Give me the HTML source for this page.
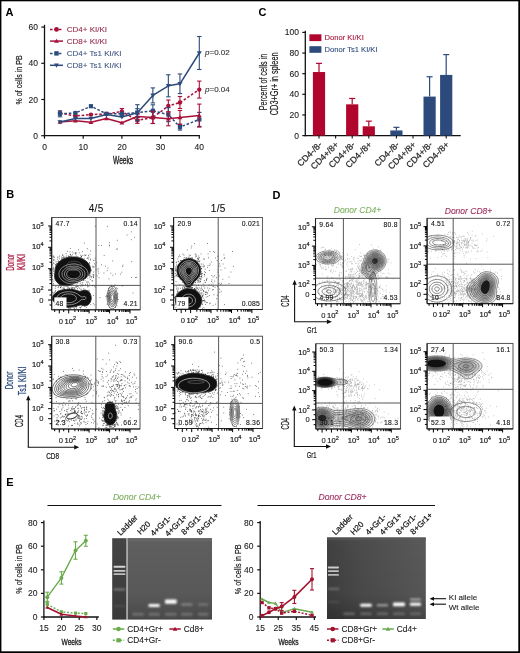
<!DOCTYPE html>
<html><head><meta charset="utf-8"><style>
html,body{margin:0;padding:0;background:#fff;}
svg{display:block;will-change:transform;}
svg text{font-family:"Liberation Sans",sans-serif;}
</style></head><body>
<svg width="520" height="653" viewBox="0 0 520 653">
<rect width="520" height="653" fill="#fff"/>
<rect x="0" y="0" width="520" height="1.3" fill="#000"/><rect x="0" y="0" width="1.4" height="653" fill="#000"/><rect x="518.3" y="0" width="1.7" height="653" fill="#000"/><rect x="0" y="651.3" width="520" height="1.7" fill="#000"/>
<text x="5.50" y="16.00" font-size="11" text-anchor="start" fill="#000" font-weight="bold" font-style="normal"  >A</text>
<text x="6.20" y="198.00" font-size="11" text-anchor="start" fill="#000" font-weight="bold" font-style="normal"  >B</text>
<text x="258.60" y="16.30" font-size="11" text-anchor="start" fill="#000" font-weight="bold" font-style="normal"  >C</text>
<text x="272.50" y="198.80" font-size="11" text-anchor="start" fill="#000" font-weight="bold" font-style="normal"  >D</text>
<text x="6.20" y="486.30" font-size="11" text-anchor="start" fill="#000" font-weight="bold" font-style="normal"  >E</text>
<line x1="44.50" y1="24.80" x2="44.50" y2="136.30" stroke="#111" stroke-width="1.3" />
<line x1="43.90" y1="135.70" x2="199.90" y2="135.70" stroke="#111" stroke-width="1.3" />
<line x1="41.30" y1="135.70" x2="44.50" y2="135.70" stroke="#111" stroke-width="1.2" />
<text x="38.00" y="138.70" font-size="8.5" text-anchor="end" fill="#222" font-weight="normal" font-style="normal" stroke="#222" stroke-width="0.1" >0</text>
<line x1="41.30" y1="99.50" x2="44.50" y2="99.50" stroke="#111" stroke-width="1.2" />
<text x="38.00" y="102.50" font-size="8.5" text-anchor="end" fill="#222" font-weight="normal" font-style="normal" stroke="#222" stroke-width="0.1" >20</text>
<line x1="41.30" y1="63.30" x2="44.50" y2="63.30" stroke="#111" stroke-width="1.2" />
<text x="38.00" y="66.30" font-size="8.5" text-anchor="end" fill="#222" font-weight="normal" font-style="normal" stroke="#222" stroke-width="0.1" >40</text>
<line x1="41.30" y1="27.10" x2="44.50" y2="27.10" stroke="#111" stroke-width="1.2" />
<text x="38.00" y="30.10" font-size="8.5" text-anchor="end" fill="#222" font-weight="normal" font-style="normal" stroke="#222" stroke-width="0.1" >60</text>
<line x1="44.50" y1="135.70" x2="44.50" y2="138.70" stroke="#111" stroke-width="1.2" />
<text x="44.50" y="149.60" font-size="8.5" text-anchor="middle" fill="#222" font-weight="normal" font-style="normal" stroke="#222" stroke-width="0.1" >0</text>
<line x1="83.20" y1="135.70" x2="83.20" y2="138.70" stroke="#111" stroke-width="1.2" />
<text x="83.20" y="149.60" font-size="8.5" text-anchor="middle" fill="#222" font-weight="normal" font-style="normal" stroke="#222" stroke-width="0.1" >10</text>
<line x1="121.90" y1="135.70" x2="121.90" y2="138.70" stroke="#111" stroke-width="1.2" />
<text x="121.90" y="149.60" font-size="8.5" text-anchor="middle" fill="#222" font-weight="normal" font-style="normal" stroke="#222" stroke-width="0.1" >20</text>
<line x1="160.60" y1="135.70" x2="160.60" y2="138.70" stroke="#111" stroke-width="1.2" />
<text x="160.60" y="149.60" font-size="8.5" text-anchor="middle" fill="#222" font-weight="normal" font-style="normal" stroke="#222" stroke-width="0.1" >30</text>
<line x1="199.30" y1="135.70" x2="199.30" y2="138.70" stroke="#111" stroke-width="1.2" />
<text x="199.30" y="149.60" font-size="8.5" text-anchor="middle" fill="#222" font-weight="normal" font-style="normal" stroke="#222" stroke-width="0.1" >40</text>
<text transform="translate(123.10,163.50) scale(0.6272810993722336,1)" font-size="10.6" text-anchor="middle" fill="#1a1a1a" font-weight="normal" stroke="#1a1a1a" stroke-width="0.35">Weeks</text>
<text transform="translate(22.10,79.90) rotate(-90) scale(0.7241221350219723,1)" font-size="9.8" text-anchor="middle" fill="#1a1a1a" font-weight="normal" stroke="#1a1a1a" stroke-width="0.2">% of cells in PB</text>
<polyline points="59.98,113.00 75.46,116.00 90.94,114.60 106.42,114.00 121.90,111.50 137.38,120.40 152.86,117.50 168.34,106.00 179.95,102.50 199.30,89.60" fill="none" stroke="#a8123a" stroke-width="1.5" stroke-dasharray="2.6,1.8" stroke-linejoin="round"/>
<circle cx="59.98" cy="113.00" r="2.20" fill="#a8123a"/>
<circle cx="75.46" cy="116.00" r="2.20" fill="#a8123a"/>
<circle cx="90.94" cy="114.60" r="2.20" fill="#a8123a"/>
<circle cx="106.42" cy="114.00" r="2.20" fill="#a8123a"/>
<line x1="121.90" y1="108.50" x2="121.90" y2="114.50" stroke="#a8123a" stroke-width="1.1" />
<line x1="119.70" y1="108.50" x2="124.10" y2="108.50" stroke="#a8123a" stroke-width="1.1" />
<line x1="119.70" y1="114.50" x2="124.10" y2="114.50" stroke="#a8123a" stroke-width="1.1" />
<circle cx="121.90" cy="111.50" r="2.20" fill="#a8123a"/>
<line x1="137.38" y1="117.40" x2="137.38" y2="123.40" stroke="#a8123a" stroke-width="1.1" />
<line x1="135.18" y1="117.40" x2="139.58" y2="117.40" stroke="#a8123a" stroke-width="1.1" />
<line x1="135.18" y1="123.40" x2="139.58" y2="123.40" stroke="#a8123a" stroke-width="1.1" />
<circle cx="137.38" cy="120.40" r="2.20" fill="#a8123a"/>
<line x1="152.86" y1="111.50" x2="152.86" y2="123.50" stroke="#a8123a" stroke-width="1.1" />
<line x1="150.66" y1="111.50" x2="155.06" y2="111.50" stroke="#a8123a" stroke-width="1.1" />
<line x1="150.66" y1="123.50" x2="155.06" y2="123.50" stroke="#a8123a" stroke-width="1.1" />
<circle cx="152.86" cy="117.50" r="2.20" fill="#a8123a"/>
<line x1="168.34" y1="100.00" x2="168.34" y2="112.00" stroke="#a8123a" stroke-width="1.1" />
<line x1="166.14" y1="100.00" x2="170.54" y2="100.00" stroke="#a8123a" stroke-width="1.1" />
<line x1="166.14" y1="112.00" x2="170.54" y2="112.00" stroke="#a8123a" stroke-width="1.1" />
<circle cx="168.34" cy="106.00" r="2.20" fill="#a8123a"/>
<line x1="179.95" y1="96.50" x2="179.95" y2="108.50" stroke="#a8123a" stroke-width="1.1" />
<line x1="177.75" y1="96.50" x2="182.15" y2="96.50" stroke="#a8123a" stroke-width="1.1" />
<line x1="177.75" y1="108.50" x2="182.15" y2="108.50" stroke="#a8123a" stroke-width="1.1" />
<circle cx="179.95" cy="102.50" r="2.20" fill="#a8123a"/>
<line x1="199.30" y1="81.10" x2="199.30" y2="98.10" stroke="#a8123a" stroke-width="1.1" />
<line x1="197.10" y1="81.10" x2="201.50" y2="81.10" stroke="#a8123a" stroke-width="1.1" />
<line x1="197.10" y1="98.10" x2="201.50" y2="98.10" stroke="#a8123a" stroke-width="1.1" />
<circle cx="199.30" cy="89.60" r="2.20" fill="#a8123a"/>
<polyline points="59.98,113.80 75.46,113.00 90.94,106.20 106.42,113.80 121.90,113.80 137.38,112.70 152.86,110.80 168.34,114.60 179.95,127.10 199.30,119.40" fill="none" stroke="#2c4a7c" stroke-width="1.5" stroke-dasharray="2.6,1.8" stroke-linejoin="round"/>
<line x1="59.98" y1="110.80" x2="59.98" y2="116.80" stroke="#2c4a7c" stroke-width="1.1" />
<line x1="57.78" y1="110.80" x2="62.18" y2="110.80" stroke="#2c4a7c" stroke-width="1.1" />
<line x1="57.78" y1="116.80" x2="62.18" y2="116.80" stroke="#2c4a7c" stroke-width="1.1" />
<rect x="57.88" y="111.70" width="4.20" height="4.20" fill="#2c4a7c"/>
<rect x="73.36" y="110.90" width="4.20" height="4.20" fill="#2c4a7c"/>
<rect x="88.84" y="104.10" width="4.20" height="4.20" fill="#2c4a7c"/>
<rect x="104.32" y="111.70" width="4.20" height="4.20" fill="#2c4a7c"/>
<rect x="119.80" y="111.70" width="4.20" height="4.20" fill="#2c4a7c"/>
<line x1="137.38" y1="108.70" x2="137.38" y2="116.70" stroke="#2c4a7c" stroke-width="1.1" />
<line x1="135.18" y1="108.70" x2="139.58" y2="108.70" stroke="#2c4a7c" stroke-width="1.1" />
<line x1="135.18" y1="116.70" x2="139.58" y2="116.70" stroke="#2c4a7c" stroke-width="1.1" />
<rect x="135.28" y="110.60" width="4.20" height="4.20" fill="#2c4a7c"/>
<line x1="152.86" y1="104.80" x2="152.86" y2="116.80" stroke="#2c4a7c" stroke-width="1.1" />
<line x1="150.66" y1="104.80" x2="155.06" y2="104.80" stroke="#2c4a7c" stroke-width="1.1" />
<line x1="150.66" y1="116.80" x2="155.06" y2="116.80" stroke="#2c4a7c" stroke-width="1.1" />
<rect x="150.76" y="108.70" width="4.20" height="4.20" fill="#2c4a7c"/>
<line x1="168.34" y1="107.60" x2="168.34" y2="121.60" stroke="#2c4a7c" stroke-width="1.1" />
<line x1="166.14" y1="107.60" x2="170.54" y2="107.60" stroke="#2c4a7c" stroke-width="1.1" />
<line x1="166.14" y1="121.60" x2="170.54" y2="121.60" stroke="#2c4a7c" stroke-width="1.1" />
<rect x="166.24" y="112.50" width="4.20" height="4.20" fill="#2c4a7c"/>
<line x1="179.95" y1="124.10" x2="179.95" y2="130.10" stroke="#2c4a7c" stroke-width="1.1" />
<line x1="177.75" y1="124.10" x2="182.15" y2="124.10" stroke="#2c4a7c" stroke-width="1.1" />
<line x1="177.75" y1="130.10" x2="182.15" y2="130.10" stroke="#2c4a7c" stroke-width="1.1" />
<rect x="177.85" y="125.00" width="4.20" height="4.20" fill="#2c4a7c"/>
<line x1="199.30" y1="112.40" x2="199.30" y2="126.40" stroke="#2c4a7c" stroke-width="1.1" />
<line x1="197.10" y1="112.40" x2="201.50" y2="112.40" stroke="#2c4a7c" stroke-width="1.1" />
<line x1="197.10" y1="126.40" x2="201.50" y2="126.40" stroke="#2c4a7c" stroke-width="1.1" />
<rect x="197.20" y="117.30" width="4.20" height="4.20" fill="#2c4a7c"/>
<polyline points="59.98,122.00 75.46,120.80 90.94,122.30 106.42,118.50 121.90,122.80 137.38,116.50 152.86,117.50 168.34,118.80 179.95,117.50 199.30,115.60" fill="none" stroke="#a8123a" stroke-width="1.5"  stroke-linejoin="round"/>
<polygon points="59.98,119.58 62.40,123.76 57.56,123.76" fill="#a8123a"/>
<polygon points="75.46,118.38 77.88,122.56 73.04,122.56" fill="#a8123a"/>
<polygon points="90.94,119.88 93.36,124.06 88.52,124.06" fill="#a8123a"/>
<polygon points="106.42,116.08 108.84,120.26 104.00,120.26" fill="#a8123a"/>
<polygon points="121.90,120.38 124.32,124.56 119.48,124.56" fill="#a8123a"/>
<line x1="137.38" y1="113.50" x2="137.38" y2="119.50" stroke="#a8123a" stroke-width="1.1" />
<line x1="135.18" y1="113.50" x2="139.58" y2="113.50" stroke="#a8123a" stroke-width="1.1" />
<line x1="135.18" y1="119.50" x2="139.58" y2="119.50" stroke="#a8123a" stroke-width="1.1" />
<polygon points="137.38,114.08 139.80,118.26 134.96,118.26" fill="#a8123a"/>
<line x1="152.86" y1="111.50" x2="152.86" y2="123.50" stroke="#a8123a" stroke-width="1.1" />
<line x1="150.66" y1="111.50" x2="155.06" y2="111.50" stroke="#a8123a" stroke-width="1.1" />
<line x1="150.66" y1="123.50" x2="155.06" y2="123.50" stroke="#a8123a" stroke-width="1.1" />
<polygon points="152.86,115.08 155.28,119.26 150.44,119.26" fill="#a8123a"/>
<line x1="168.34" y1="111.80" x2="168.34" y2="125.80" stroke="#a8123a" stroke-width="1.1" />
<line x1="166.14" y1="111.80" x2="170.54" y2="111.80" stroke="#a8123a" stroke-width="1.1" />
<line x1="166.14" y1="125.80" x2="170.54" y2="125.80" stroke="#a8123a" stroke-width="1.1" />
<polygon points="168.34,116.38 170.76,120.56 165.92,120.56" fill="#a8123a"/>
<line x1="179.95" y1="110.50" x2="179.95" y2="124.50" stroke="#a8123a" stroke-width="1.1" />
<line x1="177.75" y1="110.50" x2="182.15" y2="110.50" stroke="#a8123a" stroke-width="1.1" />
<line x1="177.75" y1="124.50" x2="182.15" y2="124.50" stroke="#a8123a" stroke-width="1.1" />
<polygon points="179.95,115.08 182.37,119.26 177.53,119.26" fill="#a8123a"/>
<line x1="199.30" y1="104.10" x2="199.30" y2="127.10" stroke="#a8123a" stroke-width="1.1" />
<line x1="197.10" y1="104.10" x2="201.50" y2="104.10" stroke="#a8123a" stroke-width="1.1" />
<line x1="197.10" y1="127.10" x2="201.50" y2="127.10" stroke="#a8123a" stroke-width="1.1" />
<polygon points="199.30,113.18 201.72,117.36 196.88,117.36" fill="#a8123a"/>
<polyline points="59.98,122.00 75.46,118.50 90.94,118.50 106.42,114.60 121.90,117.00 137.38,112.70 152.86,95.40 168.34,85.80 179.95,83.80 199.30,53.00" fill="none" stroke="#2c4a7c" stroke-width="1.5"  stroke-linejoin="round"/>
<polygon points="59.98,124.53 62.51,120.16 57.45,120.16" fill="#2c4a7c"/>
<polygon points="75.46,121.03 77.99,116.66 72.93,116.66" fill="#2c4a7c"/>
<polygon points="90.94,121.03 93.47,116.66 88.41,116.66" fill="#2c4a7c"/>
<polygon points="106.42,117.13 108.95,112.76 103.89,112.76" fill="#2c4a7c"/>
<polygon points="121.90,119.53 124.43,115.16 119.37,115.16" fill="#2c4a7c"/>
<line x1="137.38" y1="104.70" x2="137.38" y2="120.70" stroke="#2c4a7c" stroke-width="1.1" />
<line x1="135.18" y1="104.70" x2="139.58" y2="104.70" stroke="#2c4a7c" stroke-width="1.1" />
<line x1="135.18" y1="120.70" x2="139.58" y2="120.70" stroke="#2c4a7c" stroke-width="1.1" />
<polygon points="137.38,115.23 139.91,110.86 134.85,110.86" fill="#2c4a7c"/>
<line x1="152.86" y1="87.90" x2="152.86" y2="102.90" stroke="#2c4a7c" stroke-width="1.1" />
<line x1="150.66" y1="87.90" x2="155.06" y2="87.90" stroke="#2c4a7c" stroke-width="1.1" />
<line x1="150.66" y1="102.90" x2="155.06" y2="102.90" stroke="#2c4a7c" stroke-width="1.1" />
<polygon points="152.86,97.93 155.39,93.56 150.33,93.56" fill="#2c4a7c"/>
<line x1="168.34" y1="74.80" x2="168.34" y2="96.80" stroke="#2c4a7c" stroke-width="1.1" />
<line x1="166.14" y1="74.80" x2="170.54" y2="74.80" stroke="#2c4a7c" stroke-width="1.1" />
<line x1="166.14" y1="96.80" x2="170.54" y2="96.80" stroke="#2c4a7c" stroke-width="1.1" />
<polygon points="168.34,88.33 170.87,83.96 165.81,83.96" fill="#2c4a7c"/>
<line x1="179.95" y1="74.00" x2="179.95" y2="93.60" stroke="#2c4a7c" stroke-width="1.1" />
<line x1="177.75" y1="74.00" x2="182.15" y2="74.00" stroke="#2c4a7c" stroke-width="1.1" />
<line x1="177.75" y1="93.60" x2="182.15" y2="93.60" stroke="#2c4a7c" stroke-width="1.1" />
<polygon points="179.95,86.33 182.48,81.96 177.42,81.96" fill="#2c4a7c"/>
<line x1="199.30" y1="36.50" x2="199.30" y2="69.50" stroke="#2c4a7c" stroke-width="1.1" />
<line x1="197.10" y1="36.50" x2="201.50" y2="36.50" stroke="#2c4a7c" stroke-width="1.1" />
<line x1="197.10" y1="69.50" x2="201.50" y2="69.50" stroke="#2c4a7c" stroke-width="1.1" />
<polygon points="199.30,55.53 201.83,51.16 196.77,51.16" fill="#2c4a7c"/>
<line x1="50" y1="29.4" x2="63" y2="29.4" stroke="#a8123a" stroke-width="1.5" stroke-dasharray="2.6,1.8"/>
<circle cx="56.50" cy="29.40" r="2.40" fill="#a8123a"/>
<text x="66.80" y="32.30" font-size="8" text-anchor="start" fill="#952a48" font-weight="normal" font-style="normal" stroke="#952a48" stroke-width="0.1" >CD4+ KI/KI</text>
<line x1="50" y1="41.1" x2="63" y2="41.1" stroke="#a8123a" stroke-width="1.5" />
<polygon points="56.50,38.68 58.92,42.86 54.08,42.86" fill="#a8123a"/>
<text x="66.80" y="44.00" font-size="8" text-anchor="start" fill="#952a48" font-weight="normal" font-style="normal" stroke="#952a48" stroke-width="0.1" >CD8+ KI/KI</text>
<line x1="50" y1="53.4" x2="63" y2="53.4" stroke="#2c4a7c" stroke-width="1.5" stroke-dasharray="2.6,1.8"/>
<rect x="54.30" y="51.20" width="4.40" height="4.40" fill="#2c4a7c"/>
<text x="66.80" y="56.30" font-size="8" text-anchor="start" fill="#3f5580" font-weight="normal" font-style="normal" stroke="#3f5580" stroke-width="0.1" >CD4+ Ts1 KI/KI</text>
<line x1="50" y1="65.3" x2="63" y2="65.3" stroke="#2c4a7c" stroke-width="1.5" />
<polygon points="56.50,67.72 58.92,63.54 54.08,63.54" fill="#2c4a7c"/>
<text x="66.80" y="68.20" font-size="8" text-anchor="start" fill="#3f5580" font-weight="normal" font-style="normal" stroke="#3f5580" stroke-width="0.1" >CD8+ Ts1 KI/KI</text>
<text x="205.00" y="55.00" font-size="8" text-anchor="start" fill="#333" font-weight="normal" font-style="normal" stroke="#333" stroke-width="0.1" ><tspan font-style="italic">p</tspan>=0.02</text>
<text x="205.00" y="91.50" font-size="8" text-anchor="start" fill="#333" font-weight="normal" font-style="normal" stroke="#333" stroke-width="0.1" ><tspan font-style="italic">p</tspan>=0.04</text>
<line x1="305.30" y1="30.80" x2="305.30" y2="136.20" stroke="#111" stroke-width="1.3" />
<line x1="304.70" y1="135.60" x2="460.70" y2="135.60" stroke="#111" stroke-width="1.3" />
<line x1="302.30" y1="135.60" x2="305.30" y2="135.60" stroke="#111" stroke-width="1.2" />
<text x="299.00" y="138.60" font-size="8.5" text-anchor="end" fill="#222" font-weight="normal" font-style="normal" stroke="#222" stroke-width="0.1" >0</text>
<line x1="302.30" y1="114.96" x2="305.30" y2="114.96" stroke="#111" stroke-width="1.2" />
<text x="299.00" y="117.96" font-size="8.5" text-anchor="end" fill="#222" font-weight="normal" font-style="normal" stroke="#222" stroke-width="0.1" >20</text>
<line x1="302.30" y1="94.32" x2="305.30" y2="94.32" stroke="#111" stroke-width="1.2" />
<text x="299.00" y="97.32" font-size="8.5" text-anchor="end" fill="#222" font-weight="normal" font-style="normal" stroke="#222" stroke-width="0.1" >40</text>
<line x1="302.30" y1="73.68" x2="305.30" y2="73.68" stroke="#111" stroke-width="1.2" />
<text x="299.00" y="76.68" font-size="8.5" text-anchor="end" fill="#222" font-weight="normal" font-style="normal" stroke="#222" stroke-width="0.1" >60</text>
<line x1="302.30" y1="53.04" x2="305.30" y2="53.04" stroke="#111" stroke-width="1.2" />
<text x="299.00" y="56.04" font-size="8.5" text-anchor="end" fill="#222" font-weight="normal" font-style="normal" stroke="#222" stroke-width="0.1" >80</text>
<line x1="302.30" y1="32.40" x2="305.30" y2="32.40" stroke="#111" stroke-width="1.2" />
<text x="299.00" y="35.40" font-size="8.5" text-anchor="end" fill="#222" font-weight="normal" font-style="normal" stroke="#222" stroke-width="0.1" >100</text>
<text transform="translate(267.30,82.00) rotate(-90) scale(0.6950464485548377,1)" font-size="10.3" text-anchor="middle" fill="#1a1a1a" font-weight="normal" stroke="#1a1a1a" stroke-width="0.2">Percent of cells in</text>
<text transform="translate(277.60,83.80) rotate(-90) scale(0.7122895647062222,1)" font-size="10.3" text-anchor="middle" fill="#1a1a1a" font-weight="normal" stroke="#1a1a1a" stroke-width="0.2">CD3+Gr+ in spleen</text>
<rect x="309.40" y="34.30" width="12.00" height="6.80" fill="#b0062e" />
<rect x="309.40" y="46.20" width="12.00" height="6.60" fill="#2c4a7c" />
<text x="324.50" y="40.30" font-size="7.6" text-anchor="start" fill="#a8123a" font-weight="normal" font-style="normal" stroke="#a8123a" stroke-width="0.1" >Donor KI/KI</text>
<text x="324.50" y="52.20" font-size="7.6" text-anchor="start" fill="#2c4a7c" font-weight="normal" font-style="normal" stroke="#2c4a7c" stroke-width="0.1" >Donor Ts1 KI/KI</text>
<line x1="319.00" y1="63.36" x2="319.00" y2="72.03" stroke="#b0062e" stroke-width="1.2" />
<line x1="316.00" y1="63.36" x2="322.00" y2="63.36" stroke="#b0062e" stroke-width="1.2" />
<rect x="312.90" y="72.03" width="12.20" height="63.57" fill="#b0062e" />
<line x1="319.00" y1="135.60" x2="319.00" y2="138.60" stroke="#111" stroke-width="1.1" />
<text transform="translate(322.50,145.10) rotate(-45)" font-size="8.8" text-anchor="end" fill="#222" stroke="#222" stroke-width="0.2">CD4-/8-</text>
<line x1="335.60" y1="135.60" x2="335.60" y2="138.60" stroke="#111" stroke-width="1.1" />
<text transform="translate(339.10,145.10) rotate(-45)" font-size="8.8" text-anchor="end" fill="#222" stroke="#222" stroke-width="0.2">CD4+/8+</text>
<line x1="352.20" y1="98.45" x2="352.20" y2="104.33" stroke="#b0062e" stroke-width="1.2" />
<line x1="349.20" y1="98.45" x2="355.20" y2="98.45" stroke="#b0062e" stroke-width="1.2" />
<rect x="346.10" y="104.33" width="12.20" height="31.27" fill="#b0062e" />
<line x1="352.20" y1="135.60" x2="352.20" y2="138.60" stroke="#111" stroke-width="1.1" />
<text transform="translate(355.70,145.10) rotate(-45)" font-size="8.8" text-anchor="end" fill="#222" stroke="#222" stroke-width="0.2">CD4+/8-</text>
<line x1="368.80" y1="121.15" x2="368.80" y2="126.31" stroke="#b0062e" stroke-width="1.2" />
<line x1="365.80" y1="121.15" x2="371.80" y2="121.15" stroke="#b0062e" stroke-width="1.2" />
<rect x="362.70" y="126.31" width="12.20" height="9.29" fill="#b0062e" />
<line x1="368.80" y1="135.60" x2="368.80" y2="138.60" stroke="#111" stroke-width="1.1" />
<text transform="translate(372.30,145.10) rotate(-45)" font-size="8.8" text-anchor="end" fill="#222" stroke="#222" stroke-width="0.2">CD4-/8+</text>
<line x1="396.40" y1="127.34" x2="396.40" y2="130.44" stroke="#2c4a7c" stroke-width="1.2" />
<line x1="393.40" y1="127.34" x2="399.40" y2="127.34" stroke="#2c4a7c" stroke-width="1.2" />
<rect x="390.30" y="130.44" width="12.20" height="5.16" fill="#2c4a7c" />
<line x1="396.40" y1="135.60" x2="396.40" y2="138.60" stroke="#111" stroke-width="1.1" />
<text transform="translate(399.90,145.10) rotate(-45)" font-size="8.8" text-anchor="end" fill="#222" stroke="#222" stroke-width="0.2">CD4-/8-</text>
<line x1="413.00" y1="135.60" x2="413.00" y2="138.60" stroke="#111" stroke-width="1.1" />
<text transform="translate(416.50,145.10) rotate(-45)" font-size="8.8" text-anchor="end" fill="#222" stroke="#222" stroke-width="0.2">CD4+/8+</text>
<line x1="429.60" y1="76.78" x2="429.60" y2="96.59" stroke="#2c4a7c" stroke-width="1.2" />
<line x1="426.60" y1="76.78" x2="432.60" y2="76.78" stroke="#2c4a7c" stroke-width="1.2" />
<rect x="423.50" y="96.59" width="12.20" height="39.01" fill="#2c4a7c" />
<line x1="429.60" y1="135.60" x2="429.60" y2="138.60" stroke="#111" stroke-width="1.1" />
<text transform="translate(433.10,145.10) rotate(-45)" font-size="8.8" text-anchor="end" fill="#222" stroke="#222" stroke-width="0.2">CD4+/8-</text>
<line x1="446.20" y1="54.59" x2="446.20" y2="74.92" stroke="#2c4a7c" stroke-width="1.2" />
<line x1="443.20" y1="54.59" x2="449.20" y2="54.59" stroke="#2c4a7c" stroke-width="1.2" />
<rect x="440.10" y="74.92" width="12.20" height="60.68" fill="#2c4a7c" />
<line x1="446.20" y1="135.60" x2="446.20" y2="138.60" stroke="#111" stroke-width="1.1" />
<text transform="translate(449.70,145.10) rotate(-45)" font-size="8.8" text-anchor="end" fill="#222" stroke="#222" stroke-width="0.2">CD4-/8+</text>
<clipPath id="cB1"><rect x="51.7" y="217.5" width="88.49999999999999" height="92.30000000000001"/></clipPath>
<g clip-path="url(#cB1)">
<path d="M112.4 260.9h.7M131.4 277.5h.7M114.7 285.0h.7M109.2 242.8h.7M120.1 274.1h.7M109.0 245.8h.7M121.5 272.2h.7M89.4 263.3h.7M98.7 277.7h.7M83.9 243.1h.7M121.8 285.9h.7M82.2 251.7h.7M116.5 249.4h.7M134.0 237.3h.7M116.9 240.3h.7M131.4 261.6h.7M106.9 226.4h.7M135.2 277.6h.7M122.4 285.6h.7M116.8 248.8h.7M101.0 245.4h.7M130.9 231.8h.7M103.8 255.4h.7M115.1 273.9h.7M94.8 226.2h.7M111.9 287.1h.7M122.4 266.5h.7M107.6 268.1h.7M108.6 278.9h.7M101.0 264.8h.7M110.5 273.2h.7M132.7 293.0h.7M83.9 255.0h.7M103.6 273.0h.7M80.5 286.3h.7M126.7 235.0h.7M98.5 245.4h.7M112.6 275.3h.7M122.6 265.2h.7M136.3 277.4h.7M130.9 239.7h.7M109.3 245.2h.7" stroke="#1a1a1a" stroke-width="0.75"/>
<path d="M83.8 258.3h.7M58.3 286.7h.7M53.1 262.9h.7M59.4 256.0h.7M92.4 280.9h.7M61.9 259.3h.7M93.3 276.3h.7M77.3 288.7h.7M71.9 287.5h.7M61.2 260.0h.7M80.9 256.2h.7M62.4 255.4h.7M53.5 256.8h.7M89.3 262.6h.7M52.3 275.5h.7M62.3 258.2h.7M89.9 279.4h.7M76.3 283.9h.7M92.7 267.7h.7M83.4 280.4h.7M63.0 257.7h.7M66.1 256.1h.7M90.1 250.9h.7M82.4 285.9h.7M94.9 287.1h.7M93.5 275.2h.7M96.8 269.2h.7M69.6 251.8h.7M53.5 281.1h.7M94.5 286.3h.7M53.4 283.7h.7M75.4 286.8h.7M80.7 257.8h.7M92.4 266.2h.7M57.0 259.2h.7M86.1 282.1h.7M86.8 258.5h.7M69.4 257.0h.7M60.2 285.3h.7M53.1 260.6h.7M87.2 284.1h.7M52.6 268.9h.7M53.5 268.4h.7M90.2 259.1h.7M87.6 282.1h.7M58.0 261.5h.7M71.9 289.5h.7M69.8 254.4h.7M93.4 272.0h.7M56.0 263.5h.7M55.0 264.7h.7M88.6 257.0h.7M89.9 260.0h.7M68.2 298.1h.7M78.2 249.8h.7M59.1 258.9h.7M93.0 266.7h.7M77.5 283.2h.7M82.0 284.0h.7M95.5 270.0h.7M93.1 260.4h.7M70.8 256.2h.7M73.6 253.1h.7M54.5 276.2h.7M67.1 289.1h.7M59.4 285.2h.7M67.3 251.3h.7M92.3 285.7h.7M87.5 278.2h.7M92.7 274.4h.7M52.4 264.8h.7M93.3 274.9h.7M55.7 264.8h.7M105.3 266.2h.7M91.6 276.4h.7M71.9 252.0h.7M56.8 262.0h.7M70.3 254.5h.7M68.4 256.4h.7M85.3 255.5h.7M69.6 256.7h.7M52.4 279.6h.7M98.4 268.8h.7M98.4 273.2h.7M83.3 280.4h.7M67.9 256.0h.7M79.9 282.3h.7M76.0 253.1h.7M96.3 262.7h.7M97.8 271.2h.7M86.9 248.6h.7M68.6 257.4h.7M67.4 289.6h.7M53.0 267.2h.7M52.7 273.5h.7M81.3 256.5h.7M63.8 257.6h.7M94.9 258.1h.7M87.2 285.0h.7M57.2 257.1h.7M76.1 256.1h.7M93.1 277.6h.7M65.8 253.7h.7M65.8 257.6h.7M91.7 280.8h.7M89.7 254.3h.7M80.4 255.2h.7M85.6 255.1h.7M95.4 265.1h.7M80.8 257.1h.7M94.6 267.0h.7M82.5 282.5h.7M53.7 270.9h.7M52.9 256.0h.7M53.6 263.5h.7M88.1 255.5h.7M80.3 257.9h.7M77.3 282.8h.7M62.3 254.7h.7M87.4 257.8h.7M106.9 270.7h.7M54.6 278.2h.7M90.6 270.8h.7M71.3 257.1h.7M58.3 260.8h.7M59.4 285.7h.7M54.5 274.8h.7M60.2 284.9h.7M68.8 256.7h.7M61.0 258.8h.7M69.9 248.5h.7M71.9 288.6h.7M92.6 285.4h.7M94.6 260.2h.7M72.0 254.8h.7M84.7 280.6h.7M70.6 255.6h.7M79.8 283.6h.7M55.6 261.8h.7M76.5 257.1h.7M78.1 257.5h.7M96.8 275.8h.7M89.3 277.1h.7M81.3 284.9h.7M53.4 271.2h.7M67.2 287.1h.7M82.4 259.0h.7M93.0 277.2h.7M53.2 259.3h.7M52.8 269.6h.7M82.5 255.5h.7M56.2 265.2h.7M83.2 285.3h.7M88.5 286.7h.7M89.7 273.7h.7M77.5 256.7h.7M68.2 290.1h.7M64.5 257.0h.7M85.1 284.4h.7M61.2 257.1h.7M91.2 270.0h.7M60.3 287.5h.7M54.4 260.0h.7M78.8 252.8h.7M90.7 276.4h.7M63.3 256.2h.7M89.5 275.4h.7M75.3 253.4h.7M90.9 277.7h.7M89.0 283.9h.7M62.6 257.8h.7M89.7 275.8h.7M52.7 256.9h.7M55.4 265.1h.7M87.7 282.0h.7M58.6 257.2h.7M63.7 259.0h.7M94.1 263.8h.7M68.4 287.8h.7M61.8 259.6h.7M75.1 252.4h.7M88.0 258.9h.7M53.9 257.4h.7M75.4 254.3h.7" stroke="#1a1a1a" stroke-width="0.75"/>
<path d="M66.9 285.9l-3.6 -0.2 -1.6 -0.4 -2 -0.9 -1.6 -1.1 -1.1 -1 -1.6 -2.4 -0.5 -1.6 -0.3 -2 0.5 -6.4 0.3 -2 0.6 -1.6 1.6 -2.8 2.1 -2.2 3.2 -2.1 4 -1.5 4 -0.6 4 -0.1 4 0.7 3.6 1.3 3.2 1.8 1.7 1.5 1.3 1.6 1.1 2 0.6 2 0.1 2 -0.3 2 -0.8 2 -1 1.6 -1.1 1.3 -1.6 1.4 -3.2 1.9 -6.4 2.6 -4.8 2.2 -2.4 0.8 -2 0.2z" fill="#111" stroke="#222" stroke-width="0.55"/>
<path d="M66.9 285.9l-3.6 -0.2 -1.6 -0.4 -2 -0.9 -1.6 -1.1 -1.1 -1 -1.6 -2.4 -0.5 -1.6 -0.3 -2 0.5 -6.4 0.3 -2 0.6 -1.6 1.6 -2.8 2.1 -2.2 3.2 -2.1 4 -1.5 4 -0.6 4 -0.1 4 0.7 3.6 1.3 3.2 1.8 1.7 1.5 1.3 1.6 1.1 2 0.6 2 0.1 2 -0.3 2 -0.8 2 -1 1.6 -1.1 1.3 -1.6 1.4 -3.2 1.9 -6.4 2.6 -4.8 2.2 -2.4 0.8 -2 0.2z" fill="none" stroke="#222" stroke-width="0.55"/>
<path d="M75.7 283.9l-4.4 0 -2 -0.3 -2.4 -0.6 -2 -0.9 -1.6 -0.9 -1.6 -1.3 -1.1 -1.2 -0.8 -1.2 -0.6 -1.6 -0.3 -1.6 0.1 -1.6 0.5 -1.6 0.7 -1.2 0.9 -1.2 1.3 -1.2 2.9 -1.8 2.8 -1 3.2 -0.6 3.6 -0.1 3.6 0.6 3.2 1.1 2.4 1.4 2.2 2 1.2 2 0.6 2.4 -0.3 2.4 -1.1 2.4 -1.8 2 -2.8 1.8 -3.2 1.2 -3.2 0.6z" fill="none" stroke="#f4f4f4" stroke-width="0.5"/>
<path d="M74.5 281.9l-3.6 -0.2 -3.2 -0.8 -2.5 -1.4 -2.1 -2 -0.6 -1.2 -0.4 -1.2 -0.1 -1.2 0.1 -1.2 0.4 -1.2 0.8 -1.2 2.2 -2 2.2 -1.2 2.4 -0.7 2.8 -0.3 2.8 0.1 2.4 0.5 2.4 1 2.1 1.4 1.4 1.6 0.8 1.6 0.2 2 -0.5 2 -1 1.6 -1.7 1.6 -2.1 1.2 -2.4 0.8 -2.8 0.4z" fill="none" stroke="#f4f4f4" stroke-width="0.5"/>
<path d="M73.7 280.3l-2.8 -0.3 -2.8 -0.9 -2 -1.4 -1.3 -1.8 -0.5 -2 0.6 -2 1.2 -1.6 2.4 -1.6 2 -0.7 2 -0.3 2.4 0.1 2 0.3 2 0.8 1.6 1 1.1 1.2 0.7 1.2 0.3 1.2 -0.1 1.6 -0.5 1.2 -1.1 1.4 -1.3 1 -1.9 0.9 -2 0.5 -2 0.2z" fill="none" stroke="#f4f4f4" stroke-width="0.5"/>
<path d="M74.5 278.7l-2 0 -2 -0.4 -1.7 -0.8 -1.4 -1.2 -0.7 -1.2 -0.1 -1.6 0.7 -1.6 1.2 -1.2 1.2 -0.7 1.6 -0.5 1.6 -0.3 1.6 0.1 1.6 0.3 1.6 0.6 1.2 0.8 0.8 0.9 0.6 1.2 0.1 1.2 -0.3 1.2 -0.5 0.8 -0.8 0.8 -1.3 0.8 -1.4 0.5 -1.6 0.3z" fill="none" stroke="#f4f4f4" stroke-width="0.5"/>
<path d="M76.9 270.3l-2 0.3 -2.4 0 -2 -0.4 -2 -0.9 -1.2 -1 -0.8 -1.2 -0.2 -1.6 0.5 -1.2 0.9 -1 1.2 -0.8 1.6 -0.7 2 -0.4 2 -0.1 2 0.3 1.6 0.4 1.4 0.7 1 0.8 1 1.2 0.3 1.2 -0.3 1.2 -0.7 1.2 -1 0.8 -1.3 0.7 -1.6 0.5z" fill="none" stroke="#777" stroke-width="0.5"/>
<path d="M75.7 268.3l-2.4 0.2 -2.1 -0.6 -0.7 -0.5 -0.6 -0.7 -0.1 -0.8 0.2 -0.8 1.3 -1 1.6 -0.5 2 -0.1 2 0.7 1.1 0.9 0.2 1.2 -0.8 1.2 -1.7 0.8z" fill="none" stroke="#777" stroke-width="0.5"/>
<path d="M52.9 296.3h.7M64.3 289.0h.7M52.4 296.2h.7M82.1 290.9h.7M52.5 298.2h.7M53.0 285.0h.7M74.1 308.6h.7M80.1 308.0h.7M60.9 286.6h.7M69.8 307.8h.7M54.8 305.7h.7M52.7 297.2h.7M54.9 288.2h.7M93.2 295.4h.7M57.2 291.4h.7M52.8 297.5h.7M89.4 291.9h.7M60.1 287.2h.7M56.0 304.2h.7M64.2 289.4h.7M99.6 297.5h.7M56.7 304.8h.7M54.9 291.5h.7M72.3 289.8h.7M70.4 308.6h.7M92.9 303.6h.7M74.6 287.9h.7M83.6 290.3h.7M69.3 285.2h.7M87.1 286.8h.7M54.5 303.1h.7M52.4 299.8h.7M86.0 307.6h.7M64.2 289.3h.7M71.5 288.8h.7M54.2 308.8h.7M59.0 306.8h.7M83.5 288.8h.7M88.8 290.3h.7M82.1 305.6h.7M52.4 292.6h.7M76.1 306.7h.7M68.0 307.8h.7M79.3 288.2h.7M57.8 287.6h.7M61.2 306.5h.7M56.2 306.9h.7M58.1 307.0h.7M81.3 290.0h.7M81.2 306.8h.7M60.6 290.4h.7M81.9 290.9h.7M80.3 291.2h.7M76.7 290.2h.7M64.8 308.2h.7M72.8 287.7h.7M79.4 307.3h.7M54.0 292.4h.7M93.9 304.9h.7M71.2 288.6h.7M69.4 289.0h.7M76.0 286.3h.7M77.1 286.5h.7M69.3 308.1h.7M76.4 308.2h.7M78.0 286.9h.7M63.2 283.9h.7M58.4 290.4h.7M55.1 293.3h.7M63.7 287.9h.7M61.6 284.0h.7M57.5 292.0h.7M53.0 295.4h.7M60.5 290.3h.7M68.1 308.1h.7M73.6 307.8h.7M69.1 288.2h.7M90.5 304.5h.7M63.1 288.8h.7M55.4 290.6h.7M87.8 290.9h.7M68.9 289.3h.7M62.3 308.3h.7M52.4 299.6h.7M75.7 306.8h.7M55.5 286.4h.7M57.0 292.3h.7M59.1 284.3h.7M80.5 289.1h.7M80.2 307.3h.7M72.8 289.5h.7M53.1 293.1h.7M54.4 305.6h.7M73.7 288.8h.7M57.5 306.6h.7M70.8 287.3h.7M75.6 307.2h.7M84.3 306.1h.7M74.2 288.1h.7M68.5 288.9h.7M76.1 287.1h.7M62.6 288.0h.7M60.5 287.9h.7M53.8 294.5h.7" stroke="#1a1a1a" stroke-width="0.75"/>
<path d="M71.7 307.1l-4 0.2 -4 -0.4 -4 -1.1 -3.2 -1.6 -2.2 -1.9 -0.9 -1.2 -0.5 -1.2 -0.3 -1.2 0.1 -1.2 0.3 -1.2 0.6 -1.2 2.1 -2.1 2.8 -1.7 3.6 -1.3 4.4 -0.6 3.2 -0.1 3.2 0.3 2.4 0.5 3.2 1 1.6 0.3 1.2 -0.2 2.8 -1 1.6 0 2 0.8 1.5 1.3 0.9 1.2 0.6 1.6 0.4 1.6 0.1 2 -0.3 1.6 -0.5 1.6 -1 1.6 -0.9 1 -1.2 0.8 -1.6 0.5 -1.6 0 -2.6 -0.7 -1.4 -0.1 -5.2 1.6 -3.2 0.5z" fill="#111" stroke="#222" stroke-width="0.55"/>
<path d="M71.7 307.1l-4 0.2 -4 -0.4 -4 -1.1 -3.2 -1.6 -2.2 -1.9 -0.9 -1.2 -0.5 -1.2 -0.3 -1.2 0.1 -1.2 0.3 -1.2 0.6 -1.2 2.1 -2.1 2.8 -1.7 3.6 -1.3 4.4 -0.6 3.2 -0.1 3.2 0.3 2.4 0.5 3.2 1 1.6 0.3 1.2 -0.2 2.8 -1 1.6 0 2 0.8 1.5 1.3 0.9 1.2 0.6 1.6 0.4 1.6 0.1 2 -0.3 1.6 -0.5 1.6 -1 1.6 -0.9 1 -1.2 0.8 -1.6 0.5 -1.6 0 -2.6 -0.7 -1.4 -0.1 -5.2 1.6 -3.2 0.5z" fill="none" stroke="#222" stroke-width="0.55"/>
<path d="M71.3 304.7l-3.2 0.2 -2.8 -0.2 -2.8 -0.7 -2.4 -1.1 -1.8 -1.4 -1.1 -1.6 -0.3 -1.2 0 -0.8 0.5 -1.6 0.9 -1.2 0.9 -0.8 2.5 -1.4 3.6 -1 4 -0.2 3.2 0.4 2.8 0.8 2.4 1.3 3.2 2.3 0.8 0.4 0.8 0 2 -0.4 0.8 0.3 0.4 0.5 0.1 0.6 -0.1 0.8 -0.8 0.8 -0.8 0.1 -1.6 -0.2 -0.8 0.1 -3.6 2.7 -1.6 0.9 -2.4 1 -2.8 0.6z" fill="none" stroke="#fff" stroke-width="0.5"/>
<path d="M69.7 302.7l-2 0 -2 -0.2 -1.9 -0.6 -1.5 -0.8 -0.9 -0.8 -0.7 -1.2 -0.1 -1.2 0.5 -1.2 1.2 -1.2 1.4 -0.7 1.6 -0.6 2 -0.3 2 0 2 0.2 1.9 0.6 1.5 0.8 0.9 0.8 0.7 1.2 0.1 1.2 -0.5 1.2 -1.2 1.2 -1.4 0.7 -1.6 0.6 -2 0.3z" fill="none" stroke="#fff" stroke-width="0.5"/>
<path d="M107.6 304.7h.7M117.9 299.6h.7M110.8 286.3h.7M114.9 307.5h.7M109.0 287.2h.7M115.9 287.9h.7M106.5 296.0h.7M105.5 296.7h.7M108.1 290.6h.7M117.3 288.7h.7M107.6 293.2h.7M116.6 305.8h.7M111.2 285.4h.7M108.2 288.4h.7M109.2 307.5h.7M106.7 304.1h.7M107.1 296.9h.7M106.8 295.4h.7M117.6 293.9h.7M114.2 285.9h.7" stroke="#1a1a1a" stroke-width="0.75"/>
<path d="M112.9 308.8l-0.8 0.1 -1.2 -0.4 -1.1 -1 -0.9 -1.2 -0.7 -1.6 -0.6 -2 -0.6 -4.4 0.2 -4 0.4 -2 0.7 -2.4 0.9 -1.6 0.9 -1.2 0.8 -0.6 1.2 -0.4 0.8 0.1 1.2 0.6 1.1 1.1 0.7 1.2 1.2 3.6 0.5 4 -0.2 4 -1 4 -0.5 1.2 -1 1.5 -0.8 0.8 -1.2 0.6z" fill="none" stroke="#111" stroke-width="0.55"/>
<path d="M112.5 306.7l-0.8 0 -0.8 -0.5 -0.8 -0.8 -0.7 -1.1 -1.1 -3.2 -0.3 -3.2 0.3 -3.6 0.9 -3.2 1.3 -2 0.8 -0.6 0.8 -0.2 0.8 0 0.8 0.5 0.8 0.8 0.7 1.1 1.1 3.2 0.3 3.2 -0.3 3.6 -0.9 3.2 -1.3 2 -0.8 0.6 -0.8 0.2z" fill="none" stroke="#111" stroke-width="0.55"/>
<path d="M112.9 305.1l-0.8 0.1 -0.8 -0.3 -1.2 -1.3 -1 -2.5 -0.4 -2.8 0.1 -2.8 0.7 -2.8 1.1 -2 0.7 -0.6 0.8 -0.3 1.2 0.3 1.3 1.4 0.9 2.4 0.4 2.8 -0.1 2.8 -0.7 2.8 -1 1.9 -1.2 0.9z" fill="none" stroke="#111" stroke-width="0.55"/>
<path d="M112.9 303.6l-0.4 0.1 -0.8 -0.1 -1.2 -1.2 -0.7 -1.7 -0.4 -2.4 0.1 -2.4 0.6 -2.4 0.8 -1.5 1.2 -0.7 1.2 0.3 0.8 1 0.7 1.7 0.4 2.4 -0.1 2.4 -0.4 2 -0.8 1.6 -1 0.9z" fill="none" stroke="#111" stroke-width="0.55"/>
<path d="M112.9 302l-0.8 0.2 -1 -0.7 -0.6 -1.3 -0.4 -1.9 0.1 -2 0.3 -1.6 0.8 -1.4 0.8 -0.5 0.8 0.2 0.8 0.9 0.5 1.2 0.3 1.6 0 1.6 -0.3 1.6 -0.5 1.2 -0.8 0.9z" fill="none" stroke="#111" stroke-width="0.55"/>
<path d="M112.5 300.4l-0.4 0 -0.5 -0.5 -0.4 -0.8 -0.2 -1.2 0 -1.2 0.3 -1.1 0.4 -0.7 0.4 -0.3 0.4 0 0.5 0.5 0.4 0.8 0.2 1.2 0 1.2 -0.3 1.1 -0.4 0.7 -0.4 0.3z" fill="none" stroke="#111" stroke-width="0.55"/>
</g>
<rect x="51.70" y="217.50" width="88.50" height="92.30" fill="none" stroke="#444" stroke-width="0.9"/>
<line x1="96.00" y1="217.50" x2="96.00" y2="309.80" stroke="#444" stroke-width="0.9" />
<line x1="51.70" y1="285.40" x2="140.20" y2="285.40" stroke="#444" stroke-width="0.9" />
<line x1="51.70" y1="217.50" x2="51.70" y2="309.80" stroke="#222" stroke-width="1.1" />
<line x1="51.70" y1="309.80" x2="140.20" y2="309.80" stroke="#222" stroke-width="1.1" />
<path d="M48.1 290.0H51.7M49.5 283.6H51.7M49.5 279.8H51.7M49.5 277.2H51.7M49.5 275.1H51.7M49.5 273.4H51.7M49.5 272.0H51.7M49.5 270.7H51.7M49.5 269.6H51.7M48.1 268.7H51.7M49.5 262.2H51.7M49.5 258.5H51.7M49.5 255.8H51.7M49.5 253.8H51.7M49.5 252.1H51.7M49.5 250.6H51.7M49.5 249.4H51.7M49.5 248.3H51.7M48.1 247.3H51.7M49.5 240.9H51.7M49.5 237.2H51.7M49.5 234.5H51.7M49.5 232.4H51.7M49.5 230.7H51.7M49.5 229.3H51.7M49.5 228.1H51.7M49.5 227.0H51.7M48.1 226.0H51.7M48.1 300.0H51.7M49.5 295.0H51.7M49.5 305.0H51.7M68.7 309.8V313.4M74.9 309.8V312.0M78.4 309.8V312.0M81.0 309.8V312.0M83.0 309.8V312.0M84.6 309.8V312.0M86.0 309.8V312.0M87.2 309.8V312.0M88.2 309.8V312.0M89.1 309.8V313.4M95.3 309.8V312.0M98.9 309.8V312.0M101.4 309.8V312.0M103.4 309.8V312.0M105.0 309.8V312.0M106.4 309.8V312.0M107.6 309.8V312.0M108.6 309.8V312.0M109.6 309.8V313.4M115.7 309.8V312.0M119.3 309.8V312.0M121.9 309.8V312.0M123.8 309.8V312.0M125.5 309.8V312.0M126.8 309.8V312.0M128.0 309.8V312.0M129.1 309.8V312.0M130.0 309.8V313.4M59.3 309.8V313.4M54.7 309.8V312.0M63.7 309.8V312.0" stroke="#000" stroke-width="1.0"/>
<text x="43.50" y="228.70" font-size="7.6" text-anchor="end" fill="#222" stroke="#222" stroke-width="0.2">10<tspan dy="-3.2" font-size="5.62">5</tspan></text>
<text x="43.50" y="248.70" font-size="7.6" text-anchor="end" fill="#222" stroke="#222" stroke-width="0.2">10<tspan dy="-3.2" font-size="5.62">4</tspan></text>
<text x="43.50" y="270.20" font-size="7.6" text-anchor="end" fill="#222" stroke="#222" stroke-width="0.2">10<tspan dy="-3.2" font-size="5.62">3</tspan></text>
<text x="43.50" y="292.70" font-size="7.6" text-anchor="end" fill="#222" stroke="#222" stroke-width="0.2">10<tspan dy="-3.2" font-size="5.62">2</tspan></text>
<text x="43.50" y="302.70" font-size="7.6" text-anchor="end" fill="#222" font-weight="normal" font-style="normal" stroke="#222" stroke-width="0.1" >0</text>
<text x="60.90" y="323.60" font-size="7.6" text-anchor="middle" fill="#222" font-weight="normal" font-style="normal" stroke="#222" stroke-width="0.1" >0</text>
<text x="70.30" y="323.60" font-size="7.6" text-anchor="middle" fill="#222" stroke="#222" stroke-width="0.2">10<tspan dy="-3.2" font-size="5.62">2</tspan></text>
<text x="91.20" y="323.60" font-size="7.6" text-anchor="middle" fill="#222" stroke="#222" stroke-width="0.2">10<tspan dy="-3.2" font-size="5.62">3</tspan></text>
<text x="112.70" y="323.60" font-size="7.6" text-anchor="middle" fill="#222" stroke="#222" stroke-width="0.2">10<tspan dy="-3.2" font-size="5.62">4</tspan></text>
<text x="131.50" y="323.60" font-size="7.6" text-anchor="middle" fill="#222" stroke="#222" stroke-width="0.2">10<tspan dy="-3.2" font-size="5.62">5</tspan></text>
<text x="55.50" y="225.60" font-size="6.8" text-anchor="start" fill="#111" font-weight="normal" font-style="normal" stroke="#111" stroke-width="0.1" letter-spacing="0.25">47.7</text>
<text x="137.80" y="225.60" font-size="6.8" text-anchor="end" fill="#111" font-weight="normal" font-style="normal" stroke="#111" stroke-width="0.1" letter-spacing="0.25">0.14</text>
<rect x="54.30" y="297.40" width="12.20" height="11.60" fill="#fff" />
<text x="55.60" y="306.10" font-size="6.8" text-anchor="start" fill="#111" font-weight="normal" font-style="normal" stroke="#111" stroke-width="0.1" letter-spacing="0.25">48</text>
<text x="137.80" y="306.10" font-size="6.8" text-anchor="end" fill="#111" font-weight="normal" font-style="normal" stroke="#111" stroke-width="0.1" letter-spacing="0.25">4.21</text>
<text x="96.20" y="211.80" font-size="10" text-anchor="middle" fill="#111" font-weight="normal" font-style="normal" stroke="#111" stroke-width="0.1" letter-spacing="0.4">4/5</text>
<clipPath id="cB2"><rect x="173.6" y="217.5" width="88.79999999999998" height="92.0"/></clipPath>
<g clip-path="url(#cB2)">
<path d="M192.5 270.3h.7M197.0 270.9h.7M209.6 251.6h.7M211.3 281.4h.7M224.4 257.8h.7M214.0 275.8h.7M197.3 295.6h.7M216.8 260.5h.7M216.3 277.7h.7M201.2 274.3h.7M205.0 272.5h.7M207.2 243.5h.7M217.3 286.5h.7M198.9 287.9h.7M203.3 291.2h.7M219.0 289.2h.7M206.7 292.5h.7M196.0 279.2h.7M203.0 290.5h.7M214.7 287.3h.7M208.9 295.5h.7M219.5 292.3h.7M201.5 294.7h.7M198.2 285.5h.7M223.8 258.5h.7M191.4 246.1h.7M228.7 283.5h.7M210.9 284.9h.7M203.4 267.0h.7M207.7 265.6h.7M212.7 305.4h.7M233.0 266.3h.7M199.9 266.3h.7M183.7 261.6h.7M202.7 295.6h.7M219.7 266.1h.7M212.7 276.9h.7M207.5 296.5h.7M216.9 295.3h.7M208.8 285.1h.7M208.3 290.3h.7M204.1 288.1h.7M207.0 302.6h.7M193.4 274.9h.7M206.4 279.8h.7M177.8 298.0h.7M223.6 254.8h.7M188.5 301.7h.7M186.7 282.8h.7M204.1 274.5h.7M209.7 264.0h.7M185.3 271.6h.7M202.8 284.1h.7M215.1 304.2h.7M211.6 279.9h.7M210.9 262.0h.7M196.2 268.7h.7M185.8 292.9h.7M192.0 258.3h.7M192.6 303.8h.7M220.4 284.6h.7M213.0 251.6h.7M193.6 285.0h.7M191.8 257.9h.7M195.5 292.3h.7M222.7 264.0h.7M221.3 260.4h.7M206.0 279.4h.7M200.0 306.9h.7M214.4 281.1h.7M217.7 269.8h.7M210.0 303.1h.7M191.6 261.4h.7M201.5 277.4h.7M198.6 303.2h.7M209.5 265.4h.7M196.7 287.7h.7M189.9 286.7h.7M192.4 280.0h.7M208.1 257.7h.7M199.3 274.5h.7M206.4 292.3h.7M204.0 259.1h.7M199.8 266.4h.7M202.3 295.8h.7M216.0 298.7h.7M194.8 254.1h.7M193.2 280.3h.7M197.6 261.9h.7M204.1 300.0h.7M201.2 287.1h.7M230.6 272.0h.7M215.1 258.0h.7M194.8 278.4h.7M218.8 283.4h.7M199.4 291.4h.7M224.2 304.6h.7M195.0 291.4h.7M198.7 292.7h.7M219.2 263.9h.7M232.3 251.5h.7M207.7 253.9h.7M199.3 306.2h.7M201.7 266.3h.7M218.4 266.5h.7M206.0 280.4h.7M217.7 272.2h.7M183.8 269.4h.7M212.6 282.9h.7M198.6 261.3h.7M220.9 291.3h.7M194.9 272.8h.7M228.7 277.1h.7M222.5 279.3h.7M203.9 274.3h.7M213.3 289.6h.7M200.9 273.2h.7M220.6 269.9h.7M203.5 286.2h.7M217.4 256.3h.7M194.0 243.6h.7M212.6 286.1h.7M212.9 286.4h.7M197.6 290.9h.7M192.3 266.5h.7M201.3 297.4h.7M196.2 256.2h.7M207.2 267.3h.7M213.6 294.8h.7M192.6 289.0h.7M198.2 285.2h.7M198.9 278.8h.7M209.3 303.8h.7M199.9 293.2h.7M224.6 268.1h.7M218.8 276.0h.7M209.5 288.4h.7M201.9 304.7h.7M221.1 283.3h.7M204.8 282.2h.7M212.3 289.9h.7M188.1 292.0h.7M211.5 275.5h.7M195.7 254.2h.7M209.3 270.4h.7M186.9 249.9h.7M214.4 252.3h.7M197.9 280.8h.7M192.8 298.9h.7M204.9 282.5h.7M195.7 263.5h.7" stroke="#1a1a1a" stroke-width="0.75"/>
<path d="M185.9 286.9h.7M196.7 260.6h.7M197.4 282.2h.7M175.4 270.9h.7M197.0 258.4h.7M186.4 257.7h.7M203.0 259.0h.7M179.0 255.0h.7M199.7 276.7h.7M176.8 266.7h.7M200.1 281.8h.7M198.7 280.9h.7M185.7 257.8h.7M200.7 253.9h.7M204.8 269.2h.7M198.7 282.4h.7M200.9 273.6h.7M196.0 285.4h.7M175.9 286.7h.7M185.4 286.4h.7M176.3 288.9h.7M200.0 281.4h.7M200.4 278.6h.7M190.1 255.4h.7M190.0 258.2h.7M201.2 264.0h.7M199.3 276.6h.7M198.0 259.4h.7M186.1 289.6h.7M200.4 274.5h.7M189.9 258.7h.7M182.9 260.4h.7M175.5 266.9h.7M198.0 256.0h.7M195.1 257.1h.7M199.5 260.8h.7M189.6 259.0h.7M180.6 260.4h.7M198.2 258.9h.7M176.8 269.6h.7M175.8 262.7h.7M197.2 280.3h.7M183.6 255.1h.7M204.2 271.7h.7M195.0 282.2h.7M188.6 256.8h.7M176.4 264.8h.7M195.1 282.7h.7M197.9 258.0h.7M175.7 281.6h.7M177.5 273.8h.7M197.5 261.7h.7M201.2 276.2h.7M179.8 279.6h.7M202.8 264.2h.7M177.1 266.9h.7M194.4 260.0h.7M174.5 276.8h.7M201.6 275.4h.7M177.1 273.1h.7M178.3 256.8h.7M178.4 264.9h.7M195.6 260.4h.7M199.1 261.8h.7M182.1 281.8h.7M175.0 269.2h.7M179.7 256.5h.7M195.6 255.8h.7M175.2 273.4h.7M184.9 286.2h.7M203.7 266.1h.7M182.6 282.6h.7M187.0 287.9h.7M183.6 259.1h.7M179.3 263.6h.7M200.5 288.9h.7M176.8 276.4h.7M198.6 281.2h.7M200.7 279.0h.7M176.7 265.9h.7M178.4 261.6h.7M197.7 261.1h.7M186.3 288.0h.7M175.1 270.3h.7M204.4 276.1h.7M199.7 276.7h.7M175.6 275.8h.7M181.3 261.3h.7M177.9 261.3h.7M188.8 255.1h.7M175.5 268.2h.7M201.0 276.6h.7M186.4 290.2h.7M180.2 260.5h.7M195.7 280.7h.7M184.3 287.6h.7M182.0 287.1h.7M198.4 279.0h.7M175.8 274.8h.7M179.7 263.0h.7M197.3 258.9h.7M188.6 257.9h.7M177.5 258.9h.7M177.1 271.6h.7M191.0 287.6h.7M188.1 258.3h.7M189.8 258.6h.7M206.7 278.4h.7M178.0 276.6h.7M190.8 248.0h.7M183.9 257.6h.7M201.5 268.8h.7M200.3 279.7h.7M177.6 276.7h.7M186.2 286.2h.7M201.0 271.8h.7M176.4 275.4h.7M195.3 260.5h.7M197.4 279.2h.7M181.0 261.0h.7M202.3 273.6h.7M199.0 278.2h.7M176.0 262.2h.7M201.1 268.8h.7M203.9 280.5h.7M199.5 264.1h.7M176.6 270.8h.7M182.6 254.2h.7M201.3 268.3h.7M191.0 258.0h.7M199.3 257.7h.7M203.8 266.0h.7M194.6 284.9h.7" stroke="#1a1a1a" stroke-width="0.75"/>
<path d="M189.6 287.1l-1.6 0 -1.6 -0.8 -1 -1.2 -2.2 -3.5 -3.6 -3.7 -1.1 -1.6 -0.8 -1.6 -0.4 -1.6 -0.3 -2 0.1 -2.4 0.6 -2.4 1 -2 1.3 -1.7 2 -1.8 2 -1.1 2.4 -0.8 2 -0.2 2.4 0.1 2 0.6 2.4 1.2 1.6 1.2 1.5 1.7 1.2 2 0.7 2 0.4 2.4 0 1.6 -0.4 2 -0.7 2 -0.9 1.6 -1.3 1.6 -2.9 2.9 -2.8 4.3 -0.8 0.7 -1.2 0.5z" fill="#111" stroke="#222" stroke-width="0.55"/>
<path d="M189.6 287.1l-1.6 0 -1.6 -0.8 -1 -1.2 -2.2 -3.5 -3.6 -3.7 -1.1 -1.6 -0.8 -1.6 -0.4 -1.6 -0.3 -2 0.1 -2.4 0.6 -2.4 1 -2 1.3 -1.7 2 -1.8 2 -1.1 2.4 -0.8 2 -0.2 2.4 0.1 2 0.6 2.4 1.2 1.6 1.2 1.5 1.7 1.2 2 0.7 2 0.4 2.4 0 1.6 -0.4 2 -0.7 2 -0.9 1.6 -1.3 1.6 -2.9 2.9 -2.8 4.3 -0.8 0.7 -1.2 0.5z" fill="none" stroke="#222" stroke-width="0.55"/>
<path d="M190 284.3l-0.8 0.3 -1.2 -0.1 -0.8 -0.5 -0.8 -0.8 -2.1 -3.3 -2.7 -2.8 -1.1 -1.6 -1 -2 -0.4 -2.4 0 -1.6 0.4 -2 0.7 -1.6 1.1 -1.6 1.5 -1.5 1.6 -1 1.6 -0.6 2 -0.4 2 0 2 0.5 1.6 0.7 1.6 1.2 1.4 1.5 1 1.6 0.6 1.6 0.3 2 -0.2 2.8 -1.2 2.8 -1.1 1.6 -2.7 2.8 -2.1 3.3 -1.2 1.1z" fill="none" stroke="#fff" stroke-width="0.5"/>
<path d="M189.6 282.5l-0.8 0.2 -0.8 -0.2 -1.2 -1.1 -1.8 -2.7 -2.5 -2.8 -0.8 -1.2 -0.7 -1.6 -0.4 -2 0 -1.6 0.4 -1.6 0.7 -1.6 0.9 -1.2 1.3 -1.2 1.3 -0.8 1.6 -0.6 1.6 -0.2 1.6 0 1.6 0.4 1.2 0.6 1.4 1 1.2 1.2 0.7 1.2 0.6 1.6 0.3 1.6 -0.2 2.4 -0.9 2.4 -0.8 1.2 -2.5 2.8 -1.9 2.8 -1.1 1z" fill="none" stroke="#fff" stroke-width="0.5"/>
<path d="M189.2 280.8l-0.8 0 -0.8 -0.5 -4.2 -5.2 -1.1 -2 -0.5 -2.4 0.1 -1.6 0.4 -1.2 1.3 -2.1 2 -1.5 1.2 -0.5 1.6 -0.3 1.6 0.1 1.2 0.3 1.2 0.6 1.2 0.9 0.8 0.9 0.7 1.2 0.5 1.2 0.2 1.6 -0.2 2 -0.9 2 -4.3 5.5 -1.2 1z" fill="none" stroke="#fff" stroke-width="0.5"/>
<path d="M188.8 279.1l-0.4 0 -0.8 -0.6 -3.5 -4.2 -0.8 -1.6 -0.4 -2 0.1 -1.2 0.3 -1.2 0.7 -1.2 0.6 -0.8 1.8 -1.2 1.2 -0.4 1.2 -0.1 1.2 0.1 1.2 0.4 1.8 1.2 0.6 0.8 0.7 1.2 0.3 1.2 0.1 1.2 -0.4 2 -0.8 1.6 -3.5 4.2 -0.8 0.6 -0.4 0z" fill="none" stroke="#fff" stroke-width="0.5"/>
<path d="M189.6 277.1l-0.8 0.3 -0.4 -0.1 -1.2 -0.9 -2.3 -2.9 -0.6 -1.2 -0.3 -1.2 0.2 -2 0.8 -1.6 1.5 -1.2 1.9 -0.6 1.8 0.2 1.5 0.8 1.4 1.6 0.5 1.6 -0.1 1.6 -0.6 1.6 -1.4 2 -1.9 2z" fill="none" stroke="#fff" stroke-width="0.5"/>
<path d="M188.8 275.6l-1.2 -0.6 -1.2 -1.4 -0.8 -1.5 -0.3 -1.4 0.3 -1.5 0.8 -1.2 1.2 -0.7 1.2 -0.3 1.2 0.3 1.2 0.7 0.8 1.2 0.3 1.5 -0.3 1.4 -0.8 1.5 -1.2 1.4 -1.2 0.6z" fill="none" stroke="#fff" stroke-width="0.5"/>
<path d="M207.0 293.8h.7M174.3 297.5h.7M187.2 285.5h.7M206.0 302.6h.7M201.7 292.9h.7M187.9 287.7h.7M203.6 291.6h.7M178.0 289.0h.7M200.7 290.5h.7M174.4 305.7h.7M176.9 291.4h.7M175.9 296.9h.7M174.7 296.8h.7M180.3 288.3h.7M205.5 291.8h.7M207.4 288.0h.7M188.9 287.5h.7M185.5 288.4h.7M204.8 302.0h.7M194.4 289.1h.7M195.6 287.0h.7M197.3 288.7h.7M198.3 289.4h.7M194.5 288.5h.7M204.6 301.2h.7M192.4 285.6h.7M194.2 288.6h.7M205.0 292.5h.7M177.5 287.9h.7M174.8 307.8h.7M190.2 280.9h.7M201.8 300.2h.7M191.4 288.2h.7M196.4 288.2h.7M194.0 289.0h.7M183.0 286.8h.7M182.9 289.3h.7M201.5 288.8h.7M177.2 290.2h.7M205.0 304.6h.7M205.6 294.4h.7M178.2 308.3h.7M202.3 296.7h.7M186.5 286.3h.7M202.2 289.8h.7M177.8 291.7h.7M177.7 308.3h.7M177.1 308.1h.7M203.1 300.5h.7M202.8 300.7h.7M174.3 298.1h.7M184.4 287.8h.7M176.7 294.0h.7M179.4 285.0h.7M175.9 296.7h.7M175.7 296.6h.7M194.6 290.0h.7M183.8 288.5h.7M205.3 294.4h.7M195.9 289.9h.7M174.6 304.5h.7M182.1 288.3h.7M176.1 307.5h.7M184.5 286.7h.7M175.1 296.2h.7M202.1 301.9h.7M187.3 288.0h.7M184.6 283.5h.7M177.5 307.9h.7M191.8 287.5h.7M195.1 289.5h.7M192.1 287.5h.7M177.2 292.6h.7M202.5 300.5h.7M201.2 293.1h.7M190.2 287.6h.7M201.8 296.0h.7M203.6 307.8h.7M202.0 308.3h.7M176.1 294.2h.7M204.2 300.8h.7M205.8 297.1h.7M195.3 290.0h.7M186.2 288.9h.7M202.2 304.0h.7M203.4 294.0h.7M202.8 297.9h.7" stroke="#1a1a1a" stroke-width="0.75"/>
<path d="M189.6 312.3l-2.8 0 -2.4 -0.5 -2 -0.8 -2 -1.2 -1.8 -1.5 -1.5 -2 -1 -2 -0.6 -2.4 -0.1 -2.4 0.4 -2 0.8 -2 1.3 -2 1.7 -1.7 2 -1.4 2.4 -1 2.4 -0.6 2.4 -0.1 2.8 0.3 2.4 0.7 2.4 1.3 2 1.7 1.5 2 1 2 0.6 2.4 0.1 2.4 -0.5 2.4 -0.9 2 -1.5 2 -1.9 1.8 -2 1.2 -2.4 0.9 -2.8 0.5z" fill="#111" stroke="#222" stroke-width="0.55"/>
<path d="M189.6 312.3l-2.8 0 -2.4 -0.5 -2 -0.8 -2 -1.2 -1.8 -1.5 -1.5 -2 -1 -2 -0.6 -2.4 -0.1 -2.4 0.4 -2 0.8 -2 1.3 -2 1.7 -1.7 2 -1.4 2.4 -1 2.4 -0.6 2.4 -0.1 2.8 0.3 2.4 0.7 2.4 1.3 2 1.7 1.5 2 1 2 0.6 2.4 0.1 2.4 -0.5 2.4 -0.9 2 -1.5 2 -1.9 1.8 -2 1.2 -2.4 0.9 -2.8 0.5z" fill="none" stroke="#222" stroke-width="0.55"/>
<path d="M190 306.7l-1.2 0.1 -1.6 -0.1 -2.4 -0.8 -1.9 -1.6 -1.1 -2 -0.3 -1.2 0 -1.2 0.3 -1.2 0.5 -1.2 0.9 -1.2 0.8 -0.7 1.2 -0.7 1.2 -0.5 1.2 -0.2 1.6 0 1.6 0.3 1.2 0.5 2 1.5 0.7 1 0.5 1.2 0.3 1.2 -0.1 1.6 -0.3 1.2 -0.7 1.2 -0.8 1 -1.2 0.9 -2.4 0.9z" fill="none" stroke="#fff" stroke-width="0.5"/>
<path d="M189.6 304l-1.6 0.1 -1.2 -0.3 -1.2 -0.8 -0.8 -1.1 -0.3 -1.2 0.3 -1.6 0.8 -1.1 1.2 -0.8 1.6 -0.3 1.6 0.2 1.3 0.8 0.9 1.2 0.3 1.6 -0.5 1.6 -1.2 1.2 -1.2 0.5z" fill="none" stroke="#fff" stroke-width="0.5"/>
</g>
<rect x="173.60" y="217.50" width="88.80" height="92.00" fill="none" stroke="#444" stroke-width="0.9"/>
<line x1="218.20" y1="217.50" x2="218.20" y2="309.50" stroke="#444" stroke-width="0.9" />
<line x1="173.60" y1="285.20" x2="262.40" y2="285.20" stroke="#444" stroke-width="0.9" />
<line x1="173.60" y1="217.50" x2="173.60" y2="309.50" stroke="#222" stroke-width="1.1" />
<line x1="173.60" y1="309.50" x2="262.40" y2="309.50" stroke="#222" stroke-width="1.1" />
<path d="M170.0 290.0H173.6M171.4 283.6H173.6M171.4 279.8H173.6M171.4 277.2H173.6M171.4 275.1H173.6M171.4 273.4H173.6M171.4 272.0H173.6M171.4 270.7H173.6M171.4 269.6H173.6M170.0 268.7H173.6M171.4 262.2H173.6M171.4 258.5H173.6M171.4 255.8H173.6M171.4 253.8H173.6M171.4 252.1H173.6M171.4 250.6H173.6M171.4 249.4H173.6M171.4 248.3H173.6M170.0 247.3H173.6M171.4 240.9H173.6M171.4 237.2H173.6M171.4 234.5H173.6M171.4 232.4H173.6M171.4 230.7H173.6M171.4 229.3H173.6M171.4 228.1H173.6M171.4 227.0H173.6M170.0 226.0H173.6M170.0 300.0H173.6M171.4 295.0H173.6M171.4 305.0H173.6M190.6 309.5V313.1M196.8 309.5V311.7M200.3 309.5V311.7M202.9 309.5V311.7M204.9 309.5V311.7M206.5 309.5V311.7M207.9 309.5V311.7M209.1 309.5V311.7M210.1 309.5V311.7M211.0 309.5V313.1M217.2 309.5V311.7M220.8 309.5V311.7M223.3 309.5V311.7M225.3 309.5V311.7M226.9 309.5V311.7M228.3 309.5V311.7M229.5 309.5V311.7M230.5 309.5V311.7M231.5 309.5V313.1M237.6 309.5V311.7M241.2 309.5V311.7M243.8 309.5V311.7M245.7 309.5V311.7M247.4 309.5V311.7M248.7 309.5V311.7M249.9 309.5V311.7M251.0 309.5V311.7M251.9 309.5V313.1M181.2 309.5V313.1M176.6 309.5V311.7M185.6 309.5V311.7" stroke="#000" stroke-width="1.0"/>
<text x="165.40" y="228.70" font-size="7.6" text-anchor="end" fill="#222" stroke="#222" stroke-width="0.2">10<tspan dy="-3.2" font-size="5.62">5</tspan></text>
<text x="165.40" y="248.70" font-size="7.6" text-anchor="end" fill="#222" stroke="#222" stroke-width="0.2">10<tspan dy="-3.2" font-size="5.62">4</tspan></text>
<text x="165.40" y="270.20" font-size="7.6" text-anchor="end" fill="#222" stroke="#222" stroke-width="0.2">10<tspan dy="-3.2" font-size="5.62">3</tspan></text>
<text x="165.40" y="292.70" font-size="7.6" text-anchor="end" fill="#222" stroke="#222" stroke-width="0.2">10<tspan dy="-3.2" font-size="5.62">2</tspan></text>
<text x="165.40" y="302.70" font-size="7.6" text-anchor="end" fill="#222" font-weight="normal" font-style="normal" stroke="#222" stroke-width="0.1" >0</text>
<text x="182.80" y="323.30" font-size="7.6" text-anchor="middle" fill="#222" font-weight="normal" font-style="normal" stroke="#222" stroke-width="0.1" >0</text>
<text x="192.20" y="323.30" font-size="7.6" text-anchor="middle" fill="#222" stroke="#222" stroke-width="0.2">10<tspan dy="-3.2" font-size="5.62">2</tspan></text>
<text x="213.10" y="323.30" font-size="7.6" text-anchor="middle" fill="#222" stroke="#222" stroke-width="0.2">10<tspan dy="-3.2" font-size="5.62">3</tspan></text>
<text x="234.60" y="323.30" font-size="7.6" text-anchor="middle" fill="#222" stroke="#222" stroke-width="0.2">10<tspan dy="-3.2" font-size="5.62">4</tspan></text>
<text x="253.40" y="323.30" font-size="7.6" text-anchor="middle" fill="#222" stroke="#222" stroke-width="0.2">10<tspan dy="-3.2" font-size="5.62">5</tspan></text>
<text x="177.40" y="225.60" font-size="6.8" text-anchor="start" fill="#111" font-weight="normal" font-style="normal" stroke="#111" stroke-width="0.1" letter-spacing="0.25">20.9</text>
<text x="260.00" y="225.60" font-size="6.8" text-anchor="end" fill="#111" font-weight="normal" font-style="normal" stroke="#111" stroke-width="0.1" letter-spacing="0.25">0.021</text>
<rect x="176.20" y="297.10" width="12.20" height="11.60" fill="#fff" />
<text x="177.50" y="305.80" font-size="6.8" text-anchor="start" fill="#111" font-weight="normal" font-style="normal" stroke="#111" stroke-width="0.1" letter-spacing="0.25">79</text>
<text x="260.00" y="305.80" font-size="6.8" text-anchor="end" fill="#111" font-weight="normal" font-style="normal" stroke="#111" stroke-width="0.1" letter-spacing="0.25">0.085</text>
<text x="218.30" y="211.80" font-size="10" text-anchor="middle" fill="#111" font-weight="normal" font-style="normal" stroke="#111" stroke-width="0.1" letter-spacing="0.4">1/5</text>
<clipPath id="cB3"><rect x="51.7" y="336.2" width="88.3" height="92.80000000000001"/></clipPath>
<g clip-path="url(#cB3)">
<path d="M127.4 382.2h.7M106.0 387.2h.7M110.3 371.2h.7M128.7 401.8h.7M117.2 384.7h.7M119.0 385.2h.7M96.8 359.0h.7M96.5 380.0h.7M97.8 381.8h.7M134.4 375.1h.7M114.0 379.3h.7M110.0 390.5h.7M119.8 380.8h.7M134.4 383.5h.7M111.4 394.5h.7M115.3 370.3h.7M122.1 409.5h.7M129.8 417.8h.7M127.2 377.2h.7M101.4 368.3h.7M133.2 386.9h.7M115.5 413.1h.7M101.8 376.6h.7M120.8 403.8h.7M117.3 381.5h.7M121.3 380.0h.7M116.3 384.5h.7M106.2 371.4h.7M108.6 391.3h.7M118.2 374.2h.7M107.7 395.1h.7M115.3 375.8h.7M115.3 345.3h.7M117.3 386.3h.7M108.0 384.2h.7M107.6 395.3h.7M117.0 363.4h.7M127.2 395.8h.7M125.2 371.8h.7M109.2 359.9h.7M114.3 364.6h.7M135.0 391.7h.7M113.5 381.3h.7M119.8 385.7h.7M113.2 385.0h.7M124.8 402.6h.7M116.3 380.1h.7M123.6 375.3h.7M117.8 388.7h.7M123.0 396.7h.7M138.2 409.4h.7M110.2 393.8h.7M102.6 359.7h.7M127.5 378.4h.7M118.4 408.8h.7M118.6 370.6h.7M121.3 385.7h.7M120.9 400.8h.7M113.8 404.5h.7M122.5 401.9h.7M115.7 400.6h.7M123.5 397.5h.7M119.5 361.4h.7M98.4 395.9h.7M105.7 376.6h.7M118.1 384.0h.7M119.5 385.1h.7M122.4 410.3h.7M116.1 375.8h.7M120.1 368.7h.7M104.4 400.7h.7M100.8 379.2h.7M123.8 376.6h.7M131.1 397.3h.7M115.2 401.1h.7M129.5 397.8h.7M124.2 385.6h.7M121.8 380.1h.7M101.6 386.2h.7M110.2 387.4h.7M116.6 386.2h.7M120.9 374.5h.7M113.9 389.3h.7M110.8 381.1h.7M129.3 379.9h.7M134.7 381.8h.7M128.5 402.2h.7M117.9 394.5h.7M138.5 387.2h.7M113.9 393.2h.7M118.3 382.0h.7M115.6 389.7h.7M115.2 414.9h.7M136.8 388.5h.7M115.5 368.7h.7M124.6 407.5h.7M99.4 371.3h.7M125.0 398.8h.7M118.0 396.8h.7M130.6 393.8h.7M119.8 393.5h.7M123.2 388.3h.7M111.1 369.9h.7M121.3 399.9h.7M135.6 386.7h.7M128.7 383.3h.7M126.4 401.9h.7M125.6 384.7h.7M119.6 390.0h.7M98.1 383.7h.7M102.7 369.3h.7M113.4 375.8h.7M121.0 394.6h.7M114.2 398.1h.7M122.3 396.4h.7M132.2 377.2h.7M112.6 403.2h.7M130.1 372.4h.7M108.0 380.6h.7M123.9 385.4h.7M97.9 370.5h.7M111.2 386.4h.7M120.3 380.2h.7M114.7 380.9h.7M116.3 390.8h.7M113.6 371.4h.7M108.8 402.7h.7M129.3 400.4h.7M129.8 386.6h.7M125.9 397.4h.7M117.1 378.4h.7M89.2 384.0h.7M125.0 377.2h.7M122.1 388.9h.7M116.2 394.9h.7M109.0 386.8h.7M113.1 372.3h.7M109.8 372.5h.7M120.3 362.5h.7M99.8 371.5h.7M117.8 377.2h.7M98.1 382.0h.7M97.6 382.6h.7M102.4 371.7h.7M107.6 392.3h.7M124.6 380.8h.7M127.9 405.7h.7M102.8 381.0h.7M116.9 373.4h.7M111.5 395.3h.7M122.1 404.4h.7M115.0 378.5h.7M118.3 394.3h.7M111.6 410.8h.7M96.3 391.4h.7M117.2 392.4h.7M129.4 393.8h.7M126.7 403.7h.7M113.8 399.9h.7M120.5 407.3h.7M111.3 388.8h.7M127.2 378.8h.7M123.2 391.4h.7M103.8 397.3h.7M106.9 382.3h.7M107.1 375.0h.7M125.6 398.6h.7M130.4 397.1h.7M115.4 377.4h.7M102.8 378.0h.7M121.2 401.2h.7M121.8 393.1h.7M116.8 362.8h.7M101.6 374.6h.7M129.5 385.7h.7M121.3 380.0h.7M117.7 385.8h.7M108.4 353.2h.7M130.8 396.4h.7M111.1 392.2h.7M125.3 387.8h.7M104.3 397.7h.7M105.9 364.0h.7M110.9 379.1h.7M120.8 389.4h.7M115.2 406.1h.7M114.7 391.6h.7M123.8 400.5h.7M129.3 373.3h.7M122.3 401.1h.7M132.6 384.0h.7M112.3 390.6h.7M125.9 402.4h.7M135.5 400.1h.7M132.7 395.8h.7M136.3 377.9h.7M115.8 362.1h.7M112.8 380.0h.7M102.9 386.3h.7M121.6 383.7h.7M113.1 366.9h.7M115.6 384.7h.7M121.8 374.7h.7M122.0 389.6h.7M110.3 396.3h.7M112.5 390.7h.7M135.2 389.5h.7M118.9 387.9h.7M110.7 378.7h.7M128.8 375.5h.7M120.9 395.9h.7M124.3 402.4h.7M95.1 386.0h.7M110.9 390.1h.7M112.3 386.5h.7M120.8 376.7h.7M131.2 382.4h.7M112.5 376.9h.7M118.7 387.4h.7M112.7 385.8h.7M135.8 398.8h.7M102.1 372.3h.7M116.5 366.1h.7M128.8 385.8h.7M117.2 384.6h.7M118.4 410.9h.7M123.8 400.3h.7M114.0 388.1h.7M106.7 396.4h.7M96.4 392.8h.7M133.7 374.0h.7M114.6 397.4h.7M114.8 388.7h.7M113.0 395.6h.7M118.3 396.2h.7M111.8 377.0h.7M113.0 391.4h.7M109.5 395.4h.7M136.6 393.2h.7M107.5 399.2h.7M102.8 385.9h.7M135.8 403.1h.7M119.2 386.3h.7M137.9 405.2h.7M102.6 408.4h.7M109.1 392.5h.7" stroke="#1a1a1a" stroke-width="0.75"/>
<path d="M57.4 421.0h.7M72.9 414.1h.7M74.4 421.2h.7M73.4 408.9h.7M80.4 422.5h.7M66.5 414.2h.7M96.8 424.0h.7M102.9 425.4h.7M53.5 408.5h.7M79.4 420.9h.7M79.1 420.8h.7M108.6 422.4h.7M84.0 409.9h.7M96.1 409.2h.7M91.5 402.4h.7M53.7 415.9h.7M86.2 409.0h.7M64.3 416.6h.7M60.3 413.8h.7M54.4 421.1h.7M69.1 421.6h.7M65.9 415.9h.7M76.8 417.3h.7M74.2 415.2h.7M77.3 405.7h.7M77.7 411.9h.7M78.4 410.6h.7M78.7 417.8h.7M58.2 416.0h.7M77.9 415.9h.7M64.5 421.8h.7M84.3 409.1h.7M78.6 424.1h.7M61.9 404.1h.7M76.4 414.0h.7M63.0 417.0h.7M72.9 416.7h.7M83.5 407.5h.7M56.7 419.1h.7M80.9 413.5h.7M71.7 425.3h.7M92.5 419.2h.7M71.1 425.7h.7M64.9 414.7h.7M63.6 420.7h.7M80.4 424.1h.7M70.6 417.5h.7M65.2 404.9h.7M62.2 421.3h.7M62.6 407.2h.7M78.5 418.2h.7M77.2 424.1h.7M67.8 417.0h.7M85.8 412.1h.7M75.0 407.4h.7M65.0 414.7h.7M56.1 409.2h.7M57.8 406.9h.7M77.4 414.3h.7M81.3 423.0h.7M55.7 414.6h.7M71.5 409.8h.7M71.5 408.5h.7M79.8 405.5h.7M70.4 417.1h.7M84.3 410.5h.7M77.5 408.7h.7M67.5 414.8h.7M78.6 418.6h.7M68.0 426.0h.7M69.9 417.6h.7M83.4 421.3h.7M79.7 418.9h.7M73.9 414.5h.7M81.7 418.4h.7M84.3 407.4h.7M94.5 421.6h.7M84.0 422.0h.7M74.5 423.5h.7M87.3 423.5h.7M74.0 411.4h.7M58.5 421.2h.7M64.2 410.6h.7M86.3 416.3h.7M74.0 410.2h.7M77.9 404.7h.7M65.7 419.6h.7M88.3 412.2h.7M74.1 415.1h.7M58.5 420.5h.7M79.9 419.5h.7M81.0 411.5h.7M79.0 425.8h.7M74.6 411.3h.7M57.7 425.4h.7M81.2 408.7h.7M93.5 420.0h.7M91.5 417.5h.7M63.0 424.9h.7M74.9 411.4h.7M71.6 411.9h.7M75.6 406.5h.7M77.6 412.3h.7M74.5 413.7h.7M80.8 411.2h.7M93.1 423.1h.7M74.2 412.2h.7M60.6 413.6h.7M90.1 408.8h.7M85.6 415.4h.7M78.2 415.3h.7M68.3 413.9h.7M77.4 418.1h.7M85.5 422.4h.7M69.8 418.5h.7M73.3 408.9h.7M77.7 416.8h.7M61.3 421.4h.7M87.3 415.2h.7M70.0 418.3h.7M68.3 401.2h.7M74.3 413.9h.7M64.9 414.3h.7M67.0 414.0h.7M86.2 418.5h.7M66.0 411.4h.7M92.7 413.6h.7M73.6 416.1h.7M72.2 425.4h.7M100.7 413.1h.7M91.0 422.6h.7M59.6 411.5h.7M102.6 420.4h.7M70.2 410.6h.7M68.8 414.0h.7M87.6 421.3h.7M81.9 417.0h.7M61.7 408.8h.7M92.1 410.3h.7M60.0 417.9h.7M77.2 412.4h.7M85.6 424.5h.7M77.7 404.4h.7M66.2 409.8h.7M81.7 407.5h.7M91.9 414.0h.7M57.0 414.7h.7M86.9 415.0h.7M74.6 410.4h.7M86.5 409.6h.7M83.7 412.2h.7M81.1 419.5h.7M80.2 406.7h.7M53.6 410.8h.7M65.0 418.8h.7M74.1 417.7h.7M67.4 409.5h.7M75.7 420.2h.7M74.0 408.6h.7M82.1 413.7h.7M61.9 416.4h.7M71.7 416.3h.7M98.6 427.5h.7M73.7 420.3h.7M63.5 402.7h.7M75.6 419.1h.7M61.4 417.3h.7M72.4 406.7h.7M67.4 411.9h.7M66.5 420.6h.7M79.7 418.1h.7M66.6 398.9h.7M58.7 421.7h.7M84.2 413.8h.7M71.6 408.0h.7M68.1 420.0h.7M73.9 413.2h.7M71.4 420.1h.7M54.3 410.7h.7M62.6 405.5h.7M85.4 428.3h.7M72.8 414.9h.7M89.4 411.4h.7M71.8 409.3h.7M78.8 415.5h.7M73.6 412.7h.7M91.0 416.0h.7M78.7 416.3h.7M81.1 416.4h.7M56.7 417.7h.7M71.5 418.1h.7M68.5 408.1h.7M75.0 412.3h.7M67.5 420.9h.7M78.4 408.3h.7M81.8 413.6h.7M84.3 418.9h.7M85.6 411.9h.7M71.6 415.0h.7M68.5 417.9h.7M68.3 405.2h.7M86.1 407.0h.7M86.4 407.4h.7M73.0 420.5h.7M80.5 412.4h.7M81.0 413.1h.7M62.4 416.0h.7M69.6 401.4h.7M79.6 416.5h.7M65.1 417.9h.7M77.3 422.9h.7M61.0 409.9h.7" stroke="#1a1a1a" stroke-width="0.75"/>
<path d="M53.9 374.3h.7M60.8 377.3h.7M66.9 375.7h.7M85.3 376.9h.7M92.6 395.8h.7M72.3 368.4h.7M60.2 377.2h.7M83.3 374.1h.7M73.5 370.6h.7M59.3 378.9h.7M86.4 394.6h.7M55.7 397.7h.7M65.5 374.5h.7M93.8 384.2h.7M56.1 380.9h.7M53.2 379.0h.7M87.1 377.3h.7M91.0 388.7h.7M91.7 384.5h.7M90.7 375.0h.7M58.5 378.4h.7M63.2 371.4h.7M75.8 398.9h.7M78.4 402.6h.7M52.7 379.5h.7M58.3 376.3h.7M78.8 370.0h.7M85.8 401.3h.7M58.9 404.3h.7M72.2 400.8h.7M90.4 380.5h.7M91.6 384.4h.7M94.4 383.0h.7M84.8 399.4h.7M84.8 376.9h.7M88.4 378.3h.7M69.5 400.4h.7M84.6 376.1h.7M75.7 398.9h.7M96.5 380.9h.7M91.4 379.7h.7M87.4 393.5h.7M93.6 390.1h.7M54.1 394.4h.7M56.0 381.7h.7M84.6 397.3h.7M82.9 371.0h.7M93.1 386.8h.7M56.2 401.7h.7M96.0 393.9h.7M71.0 398.5h.7M97.4 385.5h.7" stroke="#1a1a1a" stroke-width="0.75"/>
<path d="M76.5 397.8l-5.2 0.3 -8.8 -0.6 -3.6 -0.8 -1.6 -0.6 -1.6 -0.9 -1.2 -1 -1 -1.2 -0.8 -1.6 -0.3 -1.6 0 -1.6 0.4 -1.6 0.7 -1.6 1.1 -2 2.4 -2.8 3.1 -2.3 3.6 -1.6 4.8 -1.2 5.2 -0.3 5.2 0.4 4.4 1.2 2 0.9 2 1.1 1.6 1.4 0.9 1.2 0.8 1.6 0.4 1.2 0.1 1.6 -0.1 1.6 -0.3 1.6 -0.7 1.6 -0.8 1.2 -1.5 1.6 -2.8 2.1 -4 1.7 -4.4 1z" fill="none" stroke="#111" stroke-width="0.6"/>
<path d="M76.1 396.3l-4.8 0.2 -7.2 -0.5 -3.2 -0.5 -2.8 -1 -1.2 -0.8 -1.1 -1.1 -1 -2 -0.2 -1.2 0.2 -1.6 1.1 -2.8 2 -2.8 2.6 -2.3 3.6 -1.9 3.6 -1.1 4.4 -0.6 4.8 0.1 4.4 0.8 3.2 1.3 2.4 1.8 0.9 1.1 0.6 1.2 0.4 1.6 0 1.6 -0.3 1.6 -0.5 1.6 -1.6 2.4 -2.7 2.2 -3.6 1.7 -4 1z" fill="none" stroke="#111" stroke-width="0.6"/>
<path d="M75.3 395l-4 0.2 -6 -0.4 -3.2 -0.4 -2.4 -0.8 -2 -1.4 -0.9 -1.6 -0.2 -2 0.5 -2 1.8 -2.8 2.2 -2.4 2.6 -1.7 3.2 -1.3 4 -0.9 4 -0.2 4 0.4 3.6 1.1 1.6 0.9 1.1 0.9 0.7 0.8 0.7 1.2 0.3 1.2 0.1 1.2 -0.2 1.6 -0.5 1.6 -1.5 2.4 -1.3 1.2 -1.4 1 -3.2 1.4 -3.6 0.8z" fill="none" stroke="#111" stroke-width="0.6"/>
<path d="M75.7 393.9l-2.8 0.3 -3.2 -0.1 -5.6 -0.6 -2.8 -0.7 -1.7 -1 -1 -1.2 -0.3 -1.6 0.4 -2 1.4 -2.4 2.2 -2.4 2.6 -1.8 2.8 -1.1 3.6 -0.9 3.6 -0.2 3.2 0.2 3.2 0.9 2.4 1.5 1 1 0.4 0.8 0.4 2 -0.4 2.4 -1.3 2.4 -2.1 2.1 -2.8 1.5 -3.2 0.9z" fill="none" stroke="#111" stroke-width="0.6"/>
<path d="M74.5 393l-2.4 0.2 -3.2 -0.2 -4 -0.6 -2.4 -0.6 -1.4 -0.8 -0.9 -1.2 -0.2 -1.2 0.4 -1.6 1.5 -2.4 1.9 -2 2.3 -1.6 2.8 -1.1 3.2 -0.8 3.6 -0.1 3.6 0.5 2.4 1 1.6 1.3 0.8 1.6 0 2 -0.9 2.4 -1.5 2 -2 1.5 -2.4 1.1 -2.8 0.6z" fill="none" stroke="#111" stroke-width="0.6"/>
<path d="M73.3 392.2l-2.8 0 -3.2 -0.4 -2.8 -0.7 -1.6 -0.7 -0.9 -1 -0.2 -1.2 0.4 -1.6 1 -1.6 1.4 -1.6 2.1 -1.6 2.2 -1 2.8 -0.9 2.8 -0.3 2.8 0.2 2.4 0.6 1.9 1 1.1 1.2 0.4 1.6 -0.4 2 -1.2 2 -1.5 1.6 -1.9 1.2 -2.4 0.8 -2.4 0.4z" fill="none" stroke="#111" stroke-width="0.6"/>
<path d="M74.5 391.1l-2 0.1 -2.4 -0.1 -2.8 -0.5 -2 -0.7 -1.1 -0.9 -0.3 -0.8 0 -1.2 0.5 -1.2 1.1 -1.6 1.8 -1.5 2 -1.2 2 -0.7 2.4 -0.4 2.4 -0.1 2.4 0.4 1.6 0.7 1.3 1.2 0.5 1.2 -0.1 1.2 -0.6 1.6 -1.2 1.6 -1.5 1.3 -2 1 -2 0.6z" fill="none" stroke="#111" stroke-width="0.6"/>
<path d="M74.9 389.8l-1.6 0.3 -2 0 -2 -0.3 -1.6 -0.5 -1 -0.7 -0.6 -0.8 -0.1 -0.8 0.3 -1.2 0.7 -1.2 1.2 -1.2 1.8 -1.2 1.7 -0.7 2 -0.4 2 -0.1 1.6 0.1 1.6 0.6 1.2 0.8 0.5 0.9 0.1 1.2 -0.4 1.2 -1 1.4 -1.2 1.1 -1.6 1 -1.6 0.5z" fill="none" stroke="#111" stroke-width="0.6"/>
<path d="M74.1 388.6l-2.8 0.1 -1.2 -0.3 -1 -0.6 -0.6 -0.8 -0.2 -0.8 0.7 -1.6 0.7 -0.8 1.2 -0.9 1.5 -0.7 1.3 -0.4 2.8 0 1.2 0.3 1 0.5 0.6 0.8 0.2 0.8 -0.2 0.8 -0.4 0.8 -2 1.7 -1.2 0.7 -1.6 0.4z" fill="none" stroke="#111" stroke-width="0.6"/>
<path d="M75.3 386.6l-1.6 0.3 -1.6 -0.4 -0.8 -0.7 -0.2 -0.4 0.1 -0.8 1.1 -1.2 1.4 -0.6 2 -0.2 1.5 0.4 0.7 0.8 0.1 0.4 -0.3 0.8 -0.8 0.9 -1.6 0.7z" fill="none" stroke="#111" stroke-width="0.6"/>
<path d="M114.3 424.4h.7M104.0 408.6h.7M103.8 421.6h.7M120.5 412.9h.7M105.4 404.4h.7M115.4 403.1h.7M115.5 404.0h.7M117.7 418.8h.7M117.8 417.2h.7M104.2 418.2h.7M115.2 426.1h.7M115.6 423.9h.7M116.7 424.0h.7M101.3 420.1h.7M105.4 427.4h.7M117.8 407.7h.7M114.2 425.1h.7M120.7 415.0h.7M109.8 426.6h.7M118.0 425.1h.7M103.7 420.6h.7M101.9 410.6h.7M108.8 425.2h.7M111.9 401.5h.7M117.2 424.0h.7M109.5 426.6h.7M115.9 407.6h.7M103.4 414.2h.7M112.5 425.6h.7M113.6 425.2h.7M104.9 421.8h.7M112.2 427.9h.7M116.9 416.9h.7M106.1 422.5h.7M116.0 408.6h.7M103.3 412.0h.7M106.0 425.3h.7M103.1 407.6h.7M104.0 423.3h.7M104.1 408.5h.7M105.5 425.2h.7M114.4 426.3h.7M113.9 425.0h.7M104.1 413.3h.7M118.0 413.4h.7M111.5 427.8h.7M102.5 421.5h.7M102.2 417.4h.7M112.5 424.7h.7M102.5 425.2h.7M105.4 407.9h.7M103.3 423.4h.7M116.1 422.3h.7M119.3 411.0h.7M102.4 414.1h.7M104.4 419.0h.7M103.7 420.8h.7M107.2 402.5h.7M101.2 404.7h.7M116.8 411.8h.7M114.0 426.7h.7M103.0 416.9h.7M116.3 420.4h.7M117.7 417.8h.7M116.5 422.7h.7M102.3 415.7h.7M104.4 412.8h.7M101.2 407.3h.7M102.3 420.3h.7M107.0 424.6h.7M115.1 408.9h.7M102.1 411.9h.7M102.4 414.2h.7M105.0 420.9h.7M109.6 401.3h.7M117.3 416.2h.7M104.5 412.3h.7M105.1 405.8h.7M106.1 403.6h.7M107.8 424.2h.7M116.5 413.9h.7M103.4 415.6h.7M118.6 412.6h.7M115.4 408.1h.7M109.3 427.2h.7M103.2 410.8h.7M105.7 407.6h.7M106.2 427.6h.7M110.1 426.9h.7M117.4 409.1h.7M103.1 416.4h.7M105.4 406.9h.7M116.1 405.8h.7M116.6 418.9h.7M99.0 418.1h.7M117.1 406.4h.7M115.1 424.8h.7M102.4 401.4h.7M103.7 415.7h.7M117.5 417.8h.7M107.0 403.1h.7M105.0 421.1h.7M104.9 407.7h.7M121.3 425.1h.7M106.1 424.9h.7M118.3 404.2h.7M107.5 428.1h.7M117.1 424.8h.7M107.6 425.7h.7M117.3 408.2h.7M115.0 406.6h.7M110.9 426.6h.7M113.4 427.5h.7M108.5 400.8h.7M104.8 411.5h.7M102.8 415.4h.7M105.5 405.8h.7M107.1 425.2h.7" stroke="#1a1a1a" stroke-width="0.75"/>
<path d="M112.1 424.6l-1.2 0.4 -1.6 -0.1 -1.2 -0.5 -1.2 -0.8 -0.9 -1 -0.9 -1.6 -0.7 -2 -0.4 -2 0 -1.6 0.2 -2 1.3 -4.8 -0.2 -2.4 0.2 -1.2 0.6 -1.1 0.8 -0.8 1.2 -0.6 1.2 -0.3 1.2 -0.1 1.6 0.4 1.2 0.8 0.8 0.9 0.5 1.2 0.3 3.2 1.4 4 0.3 2 0 1.6 -0.2 2 -0.9 2.8 -1.4 2.2 -0.8 0.7 -1.2 0.7z" fill="#111" stroke="#222" stroke-width="0.55"/>
<path d="M112.1 424.6l-1.2 0.4 -1.6 -0.1 -1.2 -0.5 -1.2 -0.8 -0.9 -1 -0.9 -1.6 -0.7 -2 -0.4 -2 0 -1.6 0.2 -2 1.3 -4.8 -0.2 -2.4 0.2 -1.2 0.6 -1.1 0.8 -0.8 1.2 -0.6 1.2 -0.3 1.2 -0.1 1.6 0.4 1.2 0.8 0.8 0.9 0.5 1.2 0.3 3.2 1.4 4 0.3 2 0 1.6 -0.2 2 -0.9 2.8 -1.4 2.2 -0.8 0.7 -1.2 0.7z" fill="none" stroke="#222" stroke-width="0.55"/>
<path d="M110.5 418.6l-0.8 -0.1 -0.5 -0.3 -0.5 -0.8 -0.3 -1.2 0 -1.2 0.5 -1.2 0.4 -0.5 0.8 -0.4 0.8 0.2 0.5 0.3 0.5 0.8 0.3 1.2 0 1.2 -0.5 1.2 -0.4 0.5 -0.8 0.3z" fill="none" stroke="#fff" stroke-width="0.5"/>
<ellipse cx="72" cy="416" rx="5.5" ry="2.6" transform="rotate(-18 72 416)" fill="#fff" stroke="#111" stroke-width="0.9"/>
</g>
<rect x="51.70" y="336.20" width="88.30" height="92.80" fill="none" stroke="#444" stroke-width="0.9"/>
<line x1="95.80" y1="336.20" x2="95.80" y2="429.00" stroke="#444" stroke-width="0.9" />
<line x1="51.70" y1="403.30" x2="140.00" y2="403.30" stroke="#444" stroke-width="0.9" />
<line x1="51.70" y1="336.20" x2="51.70" y2="429.00" stroke="#222" stroke-width="1.1" />
<line x1="51.70" y1="429.00" x2="140.00" y2="429.00" stroke="#222" stroke-width="1.1" />
<path d="M48.1 408.7H51.7M49.5 402.3H51.7M49.5 398.5H51.7M49.5 395.9H51.7M49.5 393.8H51.7M49.5 392.1H51.7M49.5 390.7H51.7M49.5 389.4H51.7M49.5 388.3H51.7M48.1 387.4H51.7M49.5 380.9H51.7M49.5 377.2H51.7M49.5 374.5H51.7M49.5 372.5H51.7M49.5 370.8H51.7M49.5 369.3H51.7M49.5 368.1H51.7M49.5 367.0H51.7M48.1 366.0H51.7M49.5 359.6H51.7M49.5 355.9H51.7M49.5 353.2H51.7M49.5 351.1H51.7M49.5 349.4H51.7M49.5 348.0H51.7M49.5 346.8H51.7M49.5 345.7H51.7M48.1 344.7H51.7M48.1 418.7H51.7M49.5 413.7H51.7M49.5 423.7H51.7M68.7 429.0V432.6M74.9 429.0V431.2M78.4 429.0V431.2M81.0 429.0V431.2M83.0 429.0V431.2M84.6 429.0V431.2M86.0 429.0V431.2M87.2 429.0V431.2M88.2 429.0V431.2M89.1 429.0V432.6M95.3 429.0V431.2M98.9 429.0V431.2M101.4 429.0V431.2M103.4 429.0V431.2M105.0 429.0V431.2M106.4 429.0V431.2M107.6 429.0V431.2M108.6 429.0V431.2M109.6 429.0V432.6M115.7 429.0V431.2M119.3 429.0V431.2M121.9 429.0V431.2M123.8 429.0V431.2M125.5 429.0V431.2M126.8 429.0V431.2M128.0 429.0V431.2M129.1 429.0V431.2M130.0 429.0V432.6M59.3 429.0V432.6M54.7 429.0V431.2M63.7 429.0V431.2" stroke="#000" stroke-width="1.0"/>
<text x="43.50" y="347.40" font-size="7.6" text-anchor="end" fill="#222" stroke="#222" stroke-width="0.2">10<tspan dy="-3.2" font-size="5.62">5</tspan></text>
<text x="43.50" y="367.40" font-size="7.6" text-anchor="end" fill="#222" stroke="#222" stroke-width="0.2">10<tspan dy="-3.2" font-size="5.62">4</tspan></text>
<text x="43.50" y="388.90" font-size="7.6" text-anchor="end" fill="#222" stroke="#222" stroke-width="0.2">10<tspan dy="-3.2" font-size="5.62">3</tspan></text>
<text x="43.50" y="411.40" font-size="7.6" text-anchor="end" fill="#222" stroke="#222" stroke-width="0.2">10<tspan dy="-3.2" font-size="5.62">2</tspan></text>
<text x="43.50" y="421.40" font-size="7.6" text-anchor="end" fill="#222" font-weight="normal" font-style="normal" stroke="#222" stroke-width="0.1" >0</text>
<text x="60.90" y="442.80" font-size="7.6" text-anchor="middle" fill="#222" font-weight="normal" font-style="normal" stroke="#222" stroke-width="0.1" >0</text>
<text x="70.30" y="442.80" font-size="7.6" text-anchor="middle" fill="#222" stroke="#222" stroke-width="0.2">10<tspan dy="-3.2" font-size="5.62">2</tspan></text>
<text x="91.20" y="442.80" font-size="7.6" text-anchor="middle" fill="#222" stroke="#222" stroke-width="0.2">10<tspan dy="-3.2" font-size="5.62">3</tspan></text>
<text x="112.70" y="442.80" font-size="7.6" text-anchor="middle" fill="#222" stroke="#222" stroke-width="0.2">10<tspan dy="-3.2" font-size="5.62">4</tspan></text>
<text x="131.50" y="442.80" font-size="7.6" text-anchor="middle" fill="#222" stroke="#222" stroke-width="0.2">10<tspan dy="-3.2" font-size="5.62">5</tspan></text>
<text x="55.50" y="344.30" font-size="6.8" text-anchor="start" fill="#111" font-weight="normal" font-style="normal" stroke="#111" stroke-width="0.1" letter-spacing="0.25">30.8</text>
<text x="137.60" y="344.30" font-size="6.8" text-anchor="end" fill="#111" font-weight="normal" font-style="normal" stroke="#111" stroke-width="0.1" letter-spacing="0.25">0.73</text>
<text x="55.60" y="425.30" font-size="6.8" text-anchor="start" fill="#111" font-weight="normal" font-style="normal" stroke="#111" stroke-width="0.1" letter-spacing="0.25">2.3</text>
<text x="137.60" y="425.30" font-size="6.8" text-anchor="end" fill="#111" font-weight="normal" font-style="normal" stroke="#111" stroke-width="0.1" letter-spacing="0.25">66.2</text>
<clipPath id="cB4"><rect x="174.7" y="336.2" width="87.90000000000003" height="92.30000000000001"/></clipPath>
<g clip-path="url(#cB4)">
<path d="M241.1 358.6h.7M237.5 369.3h.7M239.0 393.6h.7M236.5 417.4h.7M235.5 397.4h.7M234.7 379.9h.7M240.7 402.3h.7M222.3 385.3h.7M244.9 386.5h.7M249.7 385.9h.7M242.3 380.0h.7M240.3 382.9h.7M243.2 371.3h.7M234.5 383.7h.7M242.5 365.7h.7M210.4 390.3h.7M221.5 391.7h.7M224.6 382.2h.7M215.7 387.3h.7M253.4 414.5h.7M230.9 388.3h.7M231.0 409.7h.7M216.8 407.4h.7M230.6 391.6h.7M251.6 377.2h.7M220.6 358.2h.7M245.2 373.4h.7M251.4 363.2h.7M233.1 376.0h.7M234.9 375.4h.7M217.2 393.1h.7M243.2 417.6h.7M243.1 361.7h.7M258.1 388.0h.7M255.1 396.4h.7M216.2 402.4h.7M247.0 376.3h.7M247.1 388.0h.7M255.2 385.6h.7M235.5 386.1h.7M246.3 409.3h.7M246.9 386.2h.7M243.5 388.7h.7M214.2 352.1h.7M230.7 376.5h.7M236.1 375.5h.7M236.6 399.9h.7M237.0 373.4h.7M246.0 371.1h.7M232.8 391.3h.7M232.2 401.0h.7M239.1 386.4h.7M242.5 388.4h.7M221.9 366.2h.7M230.7 378.6h.7M236.8 390.5h.7M235.9 374.1h.7M233.8 391.4h.7M236.9 376.1h.7M234.9 408.4h.7M228.0 382.2h.7M247.6 377.9h.7M222.6 384.7h.7M225.3 395.6h.7M258.0 381.7h.7M239.6 378.1h.7M243.2 398.3h.7M235.6 401.7h.7M242.4 358.4h.7M220.1 387.8h.7M218.9 365.5h.7M236.6 383.6h.7M245.9 387.2h.7M256.0 386.4h.7M243.2 384.4h.7M214.9 380.8h.7M259.8 372.4h.7M232.5 376.9h.7M257.9 392.7h.7M240.2 394.9h.7M247.8 393.8h.7M247.3 375.4h.7M211.6 385.8h.7M243.2 355.1h.7M212.6 397.5h.7M225.3 374.5h.7M242.1 384.0h.7M240.2 424.5h.7M233.8 374.5h.7M234.5 399.6h.7M240.1 360.0h.7M215.2 379.8h.7M239.6 417.0h.7M221.6 381.0h.7M242.4 397.7h.7M237.2 394.6h.7M225.7 373.0h.7M230.7 385.9h.7M223.5 412.9h.7M229.7 388.3h.7M208.4 427.2h.7M244.9 383.9h.7M220.7 382.7h.7M258.3 373.7h.7M230.5 396.3h.7M226.9 392.5h.7M237.5 362.9h.7M244.3 361.3h.7M242.2 374.2h.7M244.4 366.6h.7M238.8 406.7h.7M259.3 396.5h.7" stroke="#1a1a1a" stroke-width="0.75"/>
<path d="M198.7 415.5h.7M213.0 407.9h.7M208.4 405.5h.7M196.1 401.9h.7M185.6 407.7h.7M178.1 425.0h.7M201.9 409.3h.7M180.5 403.7h.7M196.3 401.6h.7M206.7 408.0h.7M198.1 415.1h.7M178.5 411.5h.7M199.2 411.0h.7M196.3 418.7h.7M190.2 409.7h.7M212.5 410.7h.7M205.3 420.4h.7M177.9 411.1h.7M205.3 412.6h.7M204.9 402.3h.7M197.6 421.0h.7M206.2 411.6h.7M199.5 406.5h.7M191.7 419.6h.7M217.4 401.9h.7M198.5 415.3h.7M190.8 418.0h.7M191.1 410.6h.7M197.5 426.0h.7M194.8 422.0h.7M220.9 420.8h.7M183.9 413.8h.7M201.3 418.3h.7M196.4 406.5h.7M195.5 420.8h.7M208.3 420.7h.7M202.7 423.7h.7M205.8 419.4h.7M196.8 426.3h.7M202.4 416.1h.7M182.8 402.6h.7M188.6 413.7h.7M189.3 405.1h.7M198.5 416.7h.7M204.4 420.2h.7M195.6 402.4h.7M192.7 415.1h.7M196.7 419.9h.7M196.0 423.5h.7M184.4 405.0h.7M192.6 421.0h.7M179.8 404.8h.7M200.9 414.6h.7M190.7 411.2h.7M210.8 402.9h.7M194.5 411.7h.7M190.4 410.6h.7M194.5 418.4h.7M206.9 420.8h.7M216.7 414.8h.7M184.8 403.8h.7M199.9 416.5h.7M203.4 410.1h.7M200.7 423.4h.7M200.0 407.0h.7M195.5 417.3h.7M192.2 422.8h.7M195.1 413.3h.7M200.0 423.5h.7M183.9 406.3h.7M184.1 404.6h.7M202.3 412.0h.7M194.8 414.8h.7M203.8 412.0h.7M193.8 411.6h.7M186.2 403.8h.7M201.7 411.5h.7M199.3 404.9h.7M198.0 411.2h.7M181.8 416.8h.7M196.3 426.7h.7M209.9 416.8h.7M196.8 403.7h.7M177.2 409.5h.7M211.3 412.3h.7M200.7 410.7h.7M178.8 403.3h.7M204.8 414.2h.7M191.4 416.4h.7M195.7 425.2h.7M191.5 421.5h.7M190.9 411.6h.7M192.8 415.7h.7M200.2 409.5h.7M195.8 407.6h.7M192.2 406.2h.7M198.1 416.3h.7M197.8 419.0h.7M191.9 414.4h.7M183.3 416.1h.7M186.9 399.7h.7M191.2 415.1h.7M196.4 415.0h.7M196.1 415.4h.7M202.1 422.3h.7M175.4 412.9h.7M194.8 401.4h.7M195.3 415.5h.7M194.9 408.0h.7M185.3 416.1h.7M209.6 404.9h.7M184.7 415.0h.7M184.5 413.2h.7M186.7 404.9h.7M206.0 414.5h.7M202.0 406.1h.7M203.5 416.4h.7M193.3 413.1h.7M202.6 414.9h.7M197.0 420.8h.7M195.7 424.8h.7M204.4 415.8h.7M197.0 402.9h.7M191.5 411.9h.7M202.8 419.3h.7M197.8 418.5h.7M206.1 412.9h.7M185.4 404.7h.7M203.5 418.2h.7M187.8 414.1h.7M197.6 417.6h.7M190.0 402.8h.7M207.6 411.4h.7M208.4 412.6h.7M205.2 410.9h.7M202.4 411.6h.7M183.2 406.2h.7M200.8 411.9h.7M185.2 394.7h.7M191.3 411.9h.7M179.8 411.6h.7M189.5 409.1h.7M185.2 409.3h.7M202.3 420.4h.7M210.1 409.4h.7M189.4 410.8h.7M189.5 419.6h.7M202.5 415.2h.7M205.5 409.5h.7M187.0 411.5h.7M193.4 405.9h.7M202.9 419.9h.7M195.1 414.4h.7M198.2 407.2h.7M189.7 409.5h.7M198.0 406.7h.7M191.1 416.2h.7M197.9 411.3h.7M186.4 399.6h.7M216.0 424.6h.7M206.4 410.0h.7M179.6 406.9h.7M178.4 411.2h.7M191.5 423.7h.7M205.6 408.7h.7M181.2 406.8h.7M193.5 410.8h.7M178.6 420.1h.7M210.0 402.7h.7M194.3 419.8h.7M199.3 413.4h.7M203.4 413.2h.7M197.9 416.0h.7M191.4 414.5h.7M190.7 402.8h.7M199.0 425.4h.7M205.7 422.7h.7M185.0 401.7h.7M211.2 422.3h.7M185.8 425.6h.7M192.6 408.7h.7M180.2 417.4h.7M194.4 405.1h.7M176.6 424.0h.7M205.9 401.1h.7M189.8 403.6h.7M194.1 417.5h.7M190.3 405.9h.7M199.1 423.8h.7M198.8 424.7h.7M198.3 427.2h.7M180.8 400.4h.7M207.1 413.6h.7M223.4 407.1h.7M188.6 415.2h.7M207.7 397.1h.7" stroke="#1a1a1a" stroke-width="0.75"/>
<path d="M201.2 370.4h.7M212.4 372.1h.7M184.8 374.9h.7M177.2 374.1h.7M188.6 372.8h.7M187.5 371.4h.7M187.7 371.8h.7M178.9 393.3h.7M188.3 400.8h.7M198.6 373.2h.7M196.5 372.8h.7M175.7 379.9h.7M190.9 394.2h.7M218.2 382.7h.7M190.6 370.3h.7M201.3 398.4h.7M209.3 375.9h.7M196.8 373.1h.7M200.6 373.9h.7M199.3 371.7h.7M198.4 366.6h.7M185.1 371.3h.7M179.2 391.5h.7M210.0 372.8h.7M213.9 392.2h.7M205.0 392.6h.7M189.9 394.0h.7M203.1 374.2h.7M222.1 383.0h.7M192.5 370.2h.7M197.4 372.3h.7M204.9 374.3h.7M198.3 372.8h.7M191.0 373.7h.7M193.1 372.5h.7M175.3 379.3h.7M220.5 378.7h.7M187.6 373.8h.7M211.5 372.6h.7M192.8 372.8h.7M188.5 395.7h.7M197.9 396.9h.7M213.6 394.4h.7M198.1 373.6h.7M202.0 372.2h.7M198.2 373.1h.7M189.5 393.1h.7M213.1 376.8h.7M192.4 370.0h.7M189.4 397.1h.7M218.2 389.2h.7M211.3 376.2h.7M189.0 393.8h.7M212.4 374.8h.7M196.2 397.5h.7M194.8 397.3h.7M187.0 397.5h.7M218.1 385.9h.7M196.8 393.5h.7M201.6 398.2h.7M198.5 371.8h.7M185.8 372.1h.7M197.4 394.1h.7M180.5 394.5h.7M201.7 370.5h.7M219.9 383.4h.7M218.7 383.7h.7M192.4 373.3h.7M216.9 385.8h.7M201.5 373.7h.7M213.0 374.8h.7M190.0 369.8h.7M195.3 396.7h.7M195.7 371.1h.7M212.5 377.4h.7M177.6 373.3h.7M215.9 379.9h.7M200.1 397.5h.7M211.1 396.0h.7M190.2 370.5h.7M193.8 370.3h.7M190.4 398.4h.7M190.9 393.8h.7M208.4 392.4h.7M203.7 374.2h.7M175.3 385.3h.7M216.5 381.0h.7M199.9 395.9h.7M218.0 381.5h.7M178.1 372.4h.7M190.8 397.6h.7M196.2 393.8h.7M210.1 397.0h.7M193.5 370.5h.7M179.3 376.1h.7M176.7 378.8h.7M195.5 396.2h.7M176.2 386.6h.7M202.6 374.4h.7M215.5 390.3h.7M178.2 377.2h.7M220.0 394.8h.7M188.1 370.7h.7M193.1 394.0h.7M175.8 377.7h.7M210.9 375.2h.7M190.9 400.6h.7M201.9 405.2h.7M187.1 395.9h.7M178.8 395.9h.7M175.5 380.9h.7M180.3 392.5h.7M182.6 392.2h.7M185.0 393.7h.7M178.9 377.1h.7M217.3 373.6h.7M177.3 391.4h.7M189.4 396.2h.7M175.8 373.0h.7M203.5 393.4h.7M190.7 373.6h.7M188.4 393.1h.7M186.9 395.7h.7M179.6 376.2h.7M176.5 387.0h.7M196.5 371.6h.7M204.6 393.0h.7M188.7 394.8h.7M215.7 389.4h.7M212.1 393.0h.7M215.2 390.0h.7M183.6 375.3h.7M181.6 392.3h.7M198.9 396.7h.7M196.9 369.7h.7M191.3 371.9h.7M215.5 389.4h.7M191.5 373.1h.7M217.0 375.8h.7M215.9 379.1h.7M218.7 388.4h.7M179.3 400.7h.7M189.6 394.2h.7M202.0 374.2h.7M202.7 396.5h.7M207.2 373.0h.7M176.7 389.9h.7M208.5 372.9h.7M193.2 370.1h.7M215.4 376.2h.7M175.4 380.6h.7M195.5 372.8h.7M178.1 389.9h.7M178.7 372.8h.7M192.6 373.3h.7M192.1 364.3h.7M182.6 373.3h.7M208.7 396.5h.7M188.5 371.1h.7M198.8 370.3h.7M202.9 374.3h.7M201.1 374.0h.7M180.7 370.7h.7M205.1 374.6h.7M178.2 388.9h.7M175.5 376.8h.7M201.5 394.2h.7M198.3 371.9h.7M215.5 377.4h.7M217.0 379.0h.7M213.7 372.6h.7M175.3 383.3h.7M177.7 378.0h.7M180.6 373.9h.7M178.6 377.7h.7M177.7 389.8h.7M211.4 370.8h.7M176.3 387.5h.7M199.7 395.3h.7M205.0 394.4h.7M192.1 394.1h.7M205.1 374.3h.7M182.1 391.5h.7M214.9 390.5h.7M203.9 395.5h.7M209.8 393.6h.7M212.9 376.8h.7M195.2 370.3h.7M177.3 377.1h.7M213.3 377.4h.7M202.0 392.7h.7M176.4 378.9h.7" stroke="#1a1a1a" stroke-width="0.75"/>
<path d="M198.3 393l-5.2 0.3 -4.8 -0.5 -4.4 -1.1 -3.6 -1.6 -1.6 -1 -1.4 -1.3 -1 -1.2 -0.6 -1.2 -0.4 -1.2 0 -1.6 0.3 -1.2 0.6 -1.2 1.3 -1.6 1.4 -1.2 2.2 -1.3 2 -0.9 4.8 -1.3 2.4 -0.4 3.2 -0.2 3.6 0.2 3.2 0.4 8.8 2 3.2 1.3 1.5 1 1.2 1.2 0.8 1.2 0.6 1.2 0.2 1.2 0.1 1.6 -0.3 1.2 -0.6 1.6 -0.9 1.2 -1 1 -2 1.2 -2.4 0.8 -11.2 1.4z" fill="#111" stroke="#222" stroke-width="0.55"/>
<path d="M198.3 393l-5.2 0.3 -4.8 -0.5 -4.4 -1.1 -3.6 -1.6 -1.6 -1 -1.4 -1.3 -1 -1.2 -0.6 -1.2 -0.4 -1.2 0 -1.6 0.3 -1.2 0.6 -1.2 1.3 -1.6 1.4 -1.2 2.2 -1.3 2 -0.9 4.8 -1.3 2.4 -0.4 3.2 -0.2 3.6 0.2 3.2 0.4 8.8 2 3.2 1.3 1.5 1 1.2 1.2 0.8 1.2 0.6 1.2 0.2 1.2 0.1 1.6 -0.3 1.2 -0.6 1.6 -0.9 1.2 -1 1 -2 1.2 -2.4 0.8 -11.2 1.4z" fill="none" stroke="#222" stroke-width="0.55"/>
<path d="M197.5 392.6l-4 0.2 -4 -0.3 -3.2 -0.6 -3.2 -1.1 -2.8 -1.7 -1.5 -1.7 -0.5 -1.6 0.1 -1.2 0.3 -0.8 0.9 -1.2 1.1 -1 3.2 -1.7 4 -1.2 4.8 -0.5 4.8 0.2 4.4 0.8 2.4 0.8 1.6 0.7 1.2 0.8 1.3 1.1 1 1.6 0.3 1.6 -0.5 1.6 -1.3 1.5 -2 1.4 -2.4 1 -2.8 0.8 -3.2 0.5z" fill="none" stroke="#f4f4f4" stroke-width="0.6"/>
<path d="M197.5 383.4l-4 0 -3.2 -0.4 -1.9 -0.4 -0.6 -0.4 0 -0.4 0.6 -0.4 1.9 -0.4 5.6 -0.4 5.6 0.3 2.1 0.5 0.6 0.4 0 0.4 -1.5 0.6 -2.4 0.4 -2.8 0.2z" fill="none" stroke="#888" stroke-width="0.5"/>
<path d="M232.1 424.3h.7M230.6 402.3h.7M238.4 423.9h.7M230.6 403.1h.7M230.3 407.2h.7M232.5 396.6h.7M233.2 395.2h.7M240.2 413.5h.7M232.5 425.8h.7M230.4 403.9h.7M233.8 426.5h.7M230.5 420.1h.7M229.2 409.2h.7M229.4 412.6h.7M236.3 426.8h.7M231.6 399.2h.7M231.1 401.4h.7M228.8 418.7h.7M229.1 414.8h.7M241.9 415.1h.7" stroke="#1a1a1a" stroke-width="0.75"/>
<path d="M235.5 426.4l-1.2 0 -0.8 -0.4 -0.9 -1 -0.9 -1.6 -0.8 -2.4 -0.4 -2 -0.5 -4.8 0.2 -8 0.3 -2.4 0.6 -1.6 1.2 -1.7 1.2 -1.1 1.2 -0.5 1.2 0.4 0.8 0.6 1.1 1.5 0.8 1.6 0.6 2.8 0.4 6 -0.2 5.2 -0.8 4.4 -1.3 3.2 -1 1.2 -0.8 0.6z" fill="none" stroke="#222" stroke-width="0.5"/>
<path d="M235.5 424.2l-0.8 0.2 -0.8 -0.3 -0.8 -0.8 -0.7 -1.1 -1.1 -3.6 -0.6 -4.4 0.3 -7.2 0.4 -2.8 0.5 -1.2 0.8 -1.2 0.8 -0.7 1.2 -0.4 0.8 0.2 0.8 0.5 1 1.2 0.6 1.2 0.6 2.8 0.4 5.2 -0.2 4 -0.6 4 -1.1 2.8 -0.7 1 -0.8 0.6z" fill="none" stroke="#222" stroke-width="0.5"/>
<path d="M235.5 422.3l-0.8 0.2 -0.8 -0.3 -1.1 -1.6 -1 -3.2 -0.4 -3.6 0.2 -4.4 0.5 -4.4 1 -1.9 0.8 -0.7 0.8 -0.2 0.8 0.2 0.8 0.6 0.9 1.6 0.5 2.4 0.5 4.4 -0.1 3.6 -0.5 3.2 -0.9 2.7 -1.2 1.4z" fill="none" stroke="#222" stroke-width="0.5"/>
<path d="M234.7 420.6l-0.4 -0.1 -0.7 -0.7 -0.8 -1.6 -0.6 -2.8 -0.2 -2.8 0.2 -2.8 0.7 -4 0.6 -1.3 0.4 -0.4 0.8 -0.3 0.8 0.2 0.4 0.4 0.7 1.4 0.7 3.6 0.3 3.2 -0.2 3.2 -0.7 2.7 -0.8 1.5 -0.4 0.4 -0.8 0.2z" fill="none" stroke="#222" stroke-width="0.5"/>
<path d="M235.1 418.7l-0.8 -0.2 -0.8 -1.1 -0.5 -1.6 -0.3 -2.4 0.1 -2.4 0.5 -2.8 0.6 -1.6 0.4 -0.5 0.4 -0.2 0.4 0.1 0.4 0.4 0.5 1 0.6 2.4 0.3 2.4 -0.1 2.4 -0.4 2 -0.5 1.2 -0.8 0.9z" fill="none" stroke="#222" stroke-width="0.5"/>
<path d="M234.7 416.6l-0.4 -0.3 -0.5 -0.9 -0.3 -2.8 0.4 -2.8 0.4 -0.8 0.4 -0.3 0.4 0.1 0.6 1 0.4 2.8 -0.3 2.8 -0.4 0.8 -0.3 0.3 -0.4 0.1z" fill="none" stroke="#222" stroke-width="0.5"/>
</g>
<rect x="174.70" y="336.20" width="87.90" height="92.30" fill="none" stroke="#444" stroke-width="0.9"/>
<line x1="218.60" y1="336.20" x2="218.60" y2="428.50" stroke="#444" stroke-width="0.9" />
<line x1="174.70" y1="403.40" x2="262.60" y2="403.40" stroke="#444" stroke-width="0.9" />
<line x1="174.70" y1="336.20" x2="174.70" y2="428.50" stroke="#222" stroke-width="1.1" />
<line x1="174.70" y1="428.50" x2="262.60" y2="428.50" stroke="#222" stroke-width="1.1" />
<path d="M171.1 408.7H174.7M172.5 402.3H174.7M172.5 398.5H174.7M172.5 395.9H174.7M172.5 393.8H174.7M172.5 392.1H174.7M172.5 390.7H174.7M172.5 389.4H174.7M172.5 388.3H174.7M171.1 387.4H174.7M172.5 380.9H174.7M172.5 377.2H174.7M172.5 374.5H174.7M172.5 372.5H174.7M172.5 370.8H174.7M172.5 369.3H174.7M172.5 368.1H174.7M172.5 367.0H174.7M171.1 366.0H174.7M172.5 359.6H174.7M172.5 355.9H174.7M172.5 353.2H174.7M172.5 351.1H174.7M172.5 349.4H174.7M172.5 348.0H174.7M172.5 346.8H174.7M172.5 345.7H174.7M171.1 344.7H174.7M171.1 418.7H174.7M172.5 413.7H174.7M172.5 423.7H174.7M191.7 428.5V432.1M197.9 428.5V430.7M201.4 428.5V430.7M204.0 428.5V430.7M206.0 428.5V430.7M207.6 428.5V430.7M209.0 428.5V430.7M210.2 428.5V430.7M211.2 428.5V430.7M212.1 428.5V432.1M218.3 428.5V430.7M221.9 428.5V430.7M224.4 428.5V430.7M226.4 428.5V430.7M228.0 428.5V430.7M229.4 428.5V430.7M230.6 428.5V430.7M231.6 428.5V430.7M232.6 428.5V432.1M238.7 428.5V430.7M242.3 428.5V430.7M244.9 428.5V430.7M246.8 428.5V430.7M248.5 428.5V430.7M249.8 428.5V430.7M251.0 428.5V430.7M252.1 428.5V430.7M253.0 428.5V432.1M182.3 428.5V432.1M177.7 428.5V430.7M186.7 428.5V430.7" stroke="#000" stroke-width="1.0"/>
<text x="166.50" y="347.40" font-size="7.6" text-anchor="end" fill="#222" stroke="#222" stroke-width="0.2">10<tspan dy="-3.2" font-size="5.62">5</tspan></text>
<text x="166.50" y="367.40" font-size="7.6" text-anchor="end" fill="#222" stroke="#222" stroke-width="0.2">10<tspan dy="-3.2" font-size="5.62">4</tspan></text>
<text x="166.50" y="388.90" font-size="7.6" text-anchor="end" fill="#222" stroke="#222" stroke-width="0.2">10<tspan dy="-3.2" font-size="5.62">3</tspan></text>
<text x="166.50" y="411.40" font-size="7.6" text-anchor="end" fill="#222" stroke="#222" stroke-width="0.2">10<tspan dy="-3.2" font-size="5.62">2</tspan></text>
<text x="166.50" y="421.40" font-size="7.6" text-anchor="end" fill="#222" font-weight="normal" font-style="normal" stroke="#222" stroke-width="0.1" >0</text>
<text x="183.90" y="442.30" font-size="7.6" text-anchor="middle" fill="#222" font-weight="normal" font-style="normal" stroke="#222" stroke-width="0.1" >0</text>
<text x="193.30" y="442.30" font-size="7.6" text-anchor="middle" fill="#222" stroke="#222" stroke-width="0.2">10<tspan dy="-3.2" font-size="5.62">2</tspan></text>
<text x="214.20" y="442.30" font-size="7.6" text-anchor="middle" fill="#222" stroke="#222" stroke-width="0.2">10<tspan dy="-3.2" font-size="5.62">3</tspan></text>
<text x="235.70" y="442.30" font-size="7.6" text-anchor="middle" fill="#222" stroke="#222" stroke-width="0.2">10<tspan dy="-3.2" font-size="5.62">4</tspan></text>
<text x="254.50" y="442.30" font-size="7.6" text-anchor="middle" fill="#222" stroke="#222" stroke-width="0.2">10<tspan dy="-3.2" font-size="5.62">5</tspan></text>
<text x="178.50" y="344.30" font-size="6.8" text-anchor="start" fill="#111" font-weight="normal" font-style="normal" stroke="#111" stroke-width="0.1" letter-spacing="0.25">90.6</text>
<text x="260.20" y="344.30" font-size="6.8" text-anchor="end" fill="#111" font-weight="normal" font-style="normal" stroke="#111" stroke-width="0.1" letter-spacing="0.25">0.5</text>
<text x="178.60" y="424.80" font-size="6.8" text-anchor="start" fill="#111" font-weight="normal" font-style="normal" stroke="#111" stroke-width="0.1" letter-spacing="0.25">0.59</text>
<text x="260.20" y="424.80" font-size="6.8" text-anchor="end" fill="#111" font-weight="normal" font-style="normal" stroke="#111" stroke-width="0.1" letter-spacing="0.25">8.36</text>
<text transform="translate(13.80,262.30) rotate(-90) scale(0.6242111302352267,1)" font-size="10" text-anchor="middle" fill="#a8123a" font-weight="normal" stroke="#a8123a" stroke-width="0.25">Donor</text>
<text transform="translate(25.40,262.00) rotate(-90) scale(0.7474048442906573,1)" font-size="10" text-anchor="middle" fill="#a8123a" font-weight="normal" stroke="#a8123a" stroke-width="0.25">KI/KI</text>
<text transform="translate(13.30,380.50) rotate(-90) scale(0.6499139414802065,1)" font-size="10" text-anchor="middle" fill="#2c4a7c" font-weight="normal" stroke="#2c4a7c" stroke-width="0.25">Donor</text>
<text transform="translate(26.30,380.90) rotate(-90) scale(0.7172478425553516,1)" font-size="10" text-anchor="middle" fill="#2c4a7c" font-weight="normal" stroke="#2c4a7c" stroke-width="0.25">Ts1 KI/KI</text>
<line x1="28.30" y1="447.20" x2="28.30" y2="398.20" stroke="#111" stroke-width="1.1" />
<line x1="27.75" y1="447.20" x2="76.20" y2="447.20" stroke="#111" stroke-width="1.1" />
<polygon points="28.30,395.20 26.10,400.20 30.50,400.20" fill="#111"/>
<polygon points="79.20,447.20 74.20,445.00 74.20,449.40" fill="#111"/>
<text transform="translate(22.90,421.00) rotate(-90) scale(0.5998594079512615,1)" font-size="10" text-anchor="middle" fill="#222" font-weight="normal" stroke="#222" stroke-width="0.25">CD4</text>
<text transform="translate(52.60,458.90) scale(0.6735263527873813,1)" font-size="9.5" text-anchor="middle" fill="#222" font-weight="normal" stroke="#222" stroke-width="0.25">CD8</text>
<clipPath id="cD1"><rect x="315.5" y="218.5" width="84.69999999999999" height="85.19999999999999"/></clipPath>
<g clip-path="url(#cD1)">
<path d="M376.5 264.5h.7M361.1 271.0h.7M353.3 274.1h.7M385.8 292.0h.7M345.4 283.4h.7M366.1 297.7h.7M344.4 303.1h.7M333.6 259.7h.7M347.5 265.9h.7M337.7 291.1h.7M330.3 282.9h.7M359.5 262.8h.7M339.3 288.1h.7M341.6 257.6h.7M368.2 299.4h.7M347.6 285.7h.7M372.2 274.5h.7M324.5 263.1h.7M342.6 294.1h.7M347.4 259.7h.7M332.9 264.7h.7M367.7 263.1h.7M355.2 300.3h.7M362.4 292.1h.7M362.7 276.8h.7M336.4 283.6h.7M369.1 295.6h.7M337.6 264.4h.7M353.8 296.7h.7M356.9 290.8h.7M329.2 287.1h.7M340.5 289.9h.7M359.0 278.4h.7M365.2 285.3h.7M342.0 289.6h.7M342.2 290.9h.7M358.7 293.5h.7M370.0 279.6h.7M333.7 263.2h.7M333.3 286.4h.7M361.3 284.9h.7M352.7 275.0h.7M374.3 271.9h.7M350.6 295.4h.7M358.2 282.8h.7M367.0 284.8h.7M375.6 293.9h.7M356.4 296.9h.7M341.4 286.3h.7M357.5 294.4h.7M356.1 293.2h.7M350.0 299.6h.7M348.4 290.0h.7M366.5 265.1h.7M323.1 258.9h.7M360.4 299.8h.7M361.4 273.5h.7M368.2 283.6h.7M356.0 281.4h.7M334.4 249.6h.7M333.8 260.3h.7M341.7 266.2h.7M350.3 290.6h.7M362.6 270.4h.7M368.6 285.3h.7M361.3 265.1h.7M353.9 276.3h.7M328.3 286.9h.7M363.7 274.3h.7M357.9 300.1h.7M377.0 258.4h.7M362.3 293.3h.7M340.9 294.8h.7M364.4 281.7h.7M367.1 274.2h.7M365.1 273.4h.7M375.1 278.9h.7M365.8 274.0h.7M351.1 288.9h.7M352.6 292.0h.7M371.9 287.3h.7M349.9 276.4h.7M323.7 293.0h.7M325.3 267.1h.7M354.3 287.8h.7M325.2 255.5h.7M382.5 264.9h.7M340.3 288.0h.7M324.1 254.5h.7M330.3 300.4h.7M363.4 297.5h.7M382.0 262.9h.7M348.3 295.7h.7M341.9 288.7h.7M343.6 284.1h.7M342.4 282.4h.7M335.2 296.5h.7M357.1 282.2h.7M338.8 289.6h.7M351.9 269.8h.7M382.1 289.6h.7M377.9 273.7h.7M368.5 267.4h.7M329.3 283.8h.7M358.8 294.7h.7M379.1 287.4h.7M355.7 289.5h.7M321.7 295.1h.7M335.1 291.9h.7M342.3 299.4h.7M345.3 286.2h.7M348.3 283.3h.7M349.7 278.3h.7M340.4 264.6h.7M320.6 254.4h.7M372.7 283.5h.7M367.0 270.0h.7M366.0 282.2h.7M338.8 276.6h.7M337.1 300.1h.7M350.8 279.9h.7M358.8 265.8h.7M348.0 288.2h.7M367.3 283.5h.7M364.7 296.7h.7M353.1 279.4h.7M351.0 292.5h.7M340.0 291.5h.7M323.0 262.0h.7M363.6 299.3h.7M338.2 251.7h.7M338.4 282.4h.7M330.3 293.9h.7M362.2 284.5h.7M343.8 287.3h.7M371.7 267.0h.7M353.0 298.4h.7M352.8 284.0h.7M342.4 295.9h.7M371.5 285.9h.7M345.1 289.9h.7M364.4 279.8h.7M377.7 279.4h.7M331.7 295.4h.7M360.8 283.8h.7M325.4 286.3h.7M365.9 265.7h.7M350.6 262.0h.7M365.4 267.8h.7M337.5 300.0h.7M353.9 286.6h.7M365.9 290.0h.7M366.4 285.3h.7M368.5 265.1h.7M328.3 255.4h.7M333.3 291.6h.7M350.3 290.1h.7M348.6 287.0h.7M360.2 293.6h.7M378.7 287.7h.7M339.5 272.5h.7M374.6 293.0h.7M352.5 287.6h.7M373.0 271.6h.7M356.4 296.4h.7M354.4 301.1h.7M320.0 266.3h.7M347.3 258.5h.7M335.1 287.3h.7M344.5 261.3h.7M366.4 271.2h.7M342.5 280.3h.7M354.6 291.9h.7M366.7 264.1h.7M352.4 296.1h.7M329.3 261.7h.7M345.7 279.7h.7M383.4 296.4h.7M363.1 282.0h.7M380.3 285.8h.7M362.6 272.1h.7M371.5 279.4h.7M351.5 294.7h.7M355.7 303.2h.7M381.8 296.5h.7M358.2 267.9h.7M370.8 282.6h.7M362.6 289.9h.7M351.2 296.3h.7M371.7 280.7h.7M359.0 271.1h.7M360.0 256.5h.7M389.7 274.0h.7M362.0 297.0h.7M360.6 296.0h.7M351.8 281.1h.7M363.2 280.5h.7M341.6 299.1h.7M334.5 258.4h.7M359.2 282.5h.7M341.6 293.8h.7M330.5 253.3h.7M376.2 288.9h.7M363.1 283.3h.7M350.1 272.1h.7M325.7 288.7h.7M359.3 269.8h.7M339.6 299.4h.7M357.1 288.1h.7M334.4 292.2h.7M330.6 271.7h.7M342.3 290.4h.7M363.6 284.2h.7M353.6 298.6h.7M361.6 282.2h.7M327.5 276.3h.7M385.9 285.9h.7M368.5 301.7h.7M369.4 286.9h.7M333.5 285.9h.7M319.2 293.3h.7M349.7 278.1h.7M360.6 283.1h.7M358.9 297.2h.7M357.1 282.1h.7M329.3 257.2h.7M358.7 291.5h.7M358.6 275.7h.7M343.2 289.2h.7M346.8 295.2h.7M338.6 294.9h.7M355.0 298.5h.7M340.3 290.5h.7M361.1 301.6h.7M369.8 286.9h.7M364.2 263.1h.7M352.0 285.9h.7M323.9 293.2h.7M342.2 293.9h.7M351.4 295.0h.7M359.4 256.0h.7M343.3 280.6h.7M337.2 296.1h.7M351.2 296.2h.7M341.9 292.4h.7M349.4 280.7h.7M348.2 290.4h.7M335.4 253.7h.7M350.9 283.4h.7M351.4 269.2h.7M378.7 301.1h.7M352.7 278.6h.7M341.7 288.2h.7M370.5 287.2h.7M366.0 294.1h.7M341.9 267.7h.7M351.7 289.3h.7M331.8 266.1h.7M348.4 269.1h.7M333.4 290.6h.7M337.4 289.4h.7M329.8 299.0h.7M356.2 287.1h.7M340.8 264.7h.7M354.0 288.0h.7M375.4 275.7h.7M322.3 261.3h.7M344.3 299.0h.7M351.3 279.7h.7M375.4 292.2h.7M350.7 261.5h.7M337.2 282.5h.7M341.3 294.5h.7M372.2 287.8h.7M327.0 261.7h.7M334.9 257.8h.7M372.7 292.5h.7M323.3 259.4h.7M333.0 255.4h.7M357.2 293.8h.7M349.2 274.2h.7M316.2 286.0h.7M365.5 296.4h.7M343.2 259.8h.7M356.9 266.0h.7M357.6 288.6h.7M344.4 288.0h.7M360.8 293.7h.7M327.7 289.6h.7M358.5 268.0h.7M359.4 291.0h.7M373.0 277.0h.7M371.1 288.8h.7M331.8 286.8h.7M345.5 271.6h.7M352.4 285.6h.7M347.2 286.7h.7M327.1 291.3h.7M381.5 298.4h.7M324.0 254.9h.7M322.0 262.8h.7M352.2 300.1h.7M329.8 294.8h.7M329.3 295.6h.7M366.3 284.4h.7M339.2 294.0h.7M345.8 298.4h.7M339.1 297.7h.7M366.0 277.4h.7M333.4 292.5h.7M335.0 296.9h.7M349.3 284.7h.7M324.1 289.4h.7M367.2 301.8h.7M366.2 255.4h.7M353.6 271.8h.7M336.3 296.4h.7M362.9 267.5h.7M338.8 298.3h.7M321.0 286.6h.7M351.1 271.9h.7M338.3 285.2h.7M360.6 284.7h.7M365.0 302.8h.7M357.7 284.3h.7M364.7 261.8h.7M358.5 283.1h.7M353.4 297.1h.7M357.6 279.7h.7M348.9 258.8h.7M330.5 254.4h.7M349.7 295.9h.7M335.5 290.7h.7M348.1 286.0h.7M329.9 285.5h.7M373.2 289.5h.7M355.2 296.6h.7M347.1 262.3h.7M352.0 287.8h.7M386.6 276.5h.7M377.4 290.5h.7M337.9 260.2h.7M337.4 283.3h.7M353.0 284.2h.7M352.5 269.0h.7M377.4 251.2h.7M333.8 286.3h.7M361.4 261.0h.7M382.4 294.5h.7M333.2 280.3h.7M339.3 292.1h.7M317.5 261.7h.7M355.7 284.9h.7M334.3 287.1h.7M353.9 294.6h.7M343.1 296.8h.7M339.9 291.4h.7M337.0 296.4h.7M365.7 266.6h.7M344.5 284.1h.7M347.3 289.4h.7M351.9 286.9h.7M345.4 287.9h.7M356.6 291.6h.7M369.8 272.1h.7M354.2 261.2h.7M325.8 259.6h.7M331.0 282.9h.7M341.3 272.8h.7M354.3 257.9h.7M344.5 298.0h.7M328.1 267.6h.7M363.5 264.0h.7M320.6 256.9h.7M359.8 298.5h.7M356.9 271.2h.7M371.0 297.5h.7M359.4 275.4h.7M340.1 279.9h.7M362.7 302.2h.7M326.7 261.7h.7M357.4 258.2h.7M354.8 281.6h.7M357.2 291.5h.7M357.0 289.6h.7M356.0 280.0h.7M354.2 289.1h.7M339.4 275.2h.7M365.2 263.0h.7M358.8 296.7h.7M336.6 254.4h.7M370.2 279.8h.7M363.6 299.7h.7M333.9 288.0h.7M378.7 301.5h.7M385.8 277.2h.7M350.4 300.5h.7M345.2 287.8h.7M360.2 290.1h.7M375.8 299.9h.7M370.9 284.7h.7M361.2 282.2h.7M369.4 286.7h.7M368.7 289.5h.7M363.8 289.1h.7M345.0 276.8h.7M373.3 285.6h.7M346.7 283.1h.7M352.4 288.9h.7M350.3 286.2h.7M385.9 289.9h.7M378.0 275.3h.7M356.6 294.0h.7M334.6 300.5h.7M342.0 266.4h.7M345.0 299.4h.7M351.9 300.6h.7M367.8 297.8h.7M372.6 280.8h.7M362.3 286.3h.7M343.1 281.9h.7M329.1 259.6h.7M347.4 283.2h.7M359.2 276.5h.7M338.4 288.2h.7M349.5 281.8h.7M355.6 290.1h.7M379.3 257.3h.7M361.5 295.1h.7M362.8 263.2h.7M329.5 256.6h.7M351.6 291.9h.7M352.7 303.1h.7M349.2 276.3h.7M331.5 265.3h.7M329.6 262.5h.7M339.7 299.4h.7M333.0 252.3h.7M368.8 286.6h.7M349.4 280.7h.7M356.0 297.3h.7M361.9 273.4h.7M372.4 268.9h.7M348.6 301.7h.7M339.3 298.7h.7M368.9 267.1h.7M339.4 290.3h.7M346.3 264.0h.7M357.6 278.0h.7M344.5 295.0h.7M382.5 266.0h.7M362.9 272.8h.7M351.6 274.7h.7M357.3 286.9h.7M350.6 275.0h.7M340.4 259.7h.7M333.3 255.3h.7M347.2 291.4h.7M367.0 276.1h.7M352.2 290.2h.7M346.1 294.0h.7M326.9 262.9h.7M351.2 256.6h.7M333.3 298.6h.7M347.1 296.3h.7M331.1 277.6h.7M370.4 291.5h.7M325.2 264.4h.7M348.5 282.1h.7M345.5 293.3h.7M349.5 278.4h.7M349.7 270.4h.7M362.3 269.8h.7M337.4 290.2h.7M337.9 292.5h.7M343.4 295.1h.7M316.1 264.3h.7M364.1 300.6h.7M318.1 254.0h.7M360.5 285.2h.7M333.1 271.0h.7M347.0 298.1h.7M353.0 299.2h.7M320.8 298.8h.7M360.5 253.1h.7M358.8 269.3h.7M377.7 279.2h.7M324.9 261.0h.7M352.8 285.6h.7M359.3 273.7h.7M345.4 260.3h.7M344.0 291.0h.7M353.3 293.6h.7M340.6 289.4h.7M328.7 283.6h.7M340.4 300.1h.7M347.2 287.0h.7M330.3 259.1h.7M347.1 286.2h.7M341.4 290.5h.7M335.4 271.5h.7M357.9 264.1h.7M346.1 285.1h.7M363.3 286.7h.7M351.4 293.9h.7M387.9 273.1h.7M355.9 287.7h.7M354.9 263.4h.7M328.4 286.0h.7M324.8 257.1h.7M324.5 253.0h.7M366.2 267.2h.7M378.3 297.2h.7M361.2 256.4h.7M359.7 288.4h.7M358.0 258.4h.7M337.2 298.3h.7M355.5 280.3h.7M346.0 292.9h.7M364.1 292.0h.7M338.0 302.0h.7M368.4 293.0h.7M359.2 275.9h.7M328.3 293.2h.7M326.0 291.4h.7M352.9 292.8h.7M377.9 271.2h.7M361.4 295.4h.7M345.8 288.2h.7M362.6 291.1h.7M373.4 303.0h.7M350.7 294.9h.7M389.4 292.7h.7M357.7 292.7h.7M369.6 292.7h.7M344.5 296.9h.7M343.3 281.0h.7M359.5 271.1h.7M323.5 297.5h.7M353.2 285.3h.7M368.1 295.3h.7M334.5 283.4h.7M345.1 288.4h.7M374.8 296.6h.7M339.0 282.4h.7M372.5 277.0h.7M361.0 264.0h.7M352.3 293.1h.7M330.5 252.7h.7M361.5 299.7h.7M337.9 294.6h.7M345.6 297.5h.7M368.1 296.9h.7M351.7 300.4h.7M336.6 296.0h.7M321.6 268.8h.7M337.3 287.5h.7M360.0 284.9h.7M346.0 295.1h.7M352.6 297.3h.7M358.8 294.0h.7M335.7 289.2h.7M320.3 264.8h.7M359.2 288.1h.7M357.9 283.8h.7M341.1 300.2h.7M330.1 295.0h.7M369.7 294.6h.7M362.2 295.1h.7M361.1 295.1h.7M331.1 251.8h.7M369.8 271.1h.7M356.8 285.1h.7M340.6 288.5h.7M364.5 262.3h.7M355.2 288.7h.7M318.5 299.6h.7M365.1 284.1h.7M348.6 292.4h.7M363.6 298.3h.7M358.5 277.3h.7M358.2 294.3h.7M325.8 288.4h.7M368.0 287.2h.7M344.9 287.8h.7M381.7 288.4h.7M322.9 262.3h.7M336.4 290.7h.7M350.5 269.0h.7M343.2 298.7h.7M367.7 258.3h.7M339.9 293.7h.7M347.8 283.8h.7M346.9 287.3h.7M365.3 276.4h.7M335.2 290.1h.7M372.7 288.4h.7M372.1 262.6h.7M360.9 290.9h.7M353.0 290.5h.7M366.3 282.6h.7M349.5 283.8h.7M353.0 259.6h.7M361.6 264.2h.7M354.6 274.1h.7M358.9 296.0h.7M351.9 268.2h.7M350.9 283.9h.7M350.4 284.8h.7M360.7 296.7h.7M345.5 295.0h.7M345.7 294.5h.7M374.1 281.7h.7M325.3 289.3h.7M353.2 302.3h.7M375.5 298.2h.7M368.5 273.5h.7M362.6 293.9h.7M356.7 290.7h.7M349.5 288.2h.7M346.0 284.0h.7M356.6 283.9h.7M340.8 255.6h.7M316.5 256.9h.7M356.7 285.4h.7M346.9 290.1h.7M343.3 299.3h.7M348.6 294.6h.7M358.8 276.8h.7M379.1 303.1h.7M334.4 259.9h.7M350.4 292.2h.7M335.8 291.9h.7M347.1 296.3h.7M379.6 287.8h.7M375.6 268.7h.7M360.0 296.3h.7M382.5 273.4h.7M330.7 269.6h.7M367.3 291.9h.7M352.4 276.4h.7M349.4 291.2h.7M328.4 252.2h.7M333.4 256.6h.7M355.1 273.5h.7M351.2 298.8h.7M368.9 266.1h.7M347.1 284.9h.7M365.7 264.9h.7M366.2 288.3h.7M344.0 294.2h.7M372.2 281.7h.7M355.6 293.1h.7M355.8 275.3h.7M353.9 289.4h.7M347.0 285.0h.7M332.0 272.8h.7M365.3 295.5h.7M343.5 274.8h.7M337.2 301.1h.7M337.2 295.3h.7M343.4 282.5h.7M358.8 266.5h.7M378.7 265.7h.7M347.0 282.5h.7M376.8 275.8h.7M356.2 269.0h.7M352.4 290.4h.7M347.4 255.2h.7M386.2 277.5h.7M383.5 291.1h.7M343.2 262.2h.7M333.1 291.0h.7M327.0 290.6h.7M361.7 294.9h.7M362.8 288.6h.7M366.1 286.9h.7M366.4 284.0h.7M338.1 293.8h.7M338.2 283.2h.7M319.5 258.8h.7M352.8 291.4h.7M346.6 284.2h.7M362.0 266.9h.7M325.0 249.2h.7M350.3 274.7h.7M364.8 297.7h.7M364.6 262.8h.7M349.2 298.3h.7M361.7 301.1h.7M345.2 296.9h.7M362.9 302.6h.7M353.4 291.8h.7M328.6 254.7h.7M357.7 261.6h.7M357.0 299.2h.7M358.6 268.4h.7M350.3 297.9h.7M333.7 262.7h.7M357.3 271.3h.7M373.1 288.0h.7M343.7 298.1h.7M334.9 297.8h.7M371.4 296.3h.7M373.9 293.5h.7M372.2 254.9h.7M335.6 299.8h.7M331.2 258.0h.7M387.4 259.3h.7M337.0 284.8h.7M355.0 297.0h.7M329.2 284.3h.7M364.0 262.6h.7M347.7 276.9h.7M372.9 284.9h.7M363.2 278.5h.7M350.3 276.1h.7M371.1 277.6h.7M347.3 298.0h.7M353.1 296.8h.7M319.6 264.8h.7M387.5 277.9h.7M350.0 293.5h.7M366.1 298.4h.7M344.4 286.3h.7M347.3 294.8h.7M339.1 257.0h.7M335.2 291.4h.7M366.5 284.1h.7M350.3 297.9h.7M393.4 278.9h.7M330.5 270.7h.7M349.5 296.6h.7M371.6 281.0h.7M331.1 298.3h.7M359.0 284.0h.7M373.7 285.7h.7M333.9 292.4h.7M367.1 292.1h.7M341.0 292.6h.7M370.0 258.1h.7M375.4 288.4h.7M357.8 284.4h.7M358.2 285.3h.7M353.5 291.5h.7M336.7 279.6h.7M335.3 297.1h.7M359.2 293.1h.7M342.7 263.6h.7M327.3 289.8h.7M349.4 285.1h.7M322.5 264.3h.7M332.4 278.1h.7M360.1 296.5h.7M334.7 281.9h.7M338.3 288.2h.7M351.4 287.6h.7M323.7 286.9h.7M351.1 290.2h.7M360.5 295.6h.7M336.1 294.1h.7M340.9 256.9h.7M352.0 287.2h.7M330.6 300.8h.7M346.1 286.0h.7M338.6 275.1h.7M361.6 286.9h.7M362.5 300.6h.7M373.9 279.1h.7M330.9 299.0h.7M342.0 287.4h.7M373.9 272.4h.7M343.6 299.4h.7M347.9 276.2h.7M349.5 294.1h.7M332.9 263.4h.7M360.9 275.7h.7M359.7 270.5h.7M346.8 284.4h.7M360.0 272.0h.7M372.4 294.0h.7M319.0 288.9h.7M319.7 264.3h.7M368.7 268.6h.7M336.7 301.9h.7M347.9 286.6h.7M323.9 300.6h.7M346.1 288.5h.7M380.0 298.6h.7M351.1 263.8h.7M345.7 276.6h.7M333.9 292.7h.7M321.8 273.9h.7M345.0 294.6h.7M371.5 281.5h.7M351.0 287.4h.7M368.6 280.8h.7M358.9 260.3h.7M346.2 288.1h.7M356.7 293.1h.7M361.0 289.0h.7M342.4 265.3h.7M373.6 272.5h.7M326.3 291.6h.7M334.7 287.1h.7M361.8 277.1h.7M350.0 269.3h.7M333.0 289.8h.7M376.6 260.1h.7M338.9 279.5h.7M358.5 277.7h.7M370.5 263.3h.7M321.6 258.9h.7M382.2 269.5h.7M345.7 301.3h.7M352.2 279.9h.7M346.1 271.0h.7M326.1 269.1h.7M360.5 283.1h.7M364.6 298.9h.7M327.8 266.0h.7M347.2 284.3h.7M359.5 276.3h.7M320.1 256.2h.7M325.3 295.0h.7M365.6 282.7h.7M322.7 267.2h.7M326.1 290.7h.7M362.3 272.7h.7M337.6 258.3h.7M348.9 277.8h.7M359.0 244.5h.7M328.1 256.1h.7M359.0 285.3h.7M356.7 289.4h.7M359.6 283.5h.7M359.6 295.4h.7M353.2 257.9h.7M347.3 291.0h.7M360.0 260.9h.7M365.6 267.7h.7M339.4 288.8h.7M339.1 289.8h.7M333.5 257.6h.7M357.6 298.7h.7M343.1 297.6h.7M387.9 269.8h.7M352.7 281.3h.7M338.3 286.9h.7M381.6 267.2h.7M352.1 263.8h.7M362.9 295.5h.7M325.5 269.6h.7M362.4 270.1h.7M363.8 255.4h.7M340.7 285.9h.7M354.0 286.5h.7M368.6 276.7h.7M342.6 289.2h.7M331.1 295.3h.7M338.2 285.8h.7M362.1 275.5h.7M331.9 253.5h.7M344.5 295.2h.7M337.9 292.5h.7M347.9 283.7h.7M334.5 294.1h.7M351.3 293.2h.7M353.6 286.4h.7M376.6 266.6h.7M372.1 290.3h.7M358.8 289.8h.7M378.2 246.8h.7M344.2 290.6h.7M356.0 297.4h.7M374.0 273.8h.7M350.5 302.6h.7M343.5 267.5h.7M342.1 281.1h.7M338.8 290.0h.7M335.5 289.6h.7M365.9 269.3h.7M341.1 302.8h.7M352.6 278.0h.7M331.6 286.8h.7M357.8 280.7h.7M361.8 300.3h.7M337.4 288.8h.7M353.4 295.8h.7M356.1 286.3h.7M365.9 288.1h.7M357.9 274.5h.7M346.7 288.4h.7M332.9 296.8h.7M331.7 295.0h.7M349.8 288.8h.7M348.1 274.9h.7M365.3 288.2h.7M350.8 298.7h.7M356.3 272.4h.7M338.7 292.0h.7M365.9 296.1h.7M340.5 256.9h.7M352.2 300.0h.7M352.9 277.0h.7M329.8 271.8h.7M362.3 296.5h.7M364.3 291.8h.7M346.2 283.3h.7M373.8 257.2h.7M350.7 291.8h.7M350.9 271.3h.7M332.2 293.7h.7M339.2 274.4h.7M343.1 294.3h.7M336.2 285.4h.7M336.1 296.3h.7M359.5 282.0h.7M366.1 255.8h.7M369.1 268.3h.7M348.4 274.4h.7M332.9 265.2h.7M380.6 276.0h.7M353.6 277.8h.7M333.9 297.4h.7M325.9 301.0h.7M360.4 276.0h.7M362.2 294.2h.7M360.9 300.3h.7M375.3 298.9h.7M326.5 257.5h.7M378.7 291.8h.7M359.0 289.9h.7M335.6 250.8h.7M356.3 282.4h.7M351.9 280.3h.7M361.4 294.0h.7M331.9 259.4h.7M344.4 284.5h.7M325.4 269.7h.7M348.7 261.7h.7M351.6 288.0h.7M346.9 254.1h.7M356.7 263.5h.7M330.8 297.5h.7M348.4 299.7h.7M379.8 293.5h.7M357.4 266.9h.7M366.2 268.4h.7M326.2 294.7h.7M364.6 288.1h.7M356.5 292.8h.7M342.6 262.5h.7M364.8 285.8h.7M380.0 271.1h.7M355.2 288.1h.7M375.8 278.7h.7M351.1 276.9h.7M362.0 296.5h.7M334.0 289.5h.7M336.2 267.3h.7M354.8 249.8h.7M361.8 285.7h.7M355.7 287.7h.7M351.8 286.0h.7" stroke="#9a9a9a" stroke-width="0.75"/>
<path d="M341.5 258.6h.7M331.3 248.9h.7M342.3 259.4h.7M331.5 264.3h.7M342.1 263.4h.7M332.6 266.0h.7M336.5 250.1h.7M340.1 262.7h.7M323.2 247.5h.7M324.6 249.7h.7M339.7 253.2h.7M343.5 254.9h.7M334.6 250.4h.7M336.8 250.6h.7M327.6 264.2h.7M320.9 247.9h.7M318.7 263.4h.7M332.5 250.9h.7M329.1 250.0h.7M336.1 251.5h.7M336.3 251.9h.7M341.8 259.5h.7M322.4 247.2h.7M343.1 258.6h.7M321.1 267.1h.7M341.1 257.3h.7M322.8 268.7h.7M317.9 254.4h.7M339.2 253.4h.7M332.8 251.5h.7M339.3 252.6h.7M328.4 250.0h.7M335.2 252.2h.7M342.5 252.9h.7M337.8 252.1h.7M341.8 256.5h.7M330.2 250.0h.7M338.0 263.1h.7M316.2 259.4h.7M340.9 258.2h.7M335.4 263.4h.7M328.7 251.3h.7M340.0 255.3h.7M341.3 256.9h.7M333.0 251.6h.7M341.2 259.2h.7" stroke="#9a9a9a" stroke-width="0.75"/>
<path d="M331.9 263.7l-3.2 0.3 -3.2 -0.1 -3.6 -0.7 -2.4 -1 -2 -1.3 -1.3 -1.6 -0.5 -1.6 0.1 -0.8 0.4 -1.2 1.3 -1.6 2 -1.3 2.4 -1 2.8 -0.6 2.8 -0.3 3.2 0.2 2.8 0.5 2.8 1.1 2.2 1.4 1.3 1.6 0.5 1.6 -0.3 1.6 -1.1 1.6 -1.8 1.4 -2.4 1.1 -2.8 0.7z" fill="#000" fill-opacity="0.04" stroke="none"/>
<path d="M331.5 262.6l-2.8 0.3 -2.8 -0.1 -2.4 -0.5 -2.4 -0.9 -1.6 -1 -1.2 -1.5 -0.4 -1.2 0.4 -1.6 0.9 -1.2 1.5 -1.1 2 -0.9 2.4 -0.6 2.4 -0.2 2.8 0.2 2.4 0.4 2 0.8 1.7 1 1.1 1.2 0.5 1.2 -0.1 1.6 -0.8 1.3 -1.6 1.3 -1.6 0.8 -2.4 0.7z" fill="#000" fill-opacity="0.04" stroke="none"/>
<path d="M330.7 261.7l-2 0.2 -2.4 0 -2 -0.4 -2 -0.7 -1.2 -0.8 -1 -1.1 -0.4 -1.2 0.2 -1.2 0.8 -1.2 1.2 -0.8 1.6 -0.7 2 -0.5 2 -0.2 2.4 0.1 2 0.4 1.6 0.6 1.3 0.7 1.1 1.2 0.4 1.2 -0.2 1.2 -0.8 1.2 -1.1 0.8 -1.5 0.7 -2 0.5z" fill="#000" fill-opacity="0.04" stroke="none"/>
<path d="M329.9 260.9l-1.6 0.2 -2 -0.2 -2.9 -0.8 -1.2 -0.8 -0.6 -0.8 -0.3 -0.8 0.3 -1.2 0.6 -0.8 1.2 -0.8 2.9 -0.8 2 -0.2 1.6 0.2 2.8 0.9 1.1 0.7 0.6 0.8 0.3 0.8 -0.3 1.2 -0.6 0.8 -1.1 0.7 -2.8 0.9z" fill="#000" fill-opacity="0.04" stroke="none"/>
<path d="M330.3 259.8l-2.8 0.3 -2.4 -0.6 -1.5 -1 -0.4 -0.8 0.1 -0.8 0.6 -0.7 0.7 -0.5 1.7 -0.6 2.4 -0.1 2 0.4 0.8 0.3 0.9 0.8 0.3 0.5 0.1 0.7 -0.4 0.8 -0.4 0.4 -1.7 0.9z" fill="#000" fill-opacity="0.04" stroke="none"/>
<path d="M331.9 263.7l-3.2 0.3 -3.2 -0.1 -3.6 -0.7 -2.4 -1 -2 -1.3 -1.3 -1.6 -0.5 -1.6 0.1 -0.8 0.4 -1.2 1.3 -1.6 2 -1.3 2.4 -1 2.8 -0.6 2.8 -0.3 3.2 0.2 2.8 0.5 2.8 1.1 2.2 1.4 1.3 1.6 0.5 1.6 -0.3 1.6 -1.1 1.6 -1.8 1.4 -2.4 1.1 -2.8 0.7z" fill="none" stroke="#333" stroke-width="0.5"/>
<path d="M331.5 262.6l-2.8 0.3 -2.8 -0.1 -2.4 -0.5 -2.4 -0.9 -1.6 -1 -1.2 -1.5 -0.4 -1.2 0.4 -1.6 0.9 -1.2 1.5 -1.1 2 -0.9 2.4 -0.6 2.4 -0.2 2.8 0.2 2.4 0.4 2 0.8 1.7 1 1.1 1.2 0.5 1.2 -0.1 1.6 -0.8 1.3 -1.6 1.3 -1.6 0.8 -2.4 0.7z" fill="none" stroke="#333" stroke-width="0.5"/>
<path d="M330.7 261.7l-2 0.2 -2.4 0 -2 -0.4 -2 -0.7 -1.2 -0.8 -1 -1.1 -0.4 -1.2 0.2 -1.2 0.8 -1.2 1.2 -0.8 1.6 -0.7 2 -0.5 2 -0.2 2.4 0.1 2 0.4 1.6 0.6 1.3 0.7 1.1 1.2 0.4 1.2 -0.2 1.2 -0.8 1.2 -1.1 0.8 -1.5 0.7 -2 0.5z" fill="none" stroke="#333" stroke-width="0.5"/>
<path d="M329.9 260.9l-1.6 0.2 -2 -0.2 -2.9 -0.8 -1.2 -0.8 -0.6 -0.8 -0.3 -0.8 0.3 -1.2 0.6 -0.8 1.2 -0.8 2.9 -0.8 2 -0.2 1.6 0.2 2.8 0.9 1.1 0.7 0.6 0.8 0.3 0.8 -0.3 1.2 -0.6 0.8 -1.1 0.7 -2.8 0.9z" fill="none" stroke="#333" stroke-width="0.5"/>
<path d="M330.3 259.8l-2.8 0.3 -2.4 -0.6 -1.5 -1 -0.4 -0.8 0.1 -0.8 0.6 -0.7 0.7 -0.5 1.7 -0.6 2.4 -0.1 2 0.4 0.8 0.3 0.9 0.8 0.3 0.5 0.1 0.7 -0.4 0.8 -0.4 0.4 -1.7 0.9z" fill="none" stroke="#333" stroke-width="0.5"/>
<path d="M366.6 253.3h.7M377.1 273.1h.7M388.5 259.1h.7M360.7 272.7h.7M371.1 280.4h.7M359.3 273.3h.7M362.5 258.5h.7M369.5 251.1h.7M376.2 277.7h.7M360.8 274.1h.7M367.1 253.3h.7M387.6 261.1h.7M380.4 250.9h.7M378.1 277.0h.7M375.4 249.8h.7M363.5 254.9h.7M363.9 255.6h.7M376.1 250.1h.7M376.3 273.8h.7M380.7 272.3h.7M374.9 278.4h.7M371.4 245.1h.7M380.4 250.1h.7M383.6 273.5h.7M360.7 260.2h.7M386.8 262.3h.7M390.7 262.8h.7M372.9 248.2h.7M379.1 277.4h.7" stroke="#9a9a9a" stroke-width="0.75"/>
<path d="M372.3 279.4l-2 0.2 -1.6 -0.5 -1.2 -0.7 -4.1 -3.5 -1.2 -1.6 -0.9 -2 -0.3 -2 0.2 -2 0.5 -2 1.4 -3.6 1.3 -4.4 1 -2 1.3 -1.7 2.4 -2.1 2.4 -1.1 2.4 -0.5 2.8 0.1 2.4 0.6 1.6 0.8 2 1.5 1.4 1.6 0.9 1.6 0.8 2 0.3 2 0 2.4 -0.8 2.8 -0.8 1.6 -0.9 1.2 -1.2 1.2 -1.3 1 -4 2 -0.8 0.6 -0.5 0.8 -0.6 2.4 -0.5 1.2 -0.9 1.2 -1.5 0.9z" fill="#000" fill-opacity="0.07" stroke="none"/>
<path d="M372.3 278.1l-1.6 0.4 -1.6 -0.5 -1.2 -0.9 -3.6 -3.3 -0.9 -1.3 -0.7 -1.6 -0.3 -1.6 0.1 -1.6 0.5 -2 1.3 -3.2 1.4 -4.8 0.8 -1.6 1 -1.5 1.6 -1.5 2.4 -1.3 2.4 -0.6 2.4 0.1 2 0.4 2 1 1.6 1.3 1.1 1.3 0.9 1.6 0.6 1.6 0.3 2 -0.1 2 -0.4 1.6 -0.7 1.6 -1.7 2.3 -2 1.5 -4 1.7 -0.8 0.7 -0.5 1 -0.5 3.2 -0.7 1.2 -1.1 0.8z" fill="#000" fill-opacity="0.07" stroke="none"/>
<path d="M371.9 277l-1.2 0.3 -1.2 -0.4 -0.8 -0.6 -3.6 -3.6 -0.7 -1 -0.5 -1.2 -0.2 -1.2 0 -1.6 0.5 -1.6 1.3 -3.3 1.1 -4.3 0.7 -1.6 1.1 -1.6 1.9 -1.6 2 -1 2 -0.4 2.4 0.2 1.6 0.4 1.6 0.9 1.3 1.1 1 1.2 0.9 1.6 0.4 1.6 0.2 1.6 -0.1 1.6 -0.3 1.2 -0.7 1.6 -0.8 1.2 -1.1 1.1 -2 1.3 -3.6 1.3 -1.2 0.8 -0.5 1.1 -0.2 3.2 -0.5 1 -0.8 0.7z" fill="#000" fill-opacity="0.07" stroke="none"/>
<path d="M371.1 275.9l-0.8 0 -0.8 -0.5 -3.9 -4.1 -0.5 -0.8 -0.3 -1.2 0.2 -2 1.3 -3.6 1.2 -5.2 0.6 -1.2 1 -1.4 1.6 -1.4 2 -1 2 -0.3 2.4 0.3 2.4 1.1 1.2 1 1 1.3 0.7 1.6 0.3 1.2 0.1 1.6 -0.2 1.6 -1.1 2.4 -0.8 1.1 -1.1 0.9 -2.1 1.2 -3.6 1.1 -1.2 0.8 -0.6 1.3 0.1 2.4 -0.2 0.8 -0.5 0.8 -0.4 0.2z" fill="#000" fill-opacity="0.07" stroke="none"/>
<path d="M369.9 271.3l-0.8 0.4 -0.8 -0.2 -0.8 -0.4 -0.9 -1 -0.4 -1.2 0.1 -1.6 1.1 -3.2 0.6 -4 0.7 -2 0.7 -1.2 0.9 -1 1.2 -0.9 1.2 -0.6 1.2 -0.3 1.6 0 2.4 0.6 1.2 0.7 1.2 1.1 0.8 1.2 0.5 1.2 0.3 1.2 0 1.6 -0.7 2.4 -1.1 1.6 -1.4 1.2 -2 0.9 -4.4 1.1 -1.1 0.8 -1.3 1.6z" fill="#000" fill-opacity="0.07" stroke="none"/>
<path d="M370.3 267.7l-1.2 0 -0.3 -0.4 -0.1 -0.8 0.1 -5.6 0.3 -1.6 0.8 -1.6 1.6 -1.6 1.2 -0.7 1.2 -0.4 2.4 0.1 2 0.8 1.2 1 0.6 0.8 0.8 2 0.1 2.4 -0.4 1.2 -0.7 1.2 -1.2 1.3 -2 1.1 -1.6 0.3 -4.8 0.5z" fill="#000" fill-opacity="0.07" stroke="none"/>
<path d="M375.9 266.1l-2.4 0.2 -2 -0.5 -0.8 -0.5 -0.4 -0.6 -0.5 -1.8 0 -2.4 0.3 -1.2 0.6 -1.1 1.6 -1.6 2 -0.7 2 0.1 1.6 0.8 1.3 1.3 0.8 2 0 2 -0.9 2 -1.3 1.2 -1.9 0.8z" fill="#000" fill-opacity="0.07" stroke="none"/>
<path d="M376.3 264.9l-1.6 0.3 -1.8 -0.3 -1.2 -0.8 -0.7 -1.2 -0.2 -1.6 0.3 -1.6 1 -1.6 1.4 -0.9 1.6 -0.3 1.6 0.4 1.2 0.8 1 1.6 0.2 1.6 -0.5 1.6 -0.9 1.2 -1.4 0.8z" fill="#000" fill-opacity="0.07" stroke="none"/>
<path d="M375.9 263.7l-1.2 0.2 -1.2 -0.3 -0.8 -0.6 -0.5 -0.9 -0.1 -1.2 0.2 -0.9 0.8 -1.1 0.8 -0.5 1.2 -0.2 1.2 0.3 0.8 0.6 0.6 1 0.1 1.2 -0.3 1 -0.8 1 -0.8 0.4z" fill="#000" fill-opacity="0.07" stroke="none"/>
<path d="M372.3 279.4l-2 0.2 -1.6 -0.5 -1.2 -0.7 -4.1 -3.5 -1.2 -1.6 -0.9 -2 -0.3 -2 0.2 -2 0.5 -2 1.4 -3.6 1.3 -4.4 1 -2 1.3 -1.7 2.4 -2.1 2.4 -1.1 2.4 -0.5 2.8 0.1 2.4 0.6 1.6 0.8 2 1.5 1.4 1.6 0.9 1.6 0.8 2 0.3 2 0 2.4 -0.8 2.8 -0.8 1.6 -0.9 1.2 -1.2 1.2 -1.3 1 -4 2 -0.8 0.6 -0.5 0.8 -0.6 2.4 -0.5 1.2 -0.9 1.2 -1.5 0.9z" fill="none" stroke="#333" stroke-width="0.5"/>
<path d="M372.3 278.1l-1.6 0.4 -1.6 -0.5 -1.2 -0.9 -3.6 -3.3 -0.9 -1.3 -0.7 -1.6 -0.3 -1.6 0.1 -1.6 0.5 -2 1.3 -3.2 1.4 -4.8 0.8 -1.6 1 -1.5 1.6 -1.5 2.4 -1.3 2.4 -0.6 2.4 0.1 2 0.4 2 1 1.6 1.3 1.1 1.3 0.9 1.6 0.6 1.6 0.3 2 -0.1 2 -0.4 1.6 -0.7 1.6 -1.7 2.3 -2 1.5 -4 1.7 -0.8 0.7 -0.5 1 -0.5 3.2 -0.7 1.2 -1.1 0.8z" fill="none" stroke="#333" stroke-width="0.5"/>
<path d="M371.9 277l-1.2 0.3 -1.2 -0.4 -0.8 -0.6 -3.6 -3.6 -0.7 -1 -0.5 -1.2 -0.2 -1.2 0 -1.6 0.5 -1.6 1.3 -3.3 1.1 -4.3 0.7 -1.6 1.1 -1.6 1.9 -1.6 2 -1 2 -0.4 2.4 0.2 1.6 0.4 1.6 0.9 1.3 1.1 1 1.2 0.9 1.6 0.4 1.6 0.2 1.6 -0.1 1.6 -0.3 1.2 -0.7 1.6 -0.8 1.2 -1.1 1.1 -2 1.3 -3.6 1.3 -1.2 0.8 -0.5 1.1 -0.2 3.2 -0.5 1 -0.8 0.7z" fill="none" stroke="#333" stroke-width="0.5"/>
<path d="M371.1 275.9l-0.8 0 -0.8 -0.5 -3.9 -4.1 -0.5 -0.8 -0.3 -1.2 0.2 -2 1.3 -3.6 1.2 -5.2 0.6 -1.2 1 -1.4 1.6 -1.4 2 -1 2 -0.3 2.4 0.3 2.4 1.1 1.2 1 1 1.3 0.7 1.6 0.3 1.2 0.1 1.6 -0.2 1.6 -1.1 2.4 -0.8 1.1 -1.1 0.9 -2.1 1.2 -3.6 1.1 -1.2 0.8 -0.6 1.3 0.1 2.4 -0.2 0.8 -0.5 0.8 -0.4 0.2z" fill="none" stroke="#333" stroke-width="0.5"/>
<path d="M369.9 271.3l-0.8 0.4 -0.8 -0.2 -0.8 -0.4 -0.9 -1 -0.4 -1.2 0.1 -1.6 1.1 -3.2 0.6 -4 0.7 -2 0.7 -1.2 0.9 -1 1.2 -0.9 1.2 -0.6 1.2 -0.3 1.6 0 2.4 0.6 1.2 0.7 1.2 1.1 0.8 1.2 0.5 1.2 0.3 1.2 0 1.6 -0.7 2.4 -1.1 1.6 -1.4 1.2 -2 0.9 -4.4 1.1 -1.1 0.8 -1.3 1.6z" fill="none" stroke="#333" stroke-width="0.5"/>
<path d="M370.3 267.7l-1.2 0 -0.3 -0.4 -0.1 -0.8 0.1 -5.6 0.3 -1.6 0.8 -1.6 1.6 -1.6 1.2 -0.7 1.2 -0.4 2.4 0.1 2 0.8 1.2 1 0.6 0.8 0.8 2 0.1 2.4 -0.4 1.2 -0.7 1.2 -1.2 1.3 -2 1.1 -1.6 0.3 -4.8 0.5z" fill="none" stroke="#333" stroke-width="0.5"/>
<path d="M375.9 266.1l-2.4 0.2 -2 -0.5 -0.8 -0.5 -0.4 -0.6 -0.5 -1.8 0 -2.4 0.3 -1.2 0.6 -1.1 1.6 -1.6 2 -0.7 2 0.1 1.6 0.8 1.3 1.3 0.8 2 0 2 -0.9 2 -1.3 1.2 -1.9 0.8z" fill="none" stroke="#333" stroke-width="0.5"/>
<path d="M376.3 264.9l-1.6 0.3 -1.8 -0.3 -1.2 -0.8 -0.7 -1.2 -0.2 -1.6 0.3 -1.6 1 -1.6 1.4 -0.9 1.6 -0.3 1.6 0.4 1.2 0.8 1 1.6 0.2 1.6 -0.5 1.6 -0.9 1.2 -1.4 0.8z" fill="none" stroke="#333" stroke-width="0.5"/>
<path d="M375.9 263.7l-1.2 0.2 -1.2 -0.3 -0.8 -0.6 -0.5 -0.9 -0.1 -1.2 0.2 -0.9 0.8 -1.1 0.8 -0.5 1.2 -0.2 1.2 0.3 0.8 0.6 0.6 1 0.1 1.2 -0.3 1 -0.8 1 -0.8 0.4z" fill="none" stroke="#333" stroke-width="0.5"/>
<path d="M375.9 263.7l-1.2 0.2 -1.2 -0.3 -0.8 -0.6 -0.5 -0.9 -0.1 -1.2 0.2 -0.9 0.8 -1.1 0.8 -0.5 1.2 -0.2 1.2 0.3 0.8 0.6 0.6 1 0.1 1.2 -0.3 1 -0.8 1 -0.8 0.4z" fill="#2a2a2a" stroke="none"/>
<path d="M372.3 268.1h.7M377.1 275.9h.7M373.5 261.7h.7M371.2 267.7h.7M379.3 286.5h.7M374.8 266.5h.7M375.8 268.2h.7M369.1 277.7h.7M370.5 276.8h.7M370.5 265.1h.7M374.6 273.1h.7M372.7 270.9h.7M377.0 299.5h.7" stroke="#9a9a9a" stroke-width="0.75"/>
<path d="M373.5 307.9l-0.8 0 -0.8 -0.6 -0.8 -1.4 -0.6 -1.8 -1.1 -6 -0.5 -7.2 0.3 -7.6 0.9 -6 0.7 -2.4 0.7 -1.6 0.8 -1 0.8 -0.3 0.8 0.5 0.6 0.8 0.7 1.6 0.6 2 0.8 4.8 0.4 7.2 -0.1 6.4 -0.8 6.4 -1.1 4 -0.7 1.3 -0.8 0.9z" fill="none" stroke="#333" stroke-width="0.5"/>
<path d="M373.5 301.4l-0.4 0.2 -0.4 -0.1 -0.4 -0.3 -0.9 -1.9 -0.7 -3.6 -0.3 -4.8 0.1 -4.8 0.6 -4.1 0.8 -2.5 0.4 -0.7 0.4 -0.3 0.4 -0.1 0.8 0.7 0.9 2.6 0.5 3.2 0.3 4.4 -0.1 4.4 -0.5 3.6 -0.7 2.8 -0.8 1.3z" fill="none" stroke="#333" stroke-width="0.5"/>
<path d="M373.1 296.8l-0.4 -0.2 -0.4 -0.6 -0.4 -1.3 -0.4 -4.6 0.4 -4.8 0.4 -1.3 0.4 -0.6 0.4 -0.2 0.4 0.5 0.6 1.6 0.3 2 0.1 2.8 -0.4 4.4 -0.5 1.6 -0.5 0.7z" fill="none" stroke="#333" stroke-width="0.5"/>
<path d="M342.9 285.1h.7M344.3 297.1h.7M335.2 281.5h.7M325.9 301.1h.7M322.1 281.2h.7M336.6 301.7h.7M349.9 286.5h.7M327.1 281.1h.7M336.0 301.8h.7M344.5 286.6h.7M347.7 294.7h.7M328.9 280.2h.7M326.6 280.4h.7M338.2 282.6h.7M342.1 285.2h.7M350.0 280.5h.7M349.5 291.3h.7M351.1 282.9h.7M326.7 277.2h.7M352.9 301.7h.7M327.5 281.7h.7M335.8 282.0h.7M347.8 295.6h.7M322.6 300.5h.7M340.4 298.9h.7M324.4 282.3h.7M334.4 281.3h.7M346.5 297.3h.7M342.2 281.0h.7M347.5 294.7h.7M341.5 283.9h.7M324.6 281.5h.7M327.6 278.8h.7M319.5 283.5h.7M320.8 300.5h.7M318.9 281.9h.7M338.0 282.3h.7M346.6 293.1h.7M348.9 294.6h.7" stroke="#9a9a9a" stroke-width="0.75"/>
<path d="M331.1 300.9l-4 0 -4.4 -0.6 -4 -1.3 -3.1 -1.7 -2.1 -2 -0.8 -1.2 -0.4 -1.2 -0.2 -1.2 0.1 -1.2 0.3 -1.2 0.7 -1.2 1 -1.2 1.3 -1.1 3.2 -1.8 4 -1.3 4 -0.6 4.4 0 4.4 0.6 3.6 1.2 2 1 1.6 1 2.1 2.2 0.7 1.2 0.3 1.2 0.1 1.2 -0.2 1.2 -0.4 1.2 -0.8 1.2 -2.2 2.1 -3.2 1.7 -4 1.3 -4 0.5z" fill="none" stroke="#333" stroke-width="0.55"/>
<path d="M330.3 297.7l-2.8 0 -2.8 -0.4 -2.4 -0.8 -2.2 -1.2 -1.3 -1.2 -0.8 -1.6 -0.1 -1.6 0.6 -1.6 1.6 -1.6 2.2 -1.2 2.8 -0.9 2.8 -0.3 3.2 0 2.8 0.6 2.4 0.9 2 1.2 1.2 1.3 0.6 1.6 -0.1 1.6 -0.8 1.6 -1.7 1.5 -2 1 -2.4 0.7 -2.8 0.4z" fill="none" stroke="#333" stroke-width="0.55"/>
<path d="M330.7 295.3l-2 0.1 -1.6 -0.1 -1.6 -0.4 -1.8 -0.8 -0.9 -0.8 -0.7 -1.2 0 -1.2 0.3 -0.8 0.8 -0.8 1.3 -0.8 1.4 -0.5 2 -0.4 2 0 1.6 0.2 1.6 0.5 1.2 0.6 0.9 0.8 0.6 0.8 0.2 1.2 -0.2 0.8 -0.7 0.9 -1.2 0.9 -1.4 0.6 -1.8 0.4z" fill="none" stroke="#333" stroke-width="0.55"/>
<path d="M329.9 292.9l-1.6 0 -1.3 -0.4 -0.7 -0.8 0.3 -0.8 0.9 -0.6 1.2 -0.3 1.2 0.1 1.1 0.4 0.5 0.5 0.1 0.7 -0.6 0.8 -1.1 0.4z" fill="none" stroke="#333" stroke-width="0.55"/>
</g>
<rect x="315.50" y="218.50" width="84.70" height="85.20" fill="none" stroke="#444" stroke-width="0.9"/>
<line x1="343.40" y1="218.50" x2="343.40" y2="303.70" stroke="#444" stroke-width="0.9" />
<line x1="315.50" y1="278.20" x2="400.20" y2="278.20" stroke="#444" stroke-width="0.9" />
<line x1="315.50" y1="218.50" x2="315.50" y2="303.70" stroke="#222" stroke-width="1.1" />
<line x1="315.50" y1="303.70" x2="400.20" y2="303.70" stroke="#222" stroke-width="1.1" />
<path d="M311.9 284.7H315.5M313.3 278.9H315.5M313.3 275.5H315.5M313.3 273.1H315.5M313.3 271.2H315.5M313.3 269.7H315.5M313.3 268.4H315.5M313.3 267.3H315.5M313.3 266.3H315.5M311.9 265.4H315.5M313.3 259.6H315.5M313.3 256.2H315.5M313.3 253.8H315.5M313.3 251.9H315.5M313.3 250.4H315.5M313.3 249.1H315.5M313.3 248.0H315.5M313.3 247.0H315.5M311.9 246.1H315.5M313.3 240.3H315.5M313.3 236.9H315.5M313.3 234.5H315.5M313.3 232.6H315.5M313.3 231.1H315.5M313.3 229.8H315.5M313.3 228.7H315.5M313.3 227.7H315.5M311.9 226.8H315.5M311.9 294.5H315.5M313.3 289.5H315.5M313.3 299.5H315.5M331.1 303.7V307.3M337.1 303.7V305.9M340.6 303.7V305.9M343.1 303.7V305.9M345.1 303.7V305.9M346.6 303.7V305.9M348.0 303.7V305.9M349.1 303.7V305.9M350.2 303.7V305.9M351.1 303.7V307.3M357.1 303.7V305.9M360.6 303.7V305.9M363.1 303.7V305.9M365.0 303.7V305.9M366.6 303.7V305.9M367.9 303.7V305.9M369.1 303.7V305.9M370.1 303.7V305.9M371.0 303.7V307.3M377.0 303.7V305.9M380.6 303.7V305.9M383.1 303.7V305.9M385.0 303.7V305.9M386.6 303.7V305.9M387.9 303.7V305.9M389.1 303.7V305.9M390.1 303.7V305.9M391.0 303.7V307.3M321.8 303.7V307.3M317.5 303.7V305.9M326.0 303.7V305.9" stroke="#000" stroke-width="1.0"/>
<text x="309.50" y="229.50" font-size="7.6" text-anchor="end" fill="#222" stroke="#222" stroke-width="0.2">10<tspan dy="-3.2" font-size="5.62">5</tspan></text>
<text x="309.50" y="249.00" font-size="7.6" text-anchor="end" fill="#222" stroke="#222" stroke-width="0.2">10<tspan dy="-3.2" font-size="5.62">4</tspan></text>
<text x="309.50" y="268.20" font-size="7.6" text-anchor="end" fill="#222" stroke="#222" stroke-width="0.2">10<tspan dy="-3.2" font-size="5.62">3</tspan></text>
<text x="309.50" y="287.40" font-size="7.6" text-anchor="end" fill="#222" stroke="#222" stroke-width="0.2">10<tspan dy="-3.2" font-size="5.62">2</tspan></text>
<text x="309.50" y="297.20" font-size="7.6" text-anchor="end" fill="#222" font-weight="normal" font-style="normal" stroke="#222" stroke-width="0.1" >0</text>
<text x="323.30" y="317.50" font-size="7.6" text-anchor="middle" fill="#222" font-weight="normal" font-style="normal" stroke="#222" stroke-width="0.1" >0</text>
<text x="332.70" y="317.50" font-size="7.6" text-anchor="middle" fill="#222" stroke="#222" stroke-width="0.2">10<tspan dy="-3.2" font-size="5.62">2</tspan></text>
<text x="353.30" y="317.50" font-size="7.6" text-anchor="middle" fill="#222" stroke="#222" stroke-width="0.2">10<tspan dy="-3.2" font-size="5.62">3</tspan></text>
<text x="373.60" y="317.50" font-size="7.6" text-anchor="middle" fill="#222" stroke="#222" stroke-width="0.2">10<tspan dy="-3.2" font-size="5.62">4</tspan></text>
<text x="392.70" y="317.50" font-size="7.6" text-anchor="middle" fill="#222" stroke="#222" stroke-width="0.2">10<tspan dy="-3.2" font-size="5.62">5</tspan></text>
<text x="319.30" y="226.60" font-size="6.8" text-anchor="start" fill="#111" font-weight="normal" font-style="normal" stroke="#111" stroke-width="0.1" letter-spacing="0.25">9.64</text>
<text x="397.80" y="226.60" font-size="6.8" text-anchor="end" fill="#111" font-weight="normal" font-style="normal" stroke="#111" stroke-width="0.1" letter-spacing="0.25">80.8</text>
<text x="319.40" y="300.00" font-size="6.8" text-anchor="start" fill="#111" font-weight="normal" font-style="normal" stroke="#111" stroke-width="0.1" letter-spacing="0.25">4.99</text>
<text x="397.80" y="300.00" font-size="6.8" text-anchor="end" fill="#111" font-weight="normal" font-style="normal" stroke="#111" stroke-width="0.1" letter-spacing="0.25">4.53</text>
<text x="357.50" y="212.80" font-size="8.5" text-anchor="middle" fill="#7db060" font-weight="normal" font-style="italic" stroke="#7db060" stroke-width="0.1" >Donor CD4+</text>
<clipPath id="cD2"><rect x="427.1" y="218.3" width="85.89999999999998" height="85.30000000000001"/></clipPath>
<g clip-path="url(#cD2)">
<path d="M480.3 273.2h.7M468.4 251.8h.7M451.1 281.3h.7M462.2 284.6h.7M449.0 271.3h.7M451.1 284.7h.7M461.5 240.3h.7M466.4 286.7h.7M468.8 281.1h.7M473.6 290.7h.7M454.4 292.8h.7M447.0 299.9h.7M458.2 293.8h.7M460.4 248.0h.7M431.6 288.8h.7M454.7 233.2h.7M439.7 299.1h.7M460.5 236.8h.7M454.1 240.4h.7M453.6 254.0h.7M464.0 289.4h.7M436.9 298.5h.7M446.3 241.0h.7M463.5 236.4h.7M458.1 290.7h.7M474.7 269.6h.7M453.5 281.3h.7M451.4 295.6h.7M471.9 246.7h.7M451.2 286.4h.7M440.6 286.9h.7M485.0 286.7h.7M468.2 244.8h.7M464.3 289.1h.7M453.5 244.1h.7M462.1 251.7h.7M447.9 276.4h.7M435.5 279.2h.7M455.8 292.9h.7M455.2 295.1h.7M452.8 242.1h.7M464.3 244.5h.7M454.4 291.6h.7M463.7 294.2h.7M453.4 282.4h.7M472.8 248.3h.7M450.3 238.0h.7M468.9 240.2h.7M461.2 278.7h.7M454.0 281.9h.7M462.1 289.4h.7M459.6 278.5h.7M457.0 274.0h.7M444.7 284.0h.7M459.3 287.0h.7M470.4 237.4h.7M444.4 287.2h.7M440.6 248.7h.7M472.5 282.3h.7M451.5 247.6h.7M463.8 257.6h.7M451.0 275.1h.7M455.0 293.3h.7M456.6 283.4h.7M464.9 240.9h.7M463.7 241.6h.7M474.6 248.4h.7M440.9 247.0h.7M463.6 236.2h.7M450.3 293.5h.7M461.7 286.5h.7M470.3 290.4h.7M463.3 287.3h.7M465.1 297.6h.7M448.7 250.3h.7M469.9 276.9h.7M471.2 286.3h.7M459.9 284.3h.7M446.5 241.1h.7M456.8 237.9h.7M470.9 288.5h.7M457.5 245.1h.7M476.9 240.1h.7M431.3 251.3h.7M441.5 296.1h.7M453.6 297.9h.7M448.3 232.5h.7M470.4 239.6h.7M473.8 285.1h.7M471.7 279.5h.7M444.0 276.7h.7M459.0 279.0h.7M450.9 285.8h.7M471.1 288.5h.7M473.4 296.6h.7M468.7 246.1h.7M431.3 235.7h.7M435.5 244.8h.7M462.1 293.9h.7M466.6 290.5h.7M437.0 296.9h.7M450.6 241.4h.7M471.7 286.5h.7M466.8 248.4h.7M452.1 243.1h.7M474.6 281.7h.7M475.5 240.7h.7M457.6 290.9h.7M449.5 289.1h.7M467.3 240.0h.7M471.7 298.5h.7M450.3 283.1h.7M458.2 242.9h.7M450.0 232.8h.7M453.4 301.5h.7M459.3 284.4h.7M460.8 290.7h.7M475.5 292.6h.7M469.1 286.2h.7M456.7 243.6h.7M452.0 237.4h.7M458.7 290.8h.7M466.3 292.2h.7M470.1 287.9h.7M459.5 246.8h.7M453.9 240.8h.7M462.2 291.3h.7M461.9 299.5h.7M441.8 249.5h.7M464.6 293.8h.7M447.2 285.4h.7M460.2 269.3h.7M462.1 249.1h.7M472.5 247.7h.7M467.2 295.9h.7M458.8 242.2h.7M465.8 291.3h.7M462.4 287.0h.7M449.7 284.5h.7M461.0 288.9h.7M477.0 248.1h.7M461.4 243.2h.7M470.3 238.0h.7M462.2 292.2h.7M468.5 288.3h.7M460.2 300.6h.7M451.8 248.0h.7M462.5 291.4h.7M493.1 236.4h.7M440.0 246.5h.7M456.6 291.2h.7M429.6 286.1h.7M469.4 245.0h.7M462.4 290.1h.7M458.3 297.8h.7M472.2 280.8h.7M444.1 272.2h.7M447.5 243.2h.7M471.9 281.9h.7M471.2 274.8h.7M463.2 294.0h.7M466.6 240.6h.7M461.2 283.0h.7M454.2 295.1h.7M453.7 263.0h.7M459.3 240.7h.7M459.2 244.9h.7M486.8 285.2h.7M470.3 258.9h.7M453.6 255.9h.7M466.4 286.3h.7M453.8 250.8h.7M478.0 290.4h.7M462.0 242.3h.7M458.7 286.0h.7M452.9 237.9h.7M468.2 234.4h.7M466.1 287.4h.7M454.1 277.4h.7M487.4 285.7h.7M466.3 247.4h.7M460.7 293.5h.7M467.7 275.4h.7M455.2 278.5h.7M458.2 237.5h.7M437.2 295.4h.7M465.8 287.7h.7M438.1 290.4h.7M454.4 253.5h.7M447.5 287.7h.7M456.8 282.8h.7M454.3 253.0h.7M460.9 271.1h.7M444.2 297.2h.7M468.8 295.2h.7M447.0 251.1h.7M482.8 280.3h.7M486.7 252.0h.7M468.2 242.2h.7M445.5 293.1h.7M461.0 279.2h.7M467.3 244.0h.7M461.4 291.6h.7M476.6 251.8h.7M448.4 302.3h.7M454.0 297.5h.7M463.8 255.6h.7M470.4 289.0h.7M466.5 276.2h.7M457.5 275.3h.7M440.0 296.0h.7M456.3 293.9h.7M442.5 274.7h.7M471.2 290.7h.7M465.5 290.1h.7M451.7 243.7h.7M461.1 288.1h.7M444.8 299.9h.7M472.0 294.3h.7M478.1 278.7h.7M464.1 294.2h.7M454.0 269.8h.7M447.4 270.1h.7M460.2 294.8h.7M467.8 241.8h.7M484.8 286.5h.7M473.4 285.3h.7M466.2 251.7h.7M462.8 253.6h.7M453.2 285.3h.7M461.0 284.3h.7M469.8 283.0h.7M471.0 289.9h.7M469.6 279.0h.7M474.0 289.8h.7M448.9 279.6h.7M451.6 292.8h.7M455.4 282.4h.7M473.8 279.5h.7M468.1 289.3h.7M466.5 239.7h.7M474.2 293.9h.7M478.7 284.6h.7M458.6 295.5h.7M444.1 286.7h.7M471.5 240.5h.7M461.7 236.3h.7M434.4 245.4h.7M472.4 288.0h.7M445.0 302.9h.7M460.6 277.2h.7M468.6 296.8h.7M450.1 296.5h.7M471.0 299.7h.7M463.4 272.5h.7M465.6 253.7h.7M453.6 242.1h.7M459.3 291.8h.7M454.0 240.5h.7M468.0 245.1h.7M455.0 294.2h.7M447.7 285.2h.7M442.2 284.5h.7M442.7 245.5h.7M455.8 286.2h.7M471.0 282.6h.7M445.1 243.8h.7M440.3 283.4h.7M467.9 242.1h.7M462.7 271.9h.7M452.0 290.2h.7M456.8 240.9h.7M487.5 257.7h.7M464.5 239.0h.7M462.5 240.5h.7M468.6 287.3h.7M438.6 246.3h.7M452.6 286.6h.7M449.3 297.3h.7M467.7 282.8h.7M432.2 294.6h.7M462.6 246.0h.7M474.0 293.2h.7M454.0 242.1h.7M447.8 249.5h.7M466.2 263.1h.7M474.9 245.5h.7M459.1 236.0h.7M461.4 272.4h.7M447.3 273.5h.7M466.2 283.9h.7M444.6 284.9h.7M437.5 287.9h.7M476.0 289.0h.7M459.7 299.1h.7M467.3 243.0h.7M471.8 231.2h.7M468.7 288.3h.7M468.0 285.1h.7M452.5 286.3h.7M442.0 296.8h.7M452.3 232.5h.7M443.2 288.2h.7M463.9 291.7h.7M463.7 241.1h.7M458.8 253.0h.7M461.2 298.1h.7M446.1 249.8h.7M446.7 291.0h.7M454.9 303.1h.7M449.4 282.0h.7M486.0 240.9h.7M444.9 244.3h.7M464.9 245.0h.7M447.8 286.9h.7M466.1 278.4h.7M471.4 280.9h.7M472.7 299.1h.7M474.1 279.5h.7M456.9 242.3h.7M465.0 290.5h.7M466.0 244.6h.7M469.9 278.3h.7M454.9 296.9h.7M441.2 241.2h.7M460.8 286.3h.7M465.8 290.0h.7M449.3 284.3h.7M473.9 283.0h.7M457.7 290.2h.7M456.6 247.3h.7M444.5 250.7h.7M457.0 243.1h.7M455.2 283.3h.7M461.0 270.5h.7M461.2 297.3h.7M473.3 241.4h.7M453.0 244.8h.7M452.9 234.7h.7M435.0 251.3h.7M449.5 242.5h.7M446.5 256.4h.7M459.3 244.6h.7M472.7 240.1h.7M466.3 243.2h.7M477.0 245.0h.7M454.1 301.2h.7M430.0 258.3h.7M463.4 291.4h.7M467.7 297.2h.7M475.1 288.1h.7M464.3 242.9h.7M460.4 293.2h.7M483.2 300.6h.7M466.4 278.3h.7M452.8 283.5h.7M468.9 240.9h.7M444.4 287.0h.7M466.8 293.1h.7M467.0 285.5h.7M469.9 293.3h.7M456.3 300.9h.7M443.9 244.0h.7M464.0 240.7h.7M441.7 302.5h.7M446.2 280.3h.7M470.8 279.2h.7M468.4 242.3h.7M431.0 274.4h.7M448.2 239.9h.7M443.7 299.7h.7M457.5 239.4h.7M466.8 252.7h.7M451.8 233.9h.7M473.1 271.9h.7M455.7 252.9h.7M455.9 285.5h.7M476.7 294.5h.7M471.7 235.1h.7M456.7 242.2h.7M447.9 240.0h.7M468.7 288.3h.7M475.9 295.0h.7M458.8 276.6h.7M444.2 253.5h.7M455.9 248.7h.7M464.8 293.9h.7M464.5 285.7h.7M468.7 291.5h.7M454.4 286.3h.7M436.6 238.7h.7M455.5 279.9h.7M459.5 245.5h.7M467.3 247.4h.7M464.6 288.5h.7M437.1 257.8h.7M442.8 293.1h.7M448.1 283.2h.7M471.3 251.0h.7M440.9 288.4h.7M469.6 282.6h.7M469.9 278.4h.7M465.3 238.6h.7M466.7 295.2h.7M466.5 245.7h.7M485.8 279.6h.7M460.1 281.5h.7M454.4 292.5h.7M468.8 288.1h.7M479.1 280.3h.7M473.5 278.5h.7M475.9 297.0h.7M467.1 278.9h.7M451.9 248.6h.7M442.2 289.7h.7M475.0 296.6h.7M472.3 289.0h.7M473.8 295.8h.7M471.4 289.5h.7M448.5 295.5h.7M459.2 248.8h.7M442.6 253.6h.7M464.3 280.8h.7M470.5 294.3h.7M480.5 286.3h.7M467.2 238.3h.7M473.2 282.6h.7M467.7 247.6h.7M463.5 275.3h.7M467.4 295.0h.7M464.8 251.9h.7M463.6 243.7h.7M444.8 280.2h.7M450.8 236.4h.7M471.7 243.2h.7M464.2 245.6h.7M447.1 292.8h.7M461.2 238.0h.7M453.7 270.4h.7M479.6 282.9h.7M465.7 245.6h.7M458.0 279.5h.7M467.6 289.5h.7M470.3 287.0h.7M439.8 244.4h.7M437.4 239.8h.7M465.3 247.8h.7M467.9 243.4h.7M466.8 287.8h.7M454.4 293.5h.7M467.0 296.0h.7M453.1 247.3h.7M452.5 285.1h.7M459.9 290.6h.7M463.2 295.9h.7M453.7 297.8h.7M469.1 289.7h.7M449.1 247.3h.7M475.7 245.5h.7M463.1 247.3h.7M445.2 255.8h.7M481.9 233.9h.7M455.8 278.5h.7M432.0 241.3h.7M455.6 291.9h.7M440.8 291.7h.7M473.1 284.4h.7M470.0 294.5h.7M446.7 279.0h.7M447.4 290.7h.7M464.9 271.5h.7M444.6 288.5h.7M459.0 240.8h.7M451.9 241.1h.7M450.2 288.7h.7M448.1 290.1h.7M466.0 296.5h.7M451.3 290.6h.7M471.4 292.5h.7M462.9 240.3h.7M466.3 242.3h.7M455.2 249.6h.7M473.6 295.2h.7M453.6 279.3h.7M470.9 291.3h.7M442.9 238.0h.7M463.1 300.1h.7M478.6 286.4h.7M478.3 247.4h.7M456.8 248.6h.7M463.1 291.2h.7M466.9 293.8h.7M463.9 280.7h.7M452.0 281.6h.7M473.9 289.1h.7M434.9 247.6h.7M456.2 286.4h.7M458.4 281.9h.7M476.2 245.8h.7M464.6 284.6h.7M462.7 278.5h.7M482.2 287.0h.7M460.3 280.0h.7M454.6 285.8h.7M449.9 291.1h.7M463.3 302.3h.7M481.7 250.2h.7M453.0 283.2h.7M448.6 279.9h.7M456.0 291.0h.7M479.6 285.1h.7M468.2 290.4h.7M441.4 278.9h.7M455.8 243.3h.7M434.0 244.4h.7M471.0 302.1h.7M442.3 249.5h.7M450.0 286.9h.7M470.9 245.7h.7M459.7 289.1h.7M463.8 299.2h.7M464.4 274.0h.7M468.4 290.3h.7M454.3 258.8h.7M484.5 278.6h.7M480.3 281.0h.7M452.8 298.8h.7M466.1 279.3h.7M441.6 290.0h.7M460.5 298.3h.7M465.4 278.9h.7M480.7 282.6h.7M464.3 287.6h.7M464.7 273.3h.7M473.5 280.9h.7M443.5 246.0h.7M475.4 236.2h.7M467.1 246.3h.7M478.8 282.7h.7M454.0 293.8h.7M456.3 237.3h.7M444.4 248.5h.7M458.9 244.1h.7M449.4 281.2h.7M486.1 278.4h.7M459.9 277.1h.7M439.2 302.5h.7M489.5 295.4h.7M453.8 288.8h.7M449.3 279.0h.7M454.2 286.8h.7M481.2 288.4h.7M482.9 282.0h.7M447.6 282.1h.7M451.1 292.2h.7M466.7 287.9h.7M460.7 246.8h.7M441.9 240.7h.7M466.4 291.2h.7M448.1 243.2h.7M452.1 290.8h.7M466.0 287.6h.7M454.1 292.4h.7M467.1 232.4h.7M470.0 291.1h.7M466.4 299.1h.7M456.0 285.7h.7M457.6 283.3h.7M474.6 285.1h.7M470.2 237.9h.7M457.3 289.0h.7M469.5 297.7h.7M457.9 285.7h.7M466.5 290.5h.7M456.5 281.1h.7M458.0 248.9h.7M466.8 282.3h.7M443.5 294.5h.7M463.8 241.5h.7M477.4 291.8h.7M458.4 281.6h.7M450.9 291.5h.7M460.5 290.0h.7M453.5 243.4h.7M474.0 283.1h.7M475.6 258.8h.7M451.2 282.2h.7M457.5 286.6h.7M477.0 271.1h.7M463.3 282.4h.7M457.7 291.3h.7M452.6 242.4h.7M451.5 281.6h.7M462.9 288.6h.7M472.1 285.6h.7M467.4 294.3h.7M448.4 290.0h.7M451.2 288.0h.7M455.3 288.9h.7M456.5 287.4h.7M453.2 278.2h.7M467.4 292.7h.7M438.5 249.3h.7M463.8 285.1h.7M448.6 244.6h.7M470.4 295.9h.7M442.1 273.1h.7M486.6 238.9h.7M452.9 277.1h.7M436.0 291.3h.7M453.8 274.6h.7M460.3 276.3h.7M466.6 271.0h.7M465.6 244.4h.7M452.0 274.6h.7M473.8 289.5h.7M446.8 234.3h.7M452.7 241.6h.7M450.4 246.2h.7M463.9 278.1h.7M457.9 239.5h.7M466.5 280.6h.7M461.1 247.6h.7M448.5 292.0h.7M476.8 292.9h.7M462.9 294.9h.7M433.3 240.5h.7M436.6 282.7h.7M442.1 249.0h.7M443.2 281.7h.7M463.4 280.4h.7M466.3 289.3h.7M443.1 244.7h.7M446.2 282.0h.7M466.8 288.0h.7M451.1 249.6h.7M454.9 234.6h.7M465.3 240.0h.7M466.3 291.9h.7M466.0 241.9h.7M450.9 279.4h.7M450.6 293.4h.7M446.5 282.5h.7M474.4 244.6h.7M480.5 286.1h.7M454.5 256.5h.7M448.2 285.0h.7M466.7 289.2h.7M467.3 288.6h.7M466.2 289.3h.7M446.4 297.1h.7M480.6 251.4h.7M470.6 301.3h.7M435.6 250.4h.7M455.5 246.8h.7M454.4 232.4h.7M461.2 294.7h.7M446.3 292.9h.7M460.9 242.5h.7M474.5 245.3h.7M462.7 297.2h.7M451.3 282.3h.7M459.9 250.6h.7M460.8 247.8h.7M467.5 241.7h.7M477.2 250.6h.7M455.3 285.0h.7M446.2 278.4h.7M446.3 285.0h.7M468.3 300.5h.7M475.5 235.6h.7M460.0 292.7h.7M469.7 287.7h.7M461.6 294.6h.7M475.4 289.6h.7M453.2 251.1h.7M458.0 278.5h.7M464.3 281.6h.7M471.8 278.9h.7M473.5 296.5h.7M455.7 245.8h.7M455.1 280.0h.7M477.9 251.5h.7" stroke="#9a9a9a" stroke-width="0.75"/>
<path d="M442.5 250.1h.7M441.0 252.1h.7M454.3 245.9h.7M436.5 235.0h.7M431.0 235.7h.7M456.3 246.7h.7M451.1 249.9h.7M444.5 234.8h.7M428.0 236.2h.7M453.5 237.4h.7M461.3 244.2h.7M441.3 256.7h.7M447.7 234.7h.7M449.6 231.7h.7M438.0 234.8h.7M442.5 254.9h.7M435.8 250.3h.7M449.6 236.2h.7M454.7 241.6h.7M453.6 237.4h.7M428.2 252.1h.7M443.8 251.1h.7M428.5 251.1h.7M456.1 243.9h.7M429.7 235.6h.7" stroke="#9a9a9a" stroke-width="0.75"/>
<path d="M443.1 249.5l-4 0.3 -4 -0.1 -3.6 -0.5 -3.6 -1.2 -2.8 -1.5 -1.7 -1.8 -0.7 -1.6 0 -1.2 0.3 -0.8 0.7 -1.2 0.7 -0.8 2.7 -1.8 3.6 -1.3 4 -0.7 4.4 -0.1 4.4 0.4 3.6 1 3.2 1.5 2 1.6 1.2 1.8 0.2 0.8 0 1.2 -0.4 1.2 -0.4 0.8 -1.4 1.4 -2 1.2 -2.8 0.8 -3.6 0.6z" fill="none" stroke="#333" stroke-width="0.55"/>
<path d="M441.5 247.9l-3.2 0.2 -2.8 -0.1 -2.8 -0.5 -2.4 -0.8 -2 -1.1 -1.3 -1.3 -0.6 -1.2 0.1 -1.6 0.5 -0.8 0.9 -1 2.4 -1.4 3.2 -1 4 -0.4 4 0.3 3.6 0.8 2.8 1.3 2 1.8 0.7 1.2 0.2 1.2 -0.4 1.2 -1.1 1.2 -1.4 0.8 -1.6 0.6 -4.8 0.6z" fill="none" stroke="#333" stroke-width="0.55"/>
<path d="M443.1 246.3l-5.6 0.3 -2 -0.2 -2.2 -0.5 -1.8 -0.8 -1.1 -0.8 -0.8 -1.2 0 -1.2 0.8 -1.2 1.1 -0.8 1.6 -0.7 2 -0.5 2 -0.2 2.4 0 2 0.3 2 0.5 2 0.9 1.6 1 1 1.1 0.4 1.2 -0.6 1.2 -1.1 0.8 -1.7 0.5 -2 0.3z" fill="none" stroke="#333" stroke-width="0.55"/>
<path d="M444.3 244.7l-5.2 0.4 -3.2 -0.3 -1.2 -0.3 -1.1 -0.6 -0.7 -0.8 -0.2 -0.8 0.4 -0.8 0.5 -0.4 1.9 -0.8 2.4 -0.3 2.8 0.2 3.6 1.3 1.6 1.2 0.2 0.8 -0.2 0.4 -0.4 0.4 -1.2 0.4z" fill="none" stroke="#333" stroke-width="0.55"/>
<path d="M468.7 301.4h.7M478.6 275.5h.7M501.3 278.7h.7M497.1 299.5h.7M498.7 297.0h.7M485.1 271.7h.7M497.9 287.6h.7M499.0 297.4h.7M495.5 272.1h.7M499.9 292.3h.7M507.4 294.1h.7M479.2 271.8h.7M497.1 291.8h.7M500.5 269.9h.7M469.5 297.1h.7M497.8 287.3h.7M499.1 289.0h.7M498.4 283.1h.7M467.5 293.1h.7M499.1 300.2h.7M490.4 270.1h.7M471.1 280.7h.7M469.4 297.9h.7M476.0 278.0h.7M499.6 296.7h.7M467.0 291.8h.7M490.3 271.9h.7M474.5 272.9h.7M501.4 276.5h.7M498.5 295.5h.7M500.2 294.5h.7M483.5 269.5h.7M477.3 276.0h.7M480.0 273.6h.7M481.3 266.0h.7M494.1 273.2h.7M470.3 278.5h.7M497.0 272.9h.7M468.7 295.4h.7M497.5 295.8h.7M497.3 298.4h.7M467.1 283.1h.7M470.3 298.0h.7" stroke="#9a9a9a" stroke-width="0.75"/>
<path d="M486.7 304.3l-3.6 0.1 -3.6 -0.6 -3.6 -1.3 -2.8 -1.7 -2.5 -2.5 -1.9 -2.8 -1.3 -3.2 -0.4 -2.8 0.2 -2 0.6 -2 1.1 -2 1.5 -1.6 5.1 -3.6 3.6 -3.5 2 -1.6 2.8 -1.2 2.8 -0.4 2 0.2 2.4 0.7 2 0.9 1.9 1.3 1.3 1.2 1.1 1.6 0.7 1.6 0.3 2 -0.3 2.4 -1.4 5.2 -0.2 2 0.2 5.2 -0.3 1.6 -0.5 1.2 -1.5 2 -2.1 1.7 -2.8 1.3 -2.8 0.6z" fill="#000" fill-opacity="0.07" stroke="none"/>
<path d="M485.9 302.7l-2.8 0 -3.2 -0.6 -2.8 -1.2 -2.4 -1.5 -2.4 -2.3 -1.8 -2.8 -1.1 -2.8 -0.3 -2.4 0.2 -1.6 0.4 -1.2 1.4 -2.2 1.6 -1.6 3.6 -2.6 4 -4.1 1.6 -1.2 1.6 -0.8 1.6 -0.5 2 -0.1 1.6 0.2 2 0.6 1.6 0.8 1.6 1.3 1 1 0.9 1.6 0.5 1.6 0.1 1.6 -1.3 7.5 -0.4 6.1 -0.8 2.4 -1.2 1.7 -2 1.6 -2 0.9 -2.8 0.6z" fill="#000" fill-opacity="0.07" stroke="none"/>
<path d="M486.7 301.1l-2.4 0.2 -2.8 -0.4 -2.4 -0.9 -2.4 -1.4 -2.2 -1.9 -1.9 -2.4 -1.1 -2.4 -0.5 -2.4 0.3 -2 1 -2 1.2 -1.3 3.6 -2.9 3.6 -4.2 1.2 -1 1.6 -0.9 1.6 -0.5 1.6 -0.2 1.6 0.2 1.6 0.5 1.6 0.8 1.2 1 1.1 1.3 0.6 1.2 0.4 1.2 0.1 1.6 -1.5 11.6 -0.8 2.8 -1 1.6 -1.3 1.2 -1.6 1 -2 0.6z" fill="#000" fill-opacity="0.07" stroke="none"/>
<path d="M486.3 299.9l-2 0.2 -2.4 -0.4 -2 -0.8 -2.1 -1.4 -2.2 -2 -1.5 -2 -1 -2 -0.4 -2 0.3 -1.6 0.8 -1.6 1 -1.2 2.7 -2.5 3.9 -4.7 1.3 -1.1 1.2 -0.6 1.2 -0.4 1.6 -0.2 1.2 0.1 1.6 0.5 1.2 0.6 1.3 1.1 0.9 1.2 0.5 1.2 0.3 1.2 0.1 1.6 -1.3 9.2 -0.4 2 -0.6 1.6 -0.8 1.4 -1.2 1.2 -1.6 0.9 -1.6 0.5z" fill="#000" fill-opacity="0.07" stroke="none"/>
<path d="M485.5 298.7l-2 -0.1 -1.6 -0.4 -1.6 -0.8 -1.6 -1.2 -1.8 -1.9 -1.4 -2 -0.7 -1.6 -0.1 -1.6 0.3 -1.2 0.7 -1.2 2.6 -3.1 3.6 -4.8 1.2 -1 1.2 -0.6 1.2 -0.4 1.6 -0.1 1.2 0.2 1.2 0.5 1.2 0.9 0.8 0.8 0.7 1.2 0.4 1.2 0.1 3.2 -1 6.8 -1.1 3.6 -0.8 1.2 -1.1 1.2 -1.6 0.9 -1.6 0.3z" fill="#000" fill-opacity="0.07" stroke="none"/>
<path d="M486.3 297.2l-1.2 0.2 -1.6 -0.2 -1.3 -0.5 -1.5 -1 -1.5 -1.4 -1.4 -2 -0.7 -1.6 -0.2 -1.2 0.2 -1.2 0.7 -1.6 4.1 -6.4 1.2 -1.2 1.2 -0.8 1.2 -0.4 1.2 -0.1 1.2 0.2 1.2 0.5 1.5 1.4 0.9 2 0.3 2.4 -0.6 4.8 -1.2 4.4 -0.6 1.2 -0.9 1.2 -1 0.7 -1.2 0.6z" fill="#000" fill-opacity="0.07" stroke="none"/>
<path d="M486.3 295.5l-1.2 0.3 -1.2 -0.2 -1.2 -0.5 -1.1 -0.8 -1.1 -1.2 -0.7 -1.2 -0.6 -1.6 -0.2 -1.2 0.3 -1.6 0.5 -1.6 1.2 -2.4 1.3 -2 0.8 -1 1.2 -0.9 1.2 -0.5 1.2 -0.1 1.7 0.5 0.7 0.5 0.8 0.9 0.7 1.8 0.2 2.4 -0.5 3.9 -1 3.3 -1.4 2.2 -1.6 1z" fill="#000" fill-opacity="0.07" stroke="none"/>
<path d="M485.1 293.9l-1.6 -0.4 -1.6 -1.5 -1 -2.1 -0.1 -2 0.7 -2.8 1.6 -2.8 1.6 -1.4 0.8 -0.4 1.2 -0.1 0.8 0.2 0.8 0.5 0.9 1.2 0.5 2 -0.1 2.4 -0.5 2.8 -1.2 2.6 -1.2 1.3 -0.8 0.4 -0.8 0.1z" fill="#000" fill-opacity="0.07" stroke="none"/>
<path d="M485.5 291.6l-1.2 -0.1 -1.2 -1.1 -0.5 -1.3 -0.2 -1.6 0.4 -2 1.1 -2 1.2 -1.1 1.2 -0.3 0.8 0.2 0.8 0.8 0.5 1.2 0 2 -0.4 2 -0.6 1.6 -1 1.2 -0.9 0.5z" fill="#000" fill-opacity="0.07" stroke="none"/>
<path d="M486.7 304.3l-3.6 0.1 -3.6 -0.6 -3.6 -1.3 -2.8 -1.7 -2.5 -2.5 -1.9 -2.8 -1.3 -3.2 -0.4 -2.8 0.2 -2 0.6 -2 1.1 -2 1.5 -1.6 5.1 -3.6 3.6 -3.5 2 -1.6 2.8 -1.2 2.8 -0.4 2 0.2 2.4 0.7 2 0.9 1.9 1.3 1.3 1.2 1.1 1.6 0.7 1.6 0.3 2 -0.3 2.4 -1.4 5.2 -0.2 2 0.2 5.2 -0.3 1.6 -0.5 1.2 -1.5 2 -2.1 1.7 -2.8 1.3 -2.8 0.6z" fill="none" stroke="#333" stroke-width="0.5"/>
<path d="M485.9 302.7l-2.8 0 -3.2 -0.6 -2.8 -1.2 -2.4 -1.5 -2.4 -2.3 -1.8 -2.8 -1.1 -2.8 -0.3 -2.4 0.2 -1.6 0.4 -1.2 1.4 -2.2 1.6 -1.6 3.6 -2.6 4 -4.1 1.6 -1.2 1.6 -0.8 1.6 -0.5 2 -0.1 1.6 0.2 2 0.6 1.6 0.8 1.6 1.3 1 1 0.9 1.6 0.5 1.6 0.1 1.6 -1.3 7.5 -0.4 6.1 -0.8 2.4 -1.2 1.7 -2 1.6 -2 0.9 -2.8 0.6z" fill="none" stroke="#333" stroke-width="0.5"/>
<path d="M486.7 301.1l-2.4 0.2 -2.8 -0.4 -2.4 -0.9 -2.4 -1.4 -2.2 -1.9 -1.9 -2.4 -1.1 -2.4 -0.5 -2.4 0.3 -2 1 -2 1.2 -1.3 3.6 -2.9 3.6 -4.2 1.2 -1 1.6 -0.9 1.6 -0.5 1.6 -0.2 1.6 0.2 1.6 0.5 1.6 0.8 1.2 1 1.1 1.3 0.6 1.2 0.4 1.2 0.1 1.6 -1.5 11.6 -0.8 2.8 -1 1.6 -1.3 1.2 -1.6 1 -2 0.6z" fill="none" stroke="#333" stroke-width="0.5"/>
<path d="M486.3 299.9l-2 0.2 -2.4 -0.4 -2 -0.8 -2.1 -1.4 -2.2 -2 -1.5 -2 -1 -2 -0.4 -2 0.3 -1.6 0.8 -1.6 1 -1.2 2.7 -2.5 3.9 -4.7 1.3 -1.1 1.2 -0.6 1.2 -0.4 1.6 -0.2 1.2 0.1 1.6 0.5 1.2 0.6 1.3 1.1 0.9 1.2 0.5 1.2 0.3 1.2 0.1 1.6 -1.3 9.2 -0.4 2 -0.6 1.6 -0.8 1.4 -1.2 1.2 -1.6 0.9 -1.6 0.5z" fill="none" stroke="#333" stroke-width="0.5"/>
<path d="M485.5 298.7l-2 -0.1 -1.6 -0.4 -1.6 -0.8 -1.6 -1.2 -1.8 -1.9 -1.4 -2 -0.7 -1.6 -0.1 -1.6 0.3 -1.2 0.7 -1.2 2.6 -3.1 3.6 -4.8 1.2 -1 1.2 -0.6 1.2 -0.4 1.6 -0.1 1.2 0.2 1.2 0.5 1.2 0.9 0.8 0.8 0.7 1.2 0.4 1.2 0.1 3.2 -1 6.8 -1.1 3.6 -0.8 1.2 -1.1 1.2 -1.6 0.9 -1.6 0.3z" fill="none" stroke="#333" stroke-width="0.5"/>
<path d="M486.3 297.2l-1.2 0.2 -1.6 -0.2 -1.3 -0.5 -1.5 -1 -1.5 -1.4 -1.4 -2 -0.7 -1.6 -0.2 -1.2 0.2 -1.2 0.7 -1.6 4.1 -6.4 1.2 -1.2 1.2 -0.8 1.2 -0.4 1.2 -0.1 1.2 0.2 1.2 0.5 1.5 1.4 0.9 2 0.3 2.4 -0.6 4.8 -1.2 4.4 -0.6 1.2 -0.9 1.2 -1 0.7 -1.2 0.6z" fill="none" stroke="#333" stroke-width="0.5"/>
<path d="M486.3 295.5l-1.2 0.3 -1.2 -0.2 -1.2 -0.5 -1.1 -0.8 -1.1 -1.2 -0.7 -1.2 -0.6 -1.6 -0.2 -1.2 0.3 -1.6 0.5 -1.6 1.2 -2.4 1.3 -2 0.8 -1 1.2 -0.9 1.2 -0.5 1.2 -0.1 1.7 0.5 0.7 0.5 0.8 0.9 0.7 1.8 0.2 2.4 -0.5 3.9 -1 3.3 -1.4 2.2 -1.6 1z" fill="none" stroke="#333" stroke-width="0.5"/>
<path d="M485.1 293.9l-1.6 -0.4 -1.6 -1.5 -1 -2.1 -0.1 -2 0.7 -2.8 1.6 -2.8 1.6 -1.4 0.8 -0.4 1.2 -0.1 0.8 0.2 0.8 0.5 0.9 1.2 0.5 2 -0.1 2.4 -0.5 2.8 -1.2 2.6 -1.2 1.3 -0.8 0.4 -0.8 0.1z" fill="none" stroke="#333" stroke-width="0.5"/>
<path d="M485.5 291.6l-1.2 -0.1 -1.2 -1.1 -0.5 -1.3 -0.2 -1.6 0.4 -2 1.1 -2 1.2 -1.1 1.2 -0.3 0.8 0.2 0.8 0.8 0.5 1.2 0 2 -0.4 2 -0.6 1.6 -1 1.2 -0.9 0.5z" fill="none" stroke="#333" stroke-width="0.5"/>
<path d="M485.1 293.9l-1.6 -0.4 -1.6 -1.5 -1 -2.1 -0.1 -2 0.7 -2.8 1.6 -2.8 1.6 -1.4 0.8 -0.4 1.2 -0.1 0.8 0.2 0.8 0.5 0.9 1.2 0.5 2 -0.1 2.4 -0.5 2.8 -1.2 2.6 -1.2 1.3 -0.8 0.4 -0.8 0.1z" fill="#1a1a1a" stroke="none"/>
<path d="M448.5 274.3h.7M449.0 297.1h.7M450.9 295.4h.7M435.2 268.6h.7M445.0 277.3h.7M451.3 294.1h.7M448.6 299.5h.7M446.7 279.0h.7M450.6 300.9h.7M450.8 294.2h.7M450.3 275.6h.7M447.2 279.7h.7M460.6 286.2h.7M456.9 284.3h.7M437.1 302.4h.7M437.0 274.4h.7M431.0 301.5h.7M451.9 295.2h.7M450.1 298.6h.7M456.8 291.6h.7M437.5 275.7h.7M453.5 283.4h.7M443.8 275.9h.7M432.9 271.8h.7M432.2 301.8h.7" stroke="#9a9a9a" stroke-width="0.75"/>
<path d="M439.1 302l-2.8 0.1 -2.8 -0.4 -2.8 -0.9 -2.4 -1.3 -2.1 -1.6 -1.7 -2 -1.3 -2.4 -0.7 -2.4 -0.1 -2.8 0.3 -2.4 1 -2.4 1.3 -2 1.7 -1.8 2 -1.5 2.4 -1.2 2.8 -0.8 2.8 -0.3 2.8 0.2 2.8 0.7 2.8 1.3 2.4 1.8 1.8 2 1.2 2 0.9 2.8 0.3 2.4 -0.4 2.8 -0.9 2.4 -1.5 2.4 -1.8 1.8 -2.4 1.6 -2.8 1.2 -2.8 0.7z" fill="none" stroke="#333" stroke-width="0.55"/>
<path d="M439.5 298.3l-2 0.3 -2 -0.1 -2 -0.4 -2 -0.8 -1.6 -1.1 -1.2 -1.1 -1.2 -1.6 -0.8 -1.6 -0.4 -1.6 0 -2 0.3 -1.6 0.8 -2 1.1 -1.6 1.3 -1.2 1.7 -1.1 1.6 -0.7 2 -0.5 2.4 -0.2 2.4 0.4 2 0.7 1.6 0.9 1.6 1.3 1.3 1.6 0.9 2 0.4 2 0 2 -0.6 2 -0.9 1.6 -1.3 1.6 -1.5 1.2 -1.9 1 -2 0.6z" fill="none" stroke="#333" stroke-width="0.55"/>
<path d="M437.1 295.9l-1.6 -0.1 -1.6 -0.5 -1.2 -0.6 -1.2 -0.8 -0.8 -0.9 -0.8 -1.3 -0.5 -1.4 -0.1 -1.2 0.1 -1.2 0.3 -1.2 0.6 -1.2 1 -1.2 1.4 -1 1.2 -0.6 2.8 -0.6 2.8 0.4 1.5 0.6 1.2 0.8 0.9 0.9 0.8 1.1 0.5 1.2 0.3 1.6 -0.1 1.6 -0.4 1.2 -0.7 1.2 -0.8 1 -1.2 0.9 -1.2 0.6 -1.6 0.5 -1.6 0.2z" fill="none" stroke="#333" stroke-width="0.55"/>
<path d="M437.1 293.5l-2 -0.3 -1.6 -0.9 -1.2 -1.6 -0.4 -1.6 0.3 -1.6 1.1 -1.6 1.4 -0.9 2 -0.5 2 0.3 1.6 0.8 1.3 1.5 0.4 1.6 -0.2 1.6 -0.3 0.8 -0.8 1 -1.6 1 -2 0.4z" fill="none" stroke="#333" stroke-width="0.55"/>
<path d="M438.3 290.7l-0.8 0.3 -0.8 0 -0.8 -0.2 -0.7 -0.5 -0.4 -0.8 -0.1 -0.8 0.7 -1.2 0.9 -0.5 0.8 -0.1 0.8 0.2 0.8 0.5 0.5 0.7 0.1 0.8 -0.2 0.8 -0.8 0.8z" fill="none" stroke="#333" stroke-width="0.55"/>
</g>
<rect x="427.10" y="218.30" width="85.90" height="85.30" fill="none" stroke="#444" stroke-width="0.9"/>
<line x1="453.20" y1="218.30" x2="453.20" y2="303.60" stroke="#444" stroke-width="0.9" />
<line x1="427.10" y1="264.20" x2="513.00" y2="264.20" stroke="#444" stroke-width="0.9" />
<line x1="427.10" y1="218.30" x2="427.10" y2="303.60" stroke="#222" stroke-width="1.1" />
<line x1="427.10" y1="303.60" x2="513.00" y2="303.60" stroke="#222" stroke-width="1.1" />
<path d="M423.5 284.5H427.1M424.9 278.7H427.1M424.9 275.3H427.1M424.9 272.9H427.1M424.9 271.0H427.1M424.9 269.5H427.1M424.9 268.2H427.1M424.9 267.1H427.1M424.9 266.1H427.1M423.5 265.2H427.1M424.9 259.4H427.1M424.9 256.0H427.1M424.9 253.6H427.1M424.9 251.7H427.1M424.9 250.2H427.1M424.9 248.9H427.1M424.9 247.8H427.1M424.9 246.8H427.1M423.5 245.9H427.1M424.9 240.1H427.1M424.9 236.7H427.1M424.9 234.3H427.1M424.9 232.4H427.1M424.9 230.9H427.1M424.9 229.6H427.1M424.9 228.5H427.1M424.9 227.5H427.1M423.5 226.6H427.1M423.5 294.3H427.1M424.9 289.3H427.1M424.9 299.3H427.1M442.7 303.6V307.2M448.7 303.6V305.8M452.2 303.6V305.8M454.7 303.6V305.8M456.7 303.6V305.8M458.2 303.6V305.8M459.6 303.6V305.8M460.7 303.6V305.8M461.8 303.6V305.8M462.7 303.6V307.2M468.7 303.6V305.8M472.2 303.6V305.8M474.7 303.6V305.8M476.6 303.6V305.8M478.2 303.6V305.8M479.5 303.6V305.8M480.7 303.6V305.8M481.7 303.6V305.8M482.6 303.6V307.2M488.6 303.6V305.8M492.2 303.6V305.8M494.7 303.6V305.8M496.6 303.6V305.8M498.2 303.6V305.8M499.5 303.6V305.8M500.7 303.6V305.8M501.7 303.6V305.8M502.6 303.6V307.2M433.4 303.6V307.2M429.1 303.6V305.8M437.6 303.6V305.8" stroke="#000" stroke-width="1.0"/>
<text x="421.10" y="229.30" font-size="7.6" text-anchor="end" fill="#222" stroke="#222" stroke-width="0.2">10<tspan dy="-3.2" font-size="5.62">5</tspan></text>
<text x="421.10" y="248.80" font-size="7.6" text-anchor="end" fill="#222" stroke="#222" stroke-width="0.2">10<tspan dy="-3.2" font-size="5.62">4</tspan></text>
<text x="421.10" y="268.00" font-size="7.6" text-anchor="end" fill="#222" stroke="#222" stroke-width="0.2">10<tspan dy="-3.2" font-size="5.62">3</tspan></text>
<text x="421.10" y="287.20" font-size="7.6" text-anchor="end" fill="#222" stroke="#222" stroke-width="0.2">10<tspan dy="-3.2" font-size="5.62">2</tspan></text>
<text x="421.10" y="297.00" font-size="7.6" text-anchor="end" fill="#222" font-weight="normal" font-style="normal" stroke="#222" stroke-width="0.1" >0</text>
<text x="434.90" y="317.40" font-size="7.6" text-anchor="middle" fill="#222" font-weight="normal" font-style="normal" stroke="#222" stroke-width="0.1" >0</text>
<text x="444.30" y="317.40" font-size="7.6" text-anchor="middle" fill="#222" stroke="#222" stroke-width="0.2">10<tspan dy="-3.2" font-size="5.62">2</tspan></text>
<text x="464.90" y="317.40" font-size="7.6" text-anchor="middle" fill="#222" stroke="#222" stroke-width="0.2">10<tspan dy="-3.2" font-size="5.62">3</tspan></text>
<text x="485.20" y="317.40" font-size="7.6" text-anchor="middle" fill="#222" stroke="#222" stroke-width="0.2">10<tspan dy="-3.2" font-size="5.62">4</tspan></text>
<text x="504.30" y="317.40" font-size="7.6" text-anchor="middle" fill="#222" stroke="#222" stroke-width="0.2">10<tspan dy="-3.2" font-size="5.62">5</tspan></text>
<text x="430.90" y="226.40" font-size="6.8" text-anchor="start" fill="#111" font-weight="normal" font-style="normal" stroke="#111" stroke-width="0.1" letter-spacing="0.25">4.51</text>
<text x="510.60" y="226.40" font-size="6.8" text-anchor="end" fill="#111" font-weight="normal" font-style="normal" stroke="#111" stroke-width="0.1" letter-spacing="0.25">0.72</text>
<text x="431.00" y="299.90" font-size="6.8" text-anchor="start" fill="#111" font-weight="normal" font-style="normal" stroke="#111" stroke-width="0.1" letter-spacing="0.25">10</text>
<text x="510.60" y="299.90" font-size="6.8" text-anchor="end" fill="#111" font-weight="normal" font-style="normal" stroke="#111" stroke-width="0.1" letter-spacing="0.25">84.8</text>
<text x="468.50" y="214.00" font-size="8.5" text-anchor="middle" fill="#9c2a5c" font-weight="normal" font-style="italic" stroke="#9c2a5c" stroke-width="0.1" >Donor CD8+</text>
<clipPath id="cD3"><rect x="315.8" y="343.7" width="84.80000000000001" height="85.30000000000001"/></clipPath>
<g clip-path="url(#cD3)">
<path d="M360.7 418.2h.7M351.4 385.4h.7M358.4 383.9h.7M350.7 382.8h.7M332.7 382.9h.7M338.8 382.2h.7M335.3 420.0h.7M347.1 405.9h.7M347.2 417.1h.7M365.5 385.9h.7M357.2 397.1h.7M360.1 426.6h.7M361.7 416.9h.7M357.5 412.4h.7M340.2 410.5h.7M372.8 424.2h.7M366.6 417.4h.7M361.3 384.4h.7M319.4 424.8h.7M339.2 425.0h.7M363.6 395.8h.7M344.5 381.0h.7M360.4 427.8h.7M340.8 406.7h.7M357.8 403.8h.7M339.1 411.5h.7M345.2 424.2h.7M336.8 426.0h.7M355.5 385.1h.7M349.6 379.9h.7M337.2 416.9h.7M361.6 382.4h.7M348.2 428.2h.7M366.9 422.6h.7M346.1 420.8h.7M346.1 380.3h.7M342.5 380.6h.7M341.9 425.4h.7M322.9 425.8h.7M375.2 421.1h.7M346.5 417.5h.7M343.0 421.9h.7M348.0 414.2h.7M346.7 407.6h.7M344.1 417.8h.7M346.4 415.7h.7M356.5 378.9h.7M353.9 395.5h.7M341.7 419.6h.7M332.0 417.5h.7M339.9 424.4h.7M357.6 401.4h.7M332.1 417.8h.7M365.1 405.0h.7M346.6 388.0h.7M357.4 417.1h.7M365.2 416.1h.7M333.4 406.2h.7M338.6 417.6h.7M344.1 379.4h.7M363.2 388.3h.7M364.4 393.7h.7M352.5 423.3h.7M362.2 424.6h.7M350.5 414.8h.7M368.1 419.4h.7M350.8 386.4h.7M366.1 427.8h.7M356.0 424.3h.7M346.5 383.3h.7M353.6 403.4h.7M374.3 419.9h.7M350.9 396.1h.7M351.6 391.7h.7M360.3 423.4h.7M356.8 410.2h.7M350.1 419.4h.7M325.7 413.0h.7M344.1 424.8h.7M336.6 384.2h.7M349.7 419.1h.7M355.9 410.6h.7M350.6 380.6h.7M346.0 411.4h.7M342.9 381.7h.7M359.5 387.1h.7M339.0 413.2h.7M348.1 380.5h.7M341.8 389.5h.7M349.3 422.3h.7M362.3 387.9h.7M350.8 388.7h.7M345.1 382.2h.7M346.6 390.4h.7M360.3 420.3h.7M331.9 424.7h.7M345.2 418.5h.7M368.6 425.4h.7M338.5 380.7h.7M339.3 368.9h.7M331.9 387.0h.7M372.5 425.1h.7M344.7 393.0h.7M349.3 385.7h.7M355.5 409.9h.7M354.8 378.5h.7M356.7 380.8h.7M333.7 415.0h.7M345.3 377.6h.7M365.7 416.6h.7M345.0 390.1h.7M359.8 420.9h.7M358.2 416.7h.7M353.8 415.4h.7M365.6 419.8h.7M349.8 381.8h.7M341.5 408.4h.7M337.1 409.0h.7M378.5 418.1h.7M354.3 394.9h.7M342.9 418.1h.7M335.8 377.9h.7M354.2 385.9h.7M351.0 422.7h.7M348.5 386.1h.7M339.6 379.6h.7M342.6 419.5h.7M354.1 390.2h.7M371.0 413.7h.7M345.7 390.7h.7M352.5 392.2h.7M366.0 417.5h.7M348.8 396.2h.7M387.9 413.9h.7M377.1 408.1h.7M343.6 373.1h.7M367.3 388.6h.7M353.6 413.8h.7M354.6 381.9h.7M349.8 424.6h.7M359.9 417.5h.7M344.8 418.2h.7M342.5 385.6h.7M346.1 388.7h.7M351.7 386.0h.7M371.7 421.8h.7M357.9 422.4h.7M357.3 418.0h.7M377.5 422.7h.7M331.2 387.1h.7M383.8 420.4h.7M363.5 424.1h.7M317.3 412.8h.7M369.8 412.5h.7M333.2 415.8h.7M347.5 425.0h.7M346.7 377.0h.7M337.0 410.6h.7M352.6 414.5h.7M339.6 389.5h.7M343.2 423.4h.7M356.1 415.6h.7M334.3 408.1h.7M362.3 386.5h.7M364.3 410.9h.7M345.2 381.0h.7M334.9 414.7h.7M341.7 417.2h.7M373.9 414.9h.7M358.0 416.8h.7M339.6 417.9h.7M358.6 371.7h.7M350.5 417.6h.7M319.8 415.4h.7M371.5 416.5h.7M347.8 424.0h.7M358.0 388.3h.7M344.2 415.6h.7M345.3 407.2h.7M342.0 406.0h.7M354.7 412.8h.7M359.1 398.6h.7M356.5 390.8h.7M346.0 411.0h.7M357.3 414.9h.7M346.9 383.7h.7M336.0 422.9h.7M371.8 411.1h.7M355.7 414.4h.7M332.6 413.8h.7M351.6 426.9h.7M341.8 410.4h.7M342.5 428.4h.7M349.5 379.7h.7M326.9 411.4h.7M318.5 419.1h.7M359.6 418.3h.7M340.7 420.8h.7M357.2 384.2h.7M333.5 412.1h.7M361.3 414.9h.7M346.8 383.5h.7M339.4 415.0h.7M337.6 420.7h.7M328.3 413.1h.7M350.3 420.5h.7M345.0 413.6h.7M337.5 419.0h.7M361.0 416.6h.7M343.3 416.2h.7M326.6 422.1h.7M338.5 415.4h.7M387.1 424.4h.7M377.0 422.7h.7M319.5 411.2h.7M351.7 391.2h.7M353.7 405.8h.7M357.2 394.6h.7M365.3 415.0h.7M351.4 395.1h.7M377.0 411.5h.7M352.6 412.6h.7M361.9 387.8h.7M356.7 411.6h.7M369.6 428.1h.7M349.9 383.8h.7M359.6 389.4h.7M352.9 376.7h.7M365.1 420.3h.7M357.3 384.0h.7M358.1 409.7h.7M347.2 426.0h.7M318.1 407.1h.7M361.1 397.0h.7M355.0 412.0h.7M352.8 421.3h.7M368.2 419.5h.7M343.4 385.2h.7M341.4 390.7h.7M365.3 411.2h.7M355.1 406.1h.7M366.5 382.0h.7M356.3 421.2h.7M355.6 418.6h.7M339.4 380.0h.7M382.8 417.2h.7M339.1 427.1h.7M358.6 384.3h.7M379.0 409.4h.7M351.0 415.0h.7M357.8 416.7h.7M328.0 382.4h.7M353.1 421.1h.7M360.8 413.1h.7M337.3 407.6h.7M328.3 418.4h.7M350.3 415.8h.7M328.9 417.9h.7M362.9 413.2h.7M350.0 400.6h.7M361.8 387.6h.7M350.3 420.5h.7M351.8 421.5h.7M356.3 393.1h.7M349.0 381.3h.7M343.4 410.4h.7M352.2 418.4h.7M322.0 411.4h.7M362.8 418.3h.7M331.8 417.9h.7M337.9 386.7h.7M333.5 416.4h.7M336.6 422.9h.7M355.9 376.8h.7M351.9 415.9h.7M335.6 408.4h.7M355.8 384.6h.7M341.0 418.8h.7M357.3 415.1h.7M351.6 428.2h.7M342.6 412.8h.7M374.8 398.7h.7M362.2 414.0h.7M339.9 383.0h.7M368.9 386.0h.7M345.7 396.2h.7M325.6 417.4h.7M369.7 414.1h.7M342.9 384.6h.7M338.4 413.9h.7M345.6 412.2h.7M334.2 383.2h.7M347.5 407.2h.7M353.4 388.2h.7M362.7 397.7h.7M366.7 419.3h.7M347.6 381.9h.7M334.9 417.4h.7M374.9 411.0h.7M375.1 420.8h.7M363.2 407.3h.7M349.8 392.0h.7M345.7 412.0h.7M333.6 427.5h.7M348.4 427.4h.7M362.2 390.4h.7M368.6 415.3h.7M353.5 387.0h.7M365.8 412.8h.7M352.7 410.3h.7M358.0 387.9h.7M355.1 407.1h.7M358.1 414.4h.7M363.7 419.9h.7M342.4 393.6h.7M367.8 388.8h.7M349.7 424.5h.7M372.3 427.0h.7M397.7 418.3h.7M339.0 422.0h.7M339.5 422.6h.7M327.7 417.5h.7M340.8 416.8h.7M350.1 381.2h.7M326.5 428.3h.7M357.0 394.2h.7M380.0 422.7h.7M354.5 385.7h.7M350.3 419.7h.7M355.5 419.4h.7M358.0 380.5h.7M358.6 386.1h.7M345.8 380.4h.7M359.1 419.2h.7M348.2 377.2h.7M343.8 421.7h.7M361.3 388.3h.7M338.2 419.2h.7M334.1 417.2h.7M334.3 411.3h.7M363.0 414.3h.7M329.6 418.1h.7M388.3 421.6h.7M375.7 414.3h.7M357.0 421.5h.7M342.4 413.8h.7M337.7 386.8h.7M333.3 423.9h.7M352.5 391.7h.7M331.0 409.5h.7M343.8 386.7h.7M331.2 388.7h.7M341.6 424.2h.7M337.9 426.1h.7M351.6 374.5h.7M370.9 419.2h.7M344.1 396.7h.7M333.3 410.7h.7M358.0 420.9h.7M339.0 422.6h.7M349.5 422.1h.7M346.5 411.1h.7M333.8 407.4h.7M335.7 424.3h.7M339.5 379.7h.7M347.6 385.3h.7M358.0 416.4h.7M350.2 394.7h.7M350.9 375.0h.7M354.6 405.5h.7M360.1 423.4h.7M350.1 408.4h.7M343.7 398.2h.7M348.6 395.7h.7M350.2 420.4h.7M330.6 425.7h.7M371.3 416.6h.7M354.6 424.4h.7M354.4 417.7h.7M375.0 422.0h.7M354.1 409.2h.7M353.3 414.6h.7M349.3 414.6h.7M336.9 414.5h.7M383.8 412.2h.7M350.4 390.2h.7M355.5 411.6h.7M360.1 412.5h.7M348.6 384.6h.7M343.7 402.9h.7M336.9 383.5h.7M357.6 384.0h.7M346.6 419.8h.7M320.6 422.6h.7M323.6 410.7h.7M358.4 416.6h.7M363.1 383.9h.7M364.7 386.0h.7M355.7 417.2h.7M355.2 400.5h.7M347.8 405.9h.7M337.5 413.8h.7M339.8 382.2h.7M351.7 378.7h.7M349.3 414.8h.7M351.8 406.3h.7M365.5 424.7h.7M350.3 379.5h.7M358.1 408.8h.7M340.7 382.8h.7M364.7 423.3h.7M357.0 395.0h.7M325.3 424.6h.7M362.2 412.9h.7M348.2 392.2h.7M362.1 419.9h.7M340.0 421.1h.7M347.8 412.7h.7M330.6 410.3h.7M350.1 411.7h.7M356.8 380.0h.7M361.1 395.1h.7M352.6 389.2h.7M337.8 410.0h.7M367.9 422.2h.7M340.8 427.5h.7M329.6 423.4h.7M338.4 419.4h.7M317.3 421.7h.7M372.7 412.7h.7M347.3 416.1h.7M349.7 417.2h.7M325.0 412.5h.7M366.3 421.5h.7M354.6 420.9h.7M339.7 419.5h.7M372.6 413.4h.7M349.1 410.3h.7M361.6 384.8h.7M349.7 423.6h.7M331.6 417.0h.7M355.7 392.9h.7M359.7 381.2h.7M344.6 381.7h.7M349.0 388.0h.7M317.1 415.3h.7M354.1 415.6h.7M353.8 420.7h.7M338.9 426.5h.7M331.1 422.0h.7M336.2 427.9h.7M342.8 416.3h.7M363.5 426.2h.7M350.3 391.9h.7M365.3 416.9h.7M346.9 387.7h.7M355.5 421.6h.7M336.4 391.7h.7M324.0 420.3h.7M338.6 421.4h.7M375.3 417.3h.7M340.2 414.6h.7M350.7 392.1h.7M347.4 409.7h.7M343.0 393.7h.7M339.7 423.4h.7M356.6 386.2h.7M354.7 382.1h.7M353.8 416.0h.7M333.3 423.3h.7M362.6 409.8h.7M358.3 389.5h.7M359.7 382.9h.7M345.7 411.0h.7M335.2 427.1h.7M348.5 410.8h.7M346.5 415.7h.7M342.2 419.2h.7M363.0 379.0h.7M368.6 413.9h.7M357.1 384.6h.7M349.6 422.6h.7M394.8 418.9h.7M334.7 413.4h.7M323.6 414.8h.7M349.3 384.1h.7M355.4 416.9h.7M341.9 427.3h.7M350.3 383.2h.7M368.5 419.7h.7M346.0 386.5h.7M347.3 379.2h.7M350.5 422.0h.7M366.1 422.3h.7M337.4 427.7h.7M342.8 417.2h.7M338.2 389.5h.7M357.0 424.8h.7M321.5 409.2h.7M357.7 424.8h.7M359.8 402.4h.7M352.1 380.3h.7M337.7 383.9h.7M357.0 418.8h.7M356.3 416.4h.7M369.7 417.2h.7M354.9 426.9h.7M351.4 416.6h.7M349.4 417.4h.7M338.0 417.1h.7M325.3 418.1h.7M363.1 419.4h.7M357.9 423.3h.7M342.6 417.0h.7M364.9 420.1h.7M356.5 420.6h.7M351.1 416.7h.7M338.8 386.2h.7M359.9 425.8h.7M324.4 413.4h.7M359.1 423.6h.7M377.0 408.9h.7M344.3 425.6h.7M343.0 396.0h.7M344.1 418.8h.7M328.2 418.0h.7M329.4 384.2h.7M384.0 417.8h.7M334.7 412.9h.7M359.2 395.4h.7M355.0 384.1h.7M353.2 417.5h.7M351.6 390.4h.7M337.5 396.1h.7M344.7 426.8h.7M323.5 413.3h.7M372.5 423.9h.7M348.3 390.8h.7M347.8 383.3h.7M369.5 403.2h.7M345.7 391.2h.7M345.3 382.5h.7M362.3 388.8h.7M345.4 426.1h.7M381.4 421.7h.7M350.4 386.0h.7M363.0 426.3h.7M332.3 425.5h.7M374.2 384.9h.7M351.3 392.9h.7M356.9 392.6h.7M352.6 422.6h.7M337.8 387.8h.7M362.3 399.7h.7M357.9 428.1h.7M343.7 388.4h.7M345.2 392.3h.7M346.0 400.9h.7M359.3 382.7h.7M348.6 389.6h.7M337.3 413.3h.7M345.5 416.6h.7M336.7 425.5h.7M366.9 418.2h.7M344.4 401.7h.7M352.2 415.4h.7M360.1 422.8h.7M354.5 413.4h.7M352.6 416.9h.7M351.9 415.5h.7M375.0 418.1h.7M345.7 425.6h.7M345.7 392.1h.7M321.1 425.6h.7M337.6 419.4h.7M364.1 387.8h.7M349.2 427.4h.7M377.2 410.9h.7M337.7 409.2h.7M326.2 420.9h.7M372.1 410.6h.7M355.4 383.8h.7M333.6 413.3h.7M361.8 388.2h.7M339.5 425.8h.7M356.4 419.9h.7M359.5 419.9h.7M339.2 420.8h.7M344.4 403.8h.7M366.3 412.2h.7M351.9 379.7h.7M336.7 426.3h.7M348.1 395.2h.7M364.0 387.9h.7M340.7 389.4h.7M347.2 418.0h.7M332.6 406.2h.7M354.4 416.1h.7M349.4 416.1h.7M336.7 394.4h.7M319.1 411.3h.7M362.8 389.2h.7M362.9 385.7h.7M360.8 412.1h.7M350.2 411.0h.7M347.9 418.4h.7M363.3 420.5h.7M334.4 415.7h.7M354.2 380.0h.7M340.4 422.3h.7M352.5 425.7h.7M341.9 420.0h.7M331.6 409.0h.7M358.1 416.6h.7M327.1 423.9h.7M338.8 378.2h.7M358.4 384.7h.7M381.6 417.0h.7M346.7 415.7h.7M351.3 423.8h.7M379.1 389.6h.7M339.6 410.6h.7M347.1 385.1h.7M318.1 416.7h.7M344.8 408.6h.7M350.7 421.3h.7M354.8 385.2h.7M364.3 420.2h.7M358.5 415.7h.7M359.1 401.4h.7M342.5 417.6h.7M356.1 386.3h.7M355.7 387.4h.7M338.6 389.1h.7M344.3 392.3h.7M346.7 416.9h.7M339.0 414.9h.7M339.7 418.1h.7M345.3 420.0h.7M345.9 417.9h.7M334.6 426.3h.7M338.2 418.8h.7M351.4 383.1h.7M347.5 420.0h.7M356.1 390.0h.7M341.5 379.2h.7M337.9 412.0h.7M360.3 427.8h.7M354.4 384.0h.7M350.2 385.9h.7M318.3 411.1h.7M342.5 410.6h.7M362.3 409.9h.7" stroke="#9a9a9a" stroke-width="0.75"/>
<path d="M331.7 387.7h.7M337.3 378.2h.7M321.6 388.8h.7M321.0 388.3h.7M317.6 387.2h.7M318.5 377.5h.7M351.2 382.4h.7M334.3 387.4h.7M347.6 381.2h.7M335.3 378.8h.7M336.8 377.6h.7M323.9 377.2h.7M332.1 377.9h.7M318.5 376.4h.7M334.3 386.4h.7M337.8 386.3h.7M333.9 378.4h.7M328.2 389.1h.7M319.8 377.9h.7M344.0 386.4h.7M331.8 388.6h.7M323.3 374.5h.7M340.9 378.5h.7" stroke="#9a9a9a" stroke-width="0.75"/>
<path d="M327.8 387.3l-3.2 0.2 -3.2 -0.3 -2.8 -0.5 -2 -0.7 -1.9 -1.1 -1.1 -1.2 -0.5 -1.2 0.3 -1.2 0.5 -0.8 0.8 -0.8 2.7 -1.4 3.6 -0.9 4.4 -0.3 4.4 0.4 6.8 1.9 4.4 -0.3 2.8 0.3 2.4 0.9 0.8 0.6 0.5 0.8 -0.1 0.8 -0.6 0.8 -1 0.6 -1.2 0.5 -2.8 0.4 -4.8 0 -5.6 1.9 -3.6 0.6z" fill="#000" fill-opacity="0.16" stroke="none"/>
<path d="M327 386.9l-2.8 0.1 -2.8 -0.2 -2.4 -0.6 -2 -0.7 -1.6 -1 -1 -1.2 -0.2 -0.8 0.2 -1.2 1.4 -1.5 2.4 -1.2 3.2 -0.8 4.4 -0.2 3.2 0.3 3.2 0.8 3.7 1.8 1.6 1.2 0.2 0.4 -0.6 0.8 -1.5 1.2 -2.6 1.5 -2.4 0.8 -3.6 0.5zM341 382.1l-0.4 0 0.5 0 -0.1 0z" fill="#000" fill-opacity="0.16" stroke="none"/>
<path d="M327 386.5l-2.4 0.1 -2.4 -0.2 -2.4 -0.4 -1.6 -0.6 -1.6 -0.8 -1 -0.9 -0.4 -0.8 0 -1.2 0.4 -0.8 0.6 -0.6 2 -1.1 2.8 -0.9 3.6 -0.3 3.2 0.2 2.8 0.5 2.8 1.2 1.7 1.4 0.3 0.8 -0.1 0.8 -0.6 0.8 -1 0.8 -1.1 0.6 -2 0.8 -3.6 0.6z" fill="#000" fill-opacity="0.16" stroke="none"/>
<path d="M327.4 386.2l-2 0.1 -2.4 -0.1 -2 -0.3 -2 -0.6 -1.6 -0.8 -1 -0.8 -0.5 -0.8 0 -1.2 0.9 -1.2 1.8 -1.1 2.8 -0.8 3.2 -0.3 2.8 0.1 3.2 0.7 2.2 1 1.3 1.2 0.3 0.8 -0.1 0.8 -0.5 0.8 -0.8 0.6 -2.4 1.2 -3.2 0.7z" fill="#000" fill-opacity="0.16" stroke="none"/>
<path d="M327.8 385.7l-4 0.2 -2.4 -0.3 -1.6 -0.4 -1.5 -0.7 -1 -0.8 -0.6 -0.8 0 -1.2 1 -1.2 1.7 -0.9 2 -0.6 2.8 -0.3 2.8 0 2.4 0.5 2 0.7 1.5 1 0.7 1.2 -0.2 0.8 -0.5 0.8 -1.1 0.8 -1.2 0.5 -2.8 0.7z" fill="#000" fill-opacity="0.16" stroke="none"/>
<path d="M327.8 385.4l-4 0.2 -2 -0.3 -1.6 -0.4 -1.6 -0.8 -0.8 -0.8 -0.4 -0.8 0.1 -0.8 0.7 -0.9 1.6 -0.9 2 -0.6 2.4 -0.3 2.4 0.1 2 0.3 2 0.6 1.4 0.9 0.7 1.2 -0.1 0.8 -0.4 0.5 -1.6 1.1 -2.8 0.9z" fill="#000" fill-opacity="0.16" stroke="none"/>
<path d="M327.8 385l-3.6 0.2 -2 -0.2 -1.6 -0.5 -1.2 -0.6 -0.7 -0.6 -0.4 -0.8 0.1 -0.8 0.7 -0.8 1.5 -0.8 1.6 -0.5 2 -0.2 2 0 1.9 0.3 1.7 0.5 1.2 0.7 0.4 0.4 0.4 0.8 -0.2 0.8 -0.2 0.4 -1.6 1.1 -2 0.6z" fill="#000" fill-opacity="0.16" stroke="none"/>
<path d="M327.4 384.5l-2.8 0.3 -2.8 -0.5 -1.2 -0.4 -0.8 -0.6 -0.4 -0.6 -0.1 -0.6 0.5 -0.8 0.5 -0.4 2.3 -0.8 2.8 -0.3 2.8 0.5 1.2 0.4 0.9 0.6 0.3 0.5 0.1 0.7 -0.5 0.8 -0.5 0.4 -2.3 0.8z" fill="#000" fill-opacity="0.16" stroke="none"/>
<path d="M326.2 384.1l-2.4 0 -1.7 -0.4 -1.2 -0.8 -0.2 -0.8 0.6 -0.8 0.8 -0.4 2.5 -0.5 2.8 0.3 1.2 0.5 0.6 0.5 0.2 0.8 -0.7 0.8 -0.9 0.5 -1.6 0.3z" fill="#000" fill-opacity="0.16" stroke="none"/>
<path d="M327.8 387.3l-3.2 0.2 -3.2 -0.3 -2.8 -0.5 -2 -0.7 -1.9 -1.1 -1.1 -1.2 -0.5 -1.2 0.3 -1.2 0.5 -0.8 0.8 -0.8 2.7 -1.4 3.6 -0.9 4.4 -0.3 4.4 0.4 6.8 1.9 4.4 -0.3 2.8 0.3 2.4 0.9 0.8 0.6 0.5 0.8 -0.1 0.8 -0.6 0.8 -1 0.6 -1.2 0.5 -2.8 0.4 -4.8 0 -5.6 1.9 -3.6 0.6z" fill="none" stroke="#222" stroke-width="0.5"/>
<path d="M327 386.9l-2.8 0.1 -2.8 -0.2 -2.4 -0.6 -2 -0.7 -1.6 -1 -1 -1.2 -0.2 -0.8 0.2 -1.2 1.4 -1.5 2.4 -1.2 3.2 -0.8 4.4 -0.2 3.2 0.3 3.2 0.8 3.7 1.8 1.6 1.2 0.2 0.4 -0.6 0.8 -1.5 1.2 -2.6 1.5 -2.4 0.8 -3.6 0.5zM341 382.1l-0.4 0 0.5 0 -0.1 0z" fill="none" stroke="#222" stroke-width="0.5"/>
<path d="M327 386.5l-2.4 0.1 -2.4 -0.2 -2.4 -0.4 -1.6 -0.6 -1.6 -0.8 -1 -0.9 -0.4 -0.8 0 -1.2 0.4 -0.8 0.6 -0.6 2 -1.1 2.8 -0.9 3.6 -0.3 3.2 0.2 2.8 0.5 2.8 1.2 1.7 1.4 0.3 0.8 -0.1 0.8 -0.6 0.8 -1 0.8 -1.1 0.6 -2 0.8 -3.6 0.6z" fill="none" stroke="#222" stroke-width="0.5"/>
<path d="M327.4 386.2l-2 0.1 -2.4 -0.1 -2 -0.3 -2 -0.6 -1.6 -0.8 -1 -0.8 -0.5 -0.8 0 -1.2 0.9 -1.2 1.8 -1.1 2.8 -0.8 3.2 -0.3 2.8 0.1 3.2 0.7 2.2 1 1.3 1.2 0.3 0.8 -0.1 0.8 -0.5 0.8 -0.8 0.6 -2.4 1.2 -3.2 0.7z" fill="none" stroke="#222" stroke-width="0.5"/>
<path d="M327.8 385.7l-4 0.2 -2.4 -0.3 -1.6 -0.4 -1.5 -0.7 -1 -0.8 -0.6 -0.8 0 -1.2 1 -1.2 1.7 -0.9 2 -0.6 2.8 -0.3 2.8 0 2.4 0.5 2 0.7 1.5 1 0.7 1.2 -0.2 0.8 -0.5 0.8 -1.1 0.8 -1.2 0.5 -2.8 0.7z" fill="none" stroke="#222" stroke-width="0.5"/>
<path d="M327.8 385.4l-4 0.2 -2 -0.3 -1.6 -0.4 -1.6 -0.8 -0.8 -0.8 -0.4 -0.8 0.1 -0.8 0.7 -0.9 1.6 -0.9 2 -0.6 2.4 -0.3 2.4 0.1 2 0.3 2 0.6 1.4 0.9 0.7 1.2 -0.1 0.8 -0.4 0.5 -1.6 1.1 -2.8 0.9z" fill="none" stroke="#222" stroke-width="0.5"/>
<path d="M327.8 385l-3.6 0.2 -2 -0.2 -1.6 -0.5 -1.2 -0.6 -0.7 -0.6 -0.4 -0.8 0.1 -0.8 0.7 -0.8 1.5 -0.8 1.6 -0.5 2 -0.2 2 0 1.9 0.3 1.7 0.5 1.2 0.7 0.4 0.4 0.4 0.8 -0.2 0.8 -0.2 0.4 -1.6 1.1 -2 0.6z" fill="none" stroke="#222" stroke-width="0.5"/>
<path d="M327.4 384.5l-2.8 0.3 -2.8 -0.5 -1.2 -0.4 -0.8 -0.6 -0.4 -0.6 -0.1 -0.6 0.5 -0.8 0.5 -0.4 2.3 -0.8 2.8 -0.3 2.8 0.5 1.2 0.4 0.9 0.6 0.3 0.5 0.1 0.7 -0.5 0.8 -0.5 0.4 -2.3 0.8z" fill="none" stroke="#222" stroke-width="0.5"/>
<path d="M326.2 384.1l-2.4 0 -1.7 -0.4 -1.2 -0.8 -0.2 -0.8 0.6 -0.8 0.8 -0.4 2.5 -0.5 2.8 0.3 1.2 0.5 0.6 0.5 0.2 0.8 -0.7 0.8 -0.9 0.5 -1.6 0.3z" fill="none" stroke="#222" stroke-width="0.5"/>
<path d="M327.8 385.4l-4 0.2 -2 -0.3 -1.6 -0.4 -1.6 -0.8 -0.8 -0.8 -0.4 -0.8 0.1 -0.8 0.7 -0.9 1.6 -0.9 2 -0.6 2.4 -0.3 2.4 0.1 2 0.3 2 0.6 1.4 0.9 0.7 1.2 -0.1 0.8 -0.4 0.5 -1.6 1.1 -2.8 0.9z" fill="#111" stroke="none"/>
<path d="M375.8 410.1h.7M337.1 426.7h.7M352.9 408.8h.7M335.1 426.4h.7M322.9 407.3h.7M332.9 428.3h.7M364.1 407.7h.7M324.7 403.4h.7M328.2 407.8h.7M321.6 404.7h.7M328.4 407.1h.7M333.8 404.0h.7M341.6 426.6h.7M380.1 418.0h.7M345.8 409.8h.7M335.1 405.1h.7M363.6 407.9h.7M331.5 403.3h.7M361.2 405.5h.7M318.0 402.9h.7M332.6 406.8h.7M378.4 416.3h.7M326.4 407.5h.7M377.6 416.0h.7M332.8 407.7h.7M330.8 428.1h.7M329.2 405.4h.7M367.5 408.1h.7M343.1 428.0h.7M332.8 427.0h.7M375.7 415.1h.7M350.3 427.8h.7M336.2 409.8h.7M374.9 411.8h.7M376.8 410.8h.7M356.9 408.8h.7M360.7 406.7h.7M381.8 422.7h.7M345.5 408.8h.7M334.7 410.1h.7M374.9 406.9h.7M330.4 408.9h.7M333.2 427.2h.7M354.8 407.5h.7M326.9 406.0h.7M329.1 402.3h.7M346.8 404.8h.7M326.5 405.6h.7M318.3 406.2h.7M375.9 419.4h.7M347.6 406.1h.7M346.2 410.0h.7M328.6 403.5h.7M347.8 409.4h.7" stroke="#9a9a9a" stroke-width="0.75"/>
<path d="M309.8 414.1l1.5 -2.4 2.5 -2.2 3.2 -1.6 3.6 -0.7 2.4 -0.1 2.8 0.4 2.4 0.7 4.5 1.9 2.3 0.4 12 -0.5 9.2 -1.5 4.8 -0.1 2.8 0.4 2.4 0.6 2.4 1 2.1 1.3 1.8 1.6 1.1 1.6 0.9 2 0.3 2 -0.3 2 -0.8 2 -1.1 1.6 -1.7 1.6 -1.9 1.2 -2.4 1.1 -2.8 0.8 -2.8 0.3 -2.8 0 -2.8 -0.4 -2.8 -0.7 -4.8 -1.6 -2.8 -0.6 -9.2 -0.7 -2.8 0.3 -5.2 2.1 -2.8 0.7 -2.4 0.3 -2.8 -0.2 -3.2 -0.8 -2.8 -1.4 -2.3 -2 -1.7 -2.6z" fill="#000" fill-opacity="0.08" stroke="none"/>
<path d="M361.8 427.7l-2.8 0.1 -3.2 -0.4 -2.8 -0.8 -4.8 -1.7 -2.8 -0.7 -9.6 -0.8 -2.4 0.4 -4.8 2.5 -3.2 1.1 -3.2 0.3 -3.2 -0.3 -2 -0.6 -2 -1 -1.6 -1.2 -1.2 -1.3 -1 -1.6 -0.6 -1.6 -0.3 -1.6 0.1 -2 0.4 -1.2 0.7 -1.6 1.1 -1.5 1.2 -1.1 1.6 -1.1 1.6 -0.8 1.6 -0.5 2 -0.4 2.8 0 2.8 0.5 2.8 1.1 4 2.1 2.4 0.6 12 -0.7 10 -1.8 3.2 0 2.8 0.4 2 0.5 2 0.9 1.5 1 1.3 1.1 1 1.3 0.8 1.6 0.3 1.6 0 1.2 -0.4 1.6 -0.6 1.2 -0.9 1.2 -1.4 1.3 -1.6 1 -1.6 0.8 -2 0.6 -2 0.3z" fill="#000" fill-opacity="0.08" stroke="none"/>
<path d="M324.6 426.5l-1.6 0.2 -2 0 -2 -0.3 -1.6 -0.5 -1.6 -0.8 -1.6 -1.2 -1.2 -1.4 -0.7 -1.2 -0.6 -1.6 -0.2 -1.2 0.1 -1.6 0.4 -1.6 0.9 -1.6 0.9 -1.2 1.6 -1.3 1.6 -0.9 2 -0.7 2 -0.3 2 0 2 0.3 2 0.6 1.6 0.7 5.2 3.4 2 0.6 11.6 -1.1 9.6 -2.1 2.4 -0.1 2.4 0.2 3.2 0.9 2.4 1.3 1 0.9 0.9 1.2 0.7 2 0.1 1.2 -0.2 1.2 -0.5 1.2 -0.9 1.2 -1.1 1 -1.6 1 -3.2 1.1 -2.8 0.3 -3.2 -0.4 -2.8 -0.7 -4.8 -2 -2.4 -0.8 -2.4 -0.4 -8 -0.9 -2 0.4 -5.6 3.6 -2 0.9 -2 0.5z" fill="#000" fill-opacity="0.08" stroke="none"/>
<path d="M324.2 425.8l-3.2 0.1 -3.2 -0.8 -1.6 -0.8 -1.2 -0.9 -1.2 -1.3 -0.7 -1.2 -0.4 -1.2 -0.2 -1.6 0.1 -1.6 0.4 -1.2 0.7 -1.2 1 -1.2 1.1 -0.9 1.6 -1 2 -0.7 2.4 -0.3 2.4 0.2 2 0.6 2 0.9 2 1.4 1.9 1.8 1.5 2 0.4 1.2 -0.3 0.8 -1 1.6 -1.6 1.6 -1.7 1.4 -1.6 1 -1.6 0.7 -2 0.6zM362.6 424.5l-1.6 0.3 -2 0.1 -3.6 -0.7 -2.8 -1.1 -5.6 -2.9 -4 -1.3 -1 -0.4 -0.4 -0.4 0.2 -0.4 0.8 -0.4 4 -1 6.3 -2.2 2.5 -0.7 4 -0.5 2 0.2 1.6 0.4 2 0.8 1.7 1.4 1.1 1.6 0.3 2 -0.4 1.6 -1.2 1.6 -1.8 1.2 -2.1 0.8z" fill="#000" fill-opacity="0.08" stroke="none"/>
<path d="M324.2 425l-1.6 0.2 -1.6 -0.1 -2.8 -0.7 -2.4 -1.5 -1.6 -2 -0.5 -1.2 -0.3 -1.2 0.1 -1.2 0.2 -1.2 0.6 -1.2 0.9 -1.2 1 -1 1.2 -0.7 1.6 -0.7 2 -0.4 2 0 2 0.3 2 0.8 1.6 1 1.6 1.5 1.1 1.6 0.5 1.2 0 1.2 -0.4 1.2 -1 1.6 -1.2 1.2 -1.7 1.2 -1.7 0.8 -1.6 0.5zM361.8 423l-1.6 0.2 -2 0 -2 -0.5 -1.6 -0.6 -2 -1.2 -1.2 -1.2 -0.4 -1.2 0.2 -0.8 0.6 -0.8 1.2 -0.8 1.7 -0.8 1.9 -0.5 3.2 -0.3 1.6 0.3 1.6 0.5 1.2 0.7 0.9 0.9 0.6 1.2 0.1 1.2 -0.4 1.2 -0.8 1 -1.2 0.9 -1.6 0.6z" fill="#000" fill-opacity="0.08" stroke="none"/>
<path d="M324.2 424.1l-2.8 0.2 -2.7 -0.6 -2.1 -1.3 -1.6 -1.9 -0.6 -2 0.1 -1.2 0.3 -1.2 1.2 -2 1.8 -1.4 1.6 -0.6 1.6 -0.4 1.6 0 1.6 0.2 1.6 0.5 1.6 0.9 1.5 1.2 0.9 1.2 0.5 1.2 0.1 1.2 -0.2 1.2 -0.6 1.2 -0.9 1.2 -1.3 1 -1.6 0.9 -1.6 0.5zM360.6 420.6l-1.6 0.2 -2 -0.4 -0.8 -0.6 -0.5 -0.5 -0.1 -0.8 0.2 -0.4 1 -0.8 1.3 -0.4 1.5 0 1.3 0.4 1 0.8 0.2 0.8 -0.3 0.9 -1.2 0.8z" fill="#000" fill-opacity="0.08" stroke="none"/>
<path d="M323.4 423.4l-2.4 0 -2.4 -0.8 -1.8 -1.3 -1 -1.6 -0.3 -2 0.4 -1.6 1.1 -1.6 2 -1.3 1.2 -0.4 1.6 -0.3 2.8 0.4 1.6 0.7 1.2 0.9 0.8 0.8 0.7 1.2 0.3 1.2 -0.1 1.2 -0.5 1.1 -0.6 0.9 -2 1.6 -2.6 0.9z" fill="#000" fill-opacity="0.08" stroke="none"/>
<path d="M324.2 422.1l-2 0.4 -1.6 -0.2 -1.6 -0.6 -1.4 -1.2 -0.7 -1.2 -0.2 -1.6 0.5 -1.6 1 -1.2 2 -1.1 2.4 -0.3 2.4 0.7 1.2 0.7 0.8 0.8 0.8 1.6 0 1.2 -0.2 0.8 -1.2 1.6 -1 0.7 -1.2 0.5z" fill="#000" fill-opacity="0.08" stroke="none"/>
<path d="M323.8 421l-1.6 0.2 -1.2 -0.1 -1.2 -0.5 -1 -0.9 -0.4 -0.8 -0.2 -1.2 0.4 -1.1 0.8 -0.9 1.6 -0.8 1.6 -0.1 1.6 0.4 1.3 0.9 0.7 1.2 0.1 0.8 -0.2 0.8 -0.8 1.2 -1.5 0.9z" fill="#000" fill-opacity="0.08" stroke="none"/>
<path d="M309.8 414.1l1.5 -2.4 2.5 -2.2 3.2 -1.6 3.6 -0.7 2.4 -0.1 2.8 0.4 2.4 0.7 4.5 1.9 2.3 0.4 12 -0.5 9.2 -1.5 4.8 -0.1 2.8 0.4 2.4 0.6 2.4 1 2.1 1.3 1.8 1.6 1.1 1.6 0.9 2 0.3 2 -0.3 2 -0.8 2 -1.1 1.6 -1.7 1.6 -1.9 1.2 -2.4 1.1 -2.8 0.8 -2.8 0.3 -2.8 0 -2.8 -0.4 -2.8 -0.7 -4.8 -1.6 -2.8 -0.6 -9.2 -0.7 -2.8 0.3 -5.2 2.1 -2.8 0.7 -2.4 0.3 -2.8 -0.2 -3.2 -0.8 -2.8 -1.4 -2.3 -2 -1.7 -2.6z" fill="none" stroke="#333" stroke-width="0.5"/>
<path d="M361.8 427.7l-2.8 0.1 -3.2 -0.4 -2.8 -0.8 -4.8 -1.7 -2.8 -0.7 -9.6 -0.8 -2.4 0.4 -4.8 2.5 -3.2 1.1 -3.2 0.3 -3.2 -0.3 -2 -0.6 -2 -1 -1.6 -1.2 -1.2 -1.3 -1 -1.6 -0.6 -1.6 -0.3 -1.6 0.1 -2 0.4 -1.2 0.7 -1.6 1.1 -1.5 1.2 -1.1 1.6 -1.1 1.6 -0.8 1.6 -0.5 2 -0.4 2.8 0 2.8 0.5 2.8 1.1 4 2.1 2.4 0.6 12 -0.7 10 -1.8 3.2 0 2.8 0.4 2 0.5 2 0.9 1.5 1 1.3 1.1 1 1.3 0.8 1.6 0.3 1.6 0 1.2 -0.4 1.6 -0.6 1.2 -0.9 1.2 -1.4 1.3 -1.6 1 -1.6 0.8 -2 0.6 -2 0.3z" fill="none" stroke="#333" stroke-width="0.5"/>
<path d="M324.6 426.5l-1.6 0.2 -2 0 -2 -0.3 -1.6 -0.5 -1.6 -0.8 -1.6 -1.2 -1.2 -1.4 -0.7 -1.2 -0.6 -1.6 -0.2 -1.2 0.1 -1.6 0.4 -1.6 0.9 -1.6 0.9 -1.2 1.6 -1.3 1.6 -0.9 2 -0.7 2 -0.3 2 0 2 0.3 2 0.6 1.6 0.7 5.2 3.4 2 0.6 11.6 -1.1 9.6 -2.1 2.4 -0.1 2.4 0.2 3.2 0.9 2.4 1.3 1 0.9 0.9 1.2 0.7 2 0.1 1.2 -0.2 1.2 -0.5 1.2 -0.9 1.2 -1.1 1 -1.6 1 -3.2 1.1 -2.8 0.3 -3.2 -0.4 -2.8 -0.7 -4.8 -2 -2.4 -0.8 -2.4 -0.4 -8 -0.9 -2 0.4 -5.6 3.6 -2 0.9 -2 0.5z" fill="none" stroke="#333" stroke-width="0.5"/>
<path d="M324.2 425.8l-3.2 0.1 -3.2 -0.8 -1.6 -0.8 -1.2 -0.9 -1.2 -1.3 -0.7 -1.2 -0.4 -1.2 -0.2 -1.6 0.1 -1.6 0.4 -1.2 0.7 -1.2 1 -1.2 1.1 -0.9 1.6 -1 2 -0.7 2.4 -0.3 2.4 0.2 2 0.6 2 0.9 2 1.4 1.9 1.8 1.5 2 0.4 1.2 -0.3 0.8 -1 1.6 -1.6 1.6 -1.7 1.4 -1.6 1 -1.6 0.7 -2 0.6zM362.6 424.5l-1.6 0.3 -2 0.1 -3.6 -0.7 -2.8 -1.1 -5.6 -2.9 -4 -1.3 -1 -0.4 -0.4 -0.4 0.2 -0.4 0.8 -0.4 4 -1 6.3 -2.2 2.5 -0.7 4 -0.5 2 0.2 1.6 0.4 2 0.8 1.7 1.4 1.1 1.6 0.3 2 -0.4 1.6 -1.2 1.6 -1.8 1.2 -2.1 0.8z" fill="none" stroke="#333" stroke-width="0.5"/>
<path d="M324.2 425l-1.6 0.2 -1.6 -0.1 -2.8 -0.7 -2.4 -1.5 -1.6 -2 -0.5 -1.2 -0.3 -1.2 0.1 -1.2 0.2 -1.2 0.6 -1.2 0.9 -1.2 1 -1 1.2 -0.7 1.6 -0.7 2 -0.4 2 0 2 0.3 2 0.8 1.6 1 1.6 1.5 1.1 1.6 0.5 1.2 0 1.2 -0.4 1.2 -1 1.6 -1.2 1.2 -1.7 1.2 -1.7 0.8 -1.6 0.5zM361.8 423l-1.6 0.2 -2 0 -2 -0.5 -1.6 -0.6 -2 -1.2 -1.2 -1.2 -0.4 -1.2 0.2 -0.8 0.6 -0.8 1.2 -0.8 1.7 -0.8 1.9 -0.5 3.2 -0.3 1.6 0.3 1.6 0.5 1.2 0.7 0.9 0.9 0.6 1.2 0.1 1.2 -0.4 1.2 -0.8 1 -1.2 0.9 -1.6 0.6z" fill="none" stroke="#333" stroke-width="0.5"/>
<path d="M324.2 424.1l-2.8 0.2 -2.7 -0.6 -2.1 -1.3 -1.6 -1.9 -0.6 -2 0.1 -1.2 0.3 -1.2 1.2 -2 1.8 -1.4 1.6 -0.6 1.6 -0.4 1.6 0 1.6 0.2 1.6 0.5 1.6 0.9 1.5 1.2 0.9 1.2 0.5 1.2 0.1 1.2 -0.2 1.2 -0.6 1.2 -0.9 1.2 -1.3 1 -1.6 0.9 -1.6 0.5zM360.6 420.6l-1.6 0.2 -2 -0.4 -0.8 -0.6 -0.5 -0.5 -0.1 -0.8 0.2 -0.4 1 -0.8 1.3 -0.4 1.5 0 1.3 0.4 1 0.8 0.2 0.8 -0.3 0.9 -1.2 0.8z" fill="none" stroke="#333" stroke-width="0.5"/>
<path d="M323.4 423.4l-2.4 0 -2.4 -0.8 -1.8 -1.3 -1 -1.6 -0.3 -2 0.4 -1.6 1.1 -1.6 2 -1.3 1.2 -0.4 1.6 -0.3 2.8 0.4 1.6 0.7 1.2 0.9 0.8 0.8 0.7 1.2 0.3 1.2 -0.1 1.2 -0.5 1.1 -0.6 0.9 -2 1.6 -2.6 0.9z" fill="none" stroke="#333" stroke-width="0.5"/>
<path d="M324.2 422.1l-2 0.4 -1.6 -0.2 -1.6 -0.6 -1.4 -1.2 -0.7 -1.2 -0.2 -1.6 0.5 -1.6 1 -1.2 2 -1.1 2.4 -0.3 2.4 0.7 1.2 0.7 0.8 0.8 0.8 1.6 0 1.2 -0.2 0.8 -1.2 1.6 -1 0.7 -1.2 0.5z" fill="none" stroke="#333" stroke-width="0.5"/>
<path d="M323.8 421l-1.6 0.2 -1.2 -0.1 -1.2 -0.5 -1 -0.9 -0.4 -0.8 -0.2 -1.2 0.4 -1.1 0.8 -0.9 1.6 -0.8 1.6 -0.1 1.6 0.4 1.3 0.9 0.7 1.2 0.1 0.8 -0.2 0.8 -0.8 1.2 -1.5 0.9z" fill="none" stroke="#333" stroke-width="0.5"/>
<path d="M323.8 421l-1.6 0.2 -1.2 -0.1 -1.2 -0.5 -1 -0.9 -0.4 -0.8 -0.2 -1.2 0.4 -1.1 0.8 -0.9 1.6 -0.8 1.6 -0.1 1.6 0.4 1.3 0.9 0.7 1.2 0.1 0.8 -0.2 0.8 -0.8 1.2 -1.5 0.9z" fill="#222" stroke="none"/>
</g>
<rect x="315.80" y="343.70" width="84.80" height="85.30" fill="none" stroke="#444" stroke-width="0.9"/>
<line x1="343.30" y1="343.70" x2="343.30" y2="429.00" stroke="#444" stroke-width="0.9" />
<line x1="315.80" y1="403.00" x2="400.60" y2="403.00" stroke="#444" stroke-width="0.9" />
<line x1="315.80" y1="343.70" x2="315.80" y2="429.00" stroke="#222" stroke-width="1.1" />
<line x1="315.80" y1="429.00" x2="400.60" y2="429.00" stroke="#222" stroke-width="1.1" />
<path d="M312.2 409.9H315.8M313.6 404.1H315.8M313.6 400.7H315.8M313.6 398.3H315.8M313.6 396.4H315.8M313.6 394.9H315.8M313.6 393.6H315.8M313.6 392.5H315.8M313.6 391.5H315.8M312.2 390.6H315.8M313.6 384.8H315.8M313.6 381.4H315.8M313.6 379.0H315.8M313.6 377.1H315.8M313.6 375.6H315.8M313.6 374.3H315.8M313.6 373.2H315.8M313.6 372.2H315.8M312.2 371.3H315.8M313.6 365.5H315.8M313.6 362.1H315.8M313.6 359.7H315.8M313.6 357.8H315.8M313.6 356.3H315.8M313.6 355.0H315.8M313.6 353.9H315.8M313.6 352.9H315.8M312.2 352.0H315.8M312.2 419.7H315.8M313.6 414.7H315.8M313.6 424.7H315.8M331.4 429.0V432.6M337.4 429.0V431.2M340.9 429.0V431.2M343.4 429.0V431.2M345.4 429.0V431.2M346.9 429.0V431.2M348.3 429.0V431.2M349.4 429.0V431.2M350.5 429.0V431.2M351.4 429.0V432.6M357.4 429.0V431.2M360.9 429.0V431.2M363.4 429.0V431.2M365.3 429.0V431.2M366.9 429.0V431.2M368.2 429.0V431.2M369.4 429.0V431.2M370.4 429.0V431.2M371.3 429.0V432.6M377.3 429.0V431.2M380.9 429.0V431.2M383.4 429.0V431.2M385.3 429.0V431.2M386.9 429.0V431.2M388.2 429.0V431.2M389.4 429.0V431.2M390.4 429.0V431.2M391.3 429.0V432.6M322.1 429.0V432.6M317.8 429.0V431.2M326.3 429.0V431.2" stroke="#000" stroke-width="1.0"/>
<text x="309.80" y="354.70" font-size="7.6" text-anchor="end" fill="#222" stroke="#222" stroke-width="0.2">10<tspan dy="-3.2" font-size="5.62">5</tspan></text>
<text x="309.80" y="374.20" font-size="7.6" text-anchor="end" fill="#222" stroke="#222" stroke-width="0.2">10<tspan dy="-3.2" font-size="5.62">4</tspan></text>
<text x="309.80" y="393.40" font-size="7.6" text-anchor="end" fill="#222" stroke="#222" stroke-width="0.2">10<tspan dy="-3.2" font-size="5.62">3</tspan></text>
<text x="309.80" y="412.60" font-size="7.6" text-anchor="end" fill="#222" stroke="#222" stroke-width="0.2">10<tspan dy="-3.2" font-size="5.62">2</tspan></text>
<text x="309.80" y="422.40" font-size="7.6" text-anchor="end" fill="#222" font-weight="normal" font-style="normal" stroke="#222" stroke-width="0.1" >0</text>
<text x="323.60" y="442.80" font-size="7.6" text-anchor="middle" fill="#222" font-weight="normal" font-style="normal" stroke="#222" stroke-width="0.1" >0</text>
<text x="333.00" y="442.80" font-size="7.6" text-anchor="middle" fill="#222" stroke="#222" stroke-width="0.2">10<tspan dy="-3.2" font-size="5.62">2</tspan></text>
<text x="353.60" y="442.80" font-size="7.6" text-anchor="middle" fill="#222" stroke="#222" stroke-width="0.2">10<tspan dy="-3.2" font-size="5.62">3</tspan></text>
<text x="373.90" y="442.80" font-size="7.6" text-anchor="middle" fill="#222" stroke="#222" stroke-width="0.2">10<tspan dy="-3.2" font-size="5.62">4</tspan></text>
<text x="393.00" y="442.80" font-size="7.6" text-anchor="middle" fill="#222" stroke="#222" stroke-width="0.2">10<tspan dy="-3.2" font-size="5.62">5</tspan></text>
<text x="319.60" y="351.80" font-size="6.8" text-anchor="start" fill="#111" font-weight="normal" font-style="normal" stroke="#111" stroke-width="0.1" letter-spacing="0.25">50.3</text>
<text x="398.20" y="351.80" font-size="6.8" text-anchor="end" fill="#111" font-weight="normal" font-style="normal" stroke="#111" stroke-width="0.1" letter-spacing="0.25">1.34</text>
<text x="319.70" y="425.30" font-size="6.8" text-anchor="start" fill="#111" font-weight="normal" font-style="normal" stroke="#111" stroke-width="0.1" letter-spacing="0.25">30.1</text>
<text x="398.20" y="425.30" font-size="6.8" text-anchor="end" fill="#111" font-weight="normal" font-style="normal" stroke="#111" stroke-width="0.1" letter-spacing="0.25">18.3</text>
<clipPath id="cD4"><rect x="427.1" y="343.4" width="85.89999999999998" height="85.5"/></clipPath>
<g clip-path="url(#cD4)">
<path d="M466.1 408.4h.7M485.2 374.2h.7M452.8 404.9h.7M459.5 415.1h.7M441.2 414.3h.7M441.8 393.7h.7M473.3 379.2h.7M457.8 375.3h.7M459.9 418.1h.7M441.8 374.2h.7M457.9 384.5h.7M477.6 413.5h.7M463.7 412.1h.7M460.9 406.3h.7M468.2 407.7h.7M465.8 371.1h.7M437.4 410.2h.7M479.2 424.4h.7M490.5 373.5h.7M447.1 416.3h.7M462.6 399.4h.7M440.7 408.4h.7M480.3 413.8h.7M465.8 363.0h.7M446.2 401.7h.7M448.6 409.3h.7M473.8 367.4h.7M458.1 419.1h.7M449.2 411.8h.7M470.2 406.2h.7M448.7 377.1h.7M438.8 378.2h.7M475.8 395.0h.7M477.1 417.5h.7M461.7 423.5h.7M475.3 420.1h.7M466.7 379.0h.7M475.9 404.1h.7M482.8 372.2h.7M445.2 415.2h.7M460.1 368.1h.7M484.3 373.6h.7M455.7 412.4h.7M474.2 375.0h.7M460.2 387.1h.7M476.6 377.3h.7M460.1 384.2h.7M448.2 385.0h.7M478.3 370.4h.7M443.1 387.0h.7M459.5 412.8h.7M471.9 418.1h.7M457.1 380.0h.7M446.3 399.0h.7M452.5 401.3h.7M455.7 387.6h.7M475.7 412.2h.7M443.7 412.7h.7M473.0 384.9h.7M480.3 376.9h.7M450.9 409.5h.7M480.9 404.5h.7M456.6 389.6h.7M469.5 398.6h.7M463.7 398.0h.7M449.8 398.6h.7M466.4 376.2h.7M445.1 382.2h.7M467.9 410.7h.7M464.0 376.9h.7M449.3 385.4h.7M459.1 406.9h.7M446.2 406.8h.7M470.2 382.6h.7M441.5 397.9h.7M458.9 376.0h.7M456.4 397.2h.7M455.2 404.3h.7M493.5 415.8h.7M464.3 421.5h.7M483.3 375.0h.7M467.8 376.1h.7M458.3 369.0h.7M465.3 403.5h.7M444.6 406.3h.7M476.2 387.2h.7M456.4 417.3h.7M472.5 410.3h.7M450.6 398.6h.7M444.6 372.3h.7M472.2 376.6h.7M468.8 418.2h.7M445.7 412.2h.7M474.1 419.0h.7M467.3 414.7h.7M446.3 409.5h.7M466.2 384.3h.7M460.5 370.8h.7M461.3 374.6h.7M458.4 382.4h.7M461.8 420.3h.7M496.1 406.6h.7M466.6 374.8h.7M452.3 373.7h.7M453.9 418.4h.7M428.0 379.2h.7M447.5 408.5h.7M477.9 382.5h.7M470.0 426.9h.7M465.9 376.0h.7M461.6 422.6h.7M474.1 414.8h.7M456.2 413.6h.7M450.2 383.4h.7M450.2 401.4h.7M470.1 409.9h.7M457.6 392.2h.7M460.3 388.0h.7M498.3 390.5h.7M456.2 413.6h.7M451.1 377.6h.7M450.6 406.9h.7M468.3 396.2h.7M447.1 369.1h.7M476.2 402.9h.7M456.0 381.8h.7M457.7 378.7h.7M455.9 418.2h.7M446.5 384.6h.7M475.0 396.8h.7M459.6 398.6h.7M477.2 419.5h.7M464.8 413.0h.7M442.9 417.1h.7M482.6 387.1h.7M450.6 359.4h.7M467.0 412.9h.7M455.0 390.8h.7M472.9 398.6h.7M491.4 378.0h.7M466.9 404.5h.7M466.1 399.3h.7M475.1 375.6h.7M466.4 427.2h.7M461.7 384.2h.7M448.4 399.5h.7M450.6 412.8h.7M454.4 420.1h.7M447.9 418.4h.7M454.8 412.9h.7M463.6 376.1h.7M470.7 379.3h.7M434.4 384.5h.7M458.5 381.6h.7M459.0 413.0h.7M464.4 409.7h.7M463.1 412.2h.7M475.1 374.2h.7M463.7 375.3h.7M460.6 419.8h.7M459.4 412.8h.7M465.3 418.6h.7M461.9 376.9h.7M453.3 420.5h.7M462.9 401.5h.7M468.7 417.0h.7M472.6 418.7h.7M453.6 368.3h.7M453.0 381.4h.7M463.4 372.2h.7M476.0 407.9h.7M465.4 385.5h.7M466.4 413.7h.7M457.5 407.1h.7M486.7 371.1h.7M470.9 409.0h.7M457.0 372.3h.7M473.2 408.1h.7M454.8 372.1h.7M465.6 408.7h.7M472.2 418.2h.7M470.6 413.8h.7M455.1 389.4h.7M467.5 389.3h.7M456.1 409.2h.7M449.6 367.8h.7M458.9 418.0h.7M458.0 382.2h.7M453.8 424.6h.7M461.7 422.2h.7M454.4 419.3h.7M472.2 408.0h.7M469.5 389.6h.7M459.9 416.0h.7M471.7 374.3h.7M457.3 386.3h.7M443.2 366.2h.7M460.1 376.1h.7M482.5 417.4h.7M466.8 392.7h.7M453.7 414.2h.7M457.0 416.6h.7M453.5 368.9h.7M469.6 375.3h.7M477.6 408.5h.7M465.5 370.5h.7M466.9 412.7h.7M464.8 403.8h.7M479.3 413.9h.7M479.6 368.9h.7M458.8 377.9h.7M457.1 395.7h.7M459.7 406.3h.7M454.6 375.1h.7M457.6 412.0h.7M462.5 401.6h.7M463.7 382.5h.7M472.9 402.4h.7M471.1 410.1h.7M450.4 414.0h.7M474.2 373.1h.7M474.5 380.9h.7M467.3 369.2h.7M452.2 408.4h.7M454.8 378.8h.7M479.3 370.6h.7M470.5 408.0h.7M445.3 383.9h.7M467.3 425.8h.7M444.1 372.9h.7M456.7 402.6h.7M440.3 379.5h.7M469.4 384.8h.7M486.8 366.6h.7M466.0 374.4h.7M464.2 402.7h.7M471.8 374.5h.7M453.6 405.0h.7M465.6 403.6h.7M476.6 386.1h.7M482.9 379.1h.7M464.5 380.5h.7M436.3 402.5h.7M464.2 414.9h.7M462.5 378.7h.7M460.6 369.7h.7M468.2 407.8h.7M465.6 389.2h.7M453.6 384.4h.7M446.8 362.8h.7M447.2 381.4h.7M469.2 401.1h.7M469.0 371.9h.7M467.8 399.6h.7M454.6 405.3h.7M450.9 394.6h.7M464.8 375.5h.7M473.5 379.5h.7M469.5 411.1h.7M482.0 406.6h.7M456.3 379.7h.7M460.8 408.5h.7M477.1 383.0h.7M445.7 375.8h.7M478.5 374.9h.7M468.9 412.3h.7M437.3 381.2h.7M461.5 401.5h.7M460.7 410.2h.7M447.9 371.9h.7M457.9 377.8h.7M461.1 403.2h.7M445.8 415.7h.7M466.8 413.6h.7M474.5 408.8h.7M464.8 412.4h.7M453.9 403.7h.7M460.7 396.1h.7M453.6 422.4h.7M461.1 408.2h.7M457.1 405.5h.7M472.7 387.8h.7M466.7 407.1h.7M478.2 380.8h.7M448.7 373.3h.7M461.8 398.6h.7M480.1 416.0h.7M460.6 381.0h.7M460.5 373.7h.7M465.1 386.2h.7M457.3 401.7h.7M449.8 383.0h.7M436.4 416.0h.7M462.8 409.1h.7M461.0 384.9h.7M462.5 410.2h.7M459.4 378.3h.7M458.0 367.7h.7M470.3 415.6h.7M459.9 377.3h.7M468.2 377.4h.7M451.9 394.2h.7M465.6 379.2h.7M450.8 420.3h.7M470.7 389.9h.7M451.0 415.5h.7M473.7 412.9h.7M461.2 380.1h.7M465.5 397.2h.7M451.7 392.8h.7M475.8 407.5h.7M465.3 419.9h.7M440.8 376.5h.7M471.6 365.6h.7M482.0 376.8h.7M442.3 401.2h.7M467.9 405.8h.7M461.3 425.2h.7M466.8 413.8h.7M454.3 395.0h.7M475.5 414.1h.7M450.1 361.5h.7M468.0 416.9h.7M454.5 410.6h.7M433.4 375.5h.7M466.8 417.6h.7M473.1 412.6h.7M458.6 373.7h.7M465.7 410.3h.7M474.8 410.9h.7M462.9 385.5h.7M460.5 404.4h.7M461.5 408.6h.7M458.6 418.9h.7M465.9 371.9h.7M459.7 409.4h.7M465.3 411.6h.7M459.4 380.3h.7M479.1 413.0h.7M460.6 415.6h.7M472.6 422.5h.7M464.6 386.1h.7M446.3 405.8h.7M468.4 381.3h.7M453.0 402.0h.7M479.9 399.1h.7M459.9 364.7h.7M469.1 414.3h.7M444.4 418.5h.7M466.5 366.6h.7M465.3 403.4h.7M453.2 417.2h.7M470.9 417.8h.7M462.1 388.7h.7M482.6 416.4h.7M470.2 386.1h.7M460.0 384.7h.7M491.3 377.3h.7M470.1 411.1h.7M454.3 378.6h.7M460.0 382.1h.7M481.0 370.6h.7M463.3 408.1h.7M465.1 403.2h.7M478.3 377.7h.7M457.5 369.0h.7M474.0 407.5h.7M462.6 386.2h.7M454.8 406.7h.7M460.2 401.0h.7M473.9 408.2h.7M470.1 387.1h.7M449.0 404.1h.7M457.0 409.7h.7M468.1 376.8h.7M459.2 394.9h.7M454.1 411.9h.7M455.4 375.2h.7M455.0 374.2h.7M431.8 376.9h.7M463.5 407.1h.7M481.1 370.9h.7M465.9 415.8h.7M453.6 418.5h.7M439.1 414.5h.7M468.0 373.9h.7M464.7 372.8h.7M459.0 401.1h.7M457.3 378.1h.7M455.5 414.3h.7M485.9 408.2h.7M452.7 407.6h.7M457.1 409.0h.7M459.2 399.2h.7M464.3 382.5h.7M459.5 415.9h.7M458.3 378.9h.7M456.7 362.8h.7M454.5 407.2h.7M479.0 378.5h.7M461.0 381.7h.7M471.4 399.4h.7M456.5 403.7h.7M462.1 375.4h.7M465.1 404.8h.7M448.1 416.5h.7M442.7 412.0h.7M469.0 409.8h.7M456.5 421.0h.7M446.4 405.7h.7M429.4 372.8h.7M428.4 375.6h.7M479.4 412.5h.7M458.8 377.5h.7M449.4 404.3h.7M462.7 407.6h.7M451.8 384.2h.7M448.7 413.7h.7M457.8 388.2h.7M457.8 374.0h.7M464.4 378.4h.7M440.3 376.5h.7M462.8 414.2h.7M461.1 401.5h.7M453.3 374.2h.7M450.3 374.7h.7M451.6 383.1h.7M451.3 418.0h.7M462.1 368.1h.7M447.5 415.4h.7M456.4 404.6h.7M463.9 407.5h.7M476.3 380.3h.7M458.5 377.7h.7M449.9 383.5h.7M466.2 368.9h.7M478.8 402.6h.7M458.9 403.5h.7M461.1 372.9h.7M473.4 404.3h.7M459.8 371.9h.7M457.8 386.6h.7M465.3 375.0h.7M455.7 410.5h.7M459.5 400.7h.7M473.9 407.6h.7M472.2 389.0h.7M459.0 406.8h.7M462.0 407.1h.7M456.4 423.6h.7M456.6 415.8h.7M459.3 381.6h.7M472.4 374.9h.7M479.0 378.0h.7M447.1 413.5h.7M473.6 373.0h.7M462.8 368.7h.7M469.2 399.2h.7M479.8 403.8h.7M450.5 415.5h.7M454.3 417.3h.7M455.5 384.9h.7M462.5 416.6h.7M444.8 403.8h.7M479.7 415.5h.7M463.6 406.9h.7M479.6 411.6h.7M453.1 375.4h.7M453.9 416.8h.7M442.4 377.2h.7M488.7 382.3h.7M468.8 381.8h.7M462.5 378.3h.7M449.8 414.7h.7M472.0 402.6h.7M479.9 406.2h.7M464.0 379.3h.7M472.3 400.2h.7M451.5 418.4h.7M470.2 411.6h.7M469.5 410.5h.7M454.8 415.9h.7M458.8 406.8h.7M459.4 384.7h.7M466.7 410.0h.7M458.6 407.7h.7M482.2 408.8h.7M465.6 391.7h.7M453.8 382.1h.7M455.5 387.3h.7M466.5 381.3h.7M466.7 413.3h.7M460.5 375.4h.7M465.6 415.2h.7M435.9 365.8h.7M488.7 379.7h.7M476.9 392.1h.7M473.8 402.4h.7M461.4 403.8h.7M459.3 381.6h.7M472.6 413.7h.7M450.0 395.7h.7M454.2 380.0h.7M469.9 407.4h.7M473.6 398.5h.7M436.8 411.1h.7M461.3 414.6h.7M471.0 409.7h.7M459.3 417.4h.7M435.7 378.8h.7M462.8 389.5h.7M443.9 423.3h.7M469.4 416.3h.7M455.2 380.9h.7M457.4 379.6h.7M473.6 382.7h.7M480.2 409.0h.7M461.7 408.7h.7M439.7 363.9h.7M479.8 382.1h.7M461.2 411.2h.7M452.7 417.6h.7M453.9 402.6h.7M460.8 401.6h.7M475.5 412.8h.7M476.3 378.2h.7M453.6 409.0h.7M467.1 400.4h.7M464.2 362.3h.7M455.7 397.8h.7M461.7 380.9h.7M455.5 405.0h.7M450.3 369.2h.7M463.4 400.4h.7M464.3 412.5h.7M449.1 408.5h.7M459.7 407.1h.7M449.5 375.2h.7M454.4 400.6h.7M468.9 421.0h.7M460.4 410.3h.7M478.4 377.4h.7M460.0 374.1h.7M462.1 400.9h.7M488.4 375.1h.7M442.1 367.8h.7M456.3 411.0h.7M466.4 411.5h.7M457.4 404.0h.7M467.0 410.1h.7M464.1 395.3h.7M461.0 379.3h.7M447.9 373.7h.7M482.6 385.4h.7M474.6 417.7h.7M464.5 369.7h.7M445.4 406.6h.7M464.0 386.2h.7M464.0 406.0h.7M457.2 402.2h.7M452.2 378.5h.7M457.0 415.7h.7M451.1 419.6h.7M458.7 377.8h.7M467.1 399.1h.7M481.4 372.8h.7M455.7 370.3h.7M457.1 414.2h.7M447.9 400.3h.7M477.3 415.2h.7M466.1 414.9h.7M478.1 391.1h.7M467.9 369.2h.7M459.7 401.3h.7M464.5 385.0h.7M456.6 406.2h.7M470.4 407.8h.7M468.6 411.6h.7M459.0 371.1h.7M460.6 378.3h.7M471.5 371.1h.7M472.5 411.0h.7M433.9 408.1h.7M457.6 408.5h.7M467.2 421.1h.7M448.7 410.9h.7M433.7 369.5h.7M472.2 373.8h.7" stroke="#9a9a9a" stroke-width="0.75"/>
<path d="M482.6 352.7h.7M461.8 355.7h.7M444.2 355.0h.7M449.6 370.1h.7M479.1 375.4h.7M454.3 357.4h.7M435.5 372.9h.7M454.5 358.6h.7M435.4 352.8h.7M434.6 371.5h.7M449.4 356.2h.7M449.7 370.5h.7M462.6 378.3h.7M446.2 370.4h.7M453.2 371.6h.7M429.0 371.2h.7M462.1 358.4h.7M431.7 373.4h.7M428.3 373.5h.7M431.1 351.6h.7M436.4 353.4h.7M437.4 374.1h.7M435.5 372.1h.7M466.7 355.9h.7M474.2 358.7h.7M483.8 359.2h.7M449.4 355.1h.7M448.9 356.6h.7M450.4 371.3h.7M445.2 353.1h.7M460.5 354.3h.7M440.5 371.0h.7M436.9 355.5h.7M464.8 357.7h.7M477.7 375.9h.7M453.1 358.0h.7M429.0 373.5h.7M450.5 373.4h.7M441.6 355.7h.7M458.2 357.8h.7M472.9 379.9h.7M458.1 376.6h.7M472.7 354.8h.7M433.8 355.7h.7M449.5 372.0h.7" stroke="#9a9a9a" stroke-width="0.75"/>
<path d="M421.1 358.5l3.6 -1.2 3.6 -0.8 4 -0.5 3.6 -0.1 4.4 0.1 4.8 0.7 3.2 0.8 4.6 1.5 1.8 0.3 1.6 -0.1 4.8 -0.8 2.8 -0.3 3.2 -0.1 3.2 0.3 4.4 1 2 0.7 2 1.1 1.4 1.1 1.1 1.2 0.6 1.2 0.2 1.6 -0.3 1.6 -1 1.6 -4.4 4 -3.2 3.4 -1.2 0.9 -1.2 0.6 -2.4 0.5 -2 -0.2 -2 -0.8 -5 -3.6 -7 -3.7 -1.6 -0.6 -2 -0.1 -8.4 1.2 -6.4 0.1 -3.6 -0.3 -3.2 -0.5 -3.2 -0.8 -2.8 -1z" fill="#000" fill-opacity="0.1" stroke="none"/>
<path d="M421.1 359.9l2.4 -1.2 3.6 -1.1 4.4 -0.7 4.4 -0.2 4.4 0.2 4.8 0.7 2.8 0.8 5.2 2.3 1.6 0.4 1.9 -0.1 4.1 -1 2.8 -0.4 2.8 -0.1 2.4 0.1 4 0.8 2 0.8 1.6 0.8 1.2 1 0.8 0.9 0.6 1.1 0.1 1.2 -0.2 1.2 -0.7 1.2 -2.2 2.2 -5.2 3.6 -1.6 0.6 -1.2 0.2 -1.6 -0.2 -2 -0.7 -6.8 -3.2 -4 -2.4 -1.2 -0.5 -2 0 -6 1.4 -3.2 0.5 -3.6 0.2 -3.2 0 -4 -0.3 -3.6 -0.7 -3.2 -1 -2.4 -1.2z" fill="#000" fill-opacity="0.1" stroke="none"/>
<path d="M421.1 361.5l1.2 -1.1 1.6 -0.9 2 -0.7 2.8 -0.8 5.2 -0.6 5.6 0.1 4 0.6 4 1.2 2.7 1.3 3.7 2.9 0.8 0.3 1.2 -0.3 4.3 -1.7 2.9 -0.7 3.6 -0.1 3.6 0.4 2.4 0.8 2 1.2 1.1 1.2 0.4 1.6 -0.1 0.8 -0.7 1.2 -1.1 1.2 -1.2 0.9 -3.2 1.6 -2.8 0.4 -1.6 -0.1 -2 -0.5 -4 -1.6 -2.4 -1.5 -2.4 -2.5 -0.8 -0.4 -1.2 0.1 -4.4 1.8 -4 1.2 -4.4 0.7 -4 0.2 -5.2 -0.4 -4 -0.8 -3.2 -1.2 -1.2 -0.7 -1.2 -1.1z" fill="#000" fill-opacity="0.1" stroke="none"/>
<path d="M438.3 369l-3.2 0.1 -3.6 -0.3 -2.8 -0.5 -2.8 -0.8 -2 -1 -1.4 -1.1 -0.8 -1.2 -0.1 -0.8 0.2 -0.8 0.9 -1.2 1 -0.8 1.5 -0.8 1.9 -0.7 4.8 -1 4.8 -0.2 5.2 0.5 4 1 3.1 1.6 1 0.8 0.8 1.2 0.1 1.2 -0.4 0.8 -0.9 0.8 -1.7 1 -2 0.8 -2.4 0.7 -5.2 0.7zM468.3 370.3l-1.6 0.1 -2 -0.2 -2 -0.5 -1.6 -0.7 -1.2 -0.8 -1.1 -1.2 -0.3 -1.2 0.3 -0.8 0.7 -0.8 1.3 -0.8 1.5 -0.6 2 -0.4 2 0 2 0.1 1.9 0.5 1.3 0.6 0.9 0.6 0.7 0.8 0.3 0.8 -0.1 1.2 -0.8 1.2 -1 0.8 -1.6 0.8 -1.6 0.5z" fill="#000" fill-opacity="0.1" stroke="none"/>
<path d="M440.3 368.2l-3.2 0.3 -3.2 0 -3.2 -0.4 -2.4 -0.6 -2.5 -0.9 -1.8 -1.2 -0.8 -1.2 -0.1 -1.2 0.4 -0.8 0.7 -0.8 1.2 -0.8 1.7 -0.8 3.6 -0.9 4.4 -0.4 4.4 0.2 4 0.7 3.1 1.2 1.3 0.8 0.8 0.8 0.5 1.2 -0.1 0.8 -0.5 0.8 -0.9 0.8 -3 1.5 -4.4 0.9zM467.1 367.8l-1.6 0 -1.4 -0.4 -0.9 -0.8 0 -0.8 0.7 -0.7 1.2 -0.4 1.6 0 1.3 0.3 1 0.8 0.1 0.8 -0.8 0.8 -1.2 0.4z" fill="#000" fill-opacity="0.1" stroke="none"/>
<path d="M438.7 367.8l-2.8 0.2 -2.8 -0.2 -2.4 -0.3 -2.4 -0.7 -2 -0.9 -1.1 -0.9 -0.5 -0.8 -0.1 -1.2 0.4 -0.8 0.9 -0.8 2.4 -1.2 3.6 -0.9 3.6 -0.3 4 0.3 3.6 0.7 2.8 1.2 1.4 1.4 0.3 0.8 -0.1 0.8 -0.6 0.8 -1 0.8 -1.6 0.8 -1.6 0.5 -4 0.7z" fill="#000" fill-opacity="0.1" stroke="none"/>
<path d="M439.9 367l-2.4 0.3 -2.8 0 -2.4 -0.2 -2.2 -0.5 -2 -0.8 -1.2 -0.8 -0.6 -0.8 -0.1 -1.2 0.9 -1.2 2 -1.1 2.8 -0.7 3.2 -0.3 3.2 0.1 2.8 0.4 2.4 0.8 1.9 1.2 0.5 0.8 0 0.8 -0.7 1.2 -2.1 1.2 -3.2 0.8z" fill="#000" fill-opacity="0.1" stroke="none"/>
<path d="M437.5 366.6l-3.6 -0.1 -3.5 -0.7 -0.9 -0.4 -1.1 -0.8 -0.5 -0.8 0.1 -0.8 1.1 -1.2 1.6 -0.7 2.4 -0.5 2.8 -0.3 2.8 0.2 2.4 0.5 1.7 0.8 1.2 1.2 0.1 0.8 -0.2 0.4 -1.4 1.2 -2.3 0.8 -2.7 0.4z" fill="#000" fill-opacity="0.1" stroke="none"/>
<path d="M439.1 365.5l-3.2 0.3 -3.2 -0.4 -1.9 -0.8 -0.5 -0.5 -0.2 -0.7 0.5 -0.8 0.5 -0.4 2 -0.7 2.8 -0.3 2.8 0.3 2.2 0.7 0.6 0.5 0.4 0.7 -0.3 0.8 -0.4 0.4 -2.1 0.9z" fill="#000" fill-opacity="0.1" stroke="none"/>
<path d="M421.1 358.5l3.6 -1.2 3.6 -0.8 4 -0.5 3.6 -0.1 4.4 0.1 4.8 0.7 3.2 0.8 4.6 1.5 1.8 0.3 1.6 -0.1 4.8 -0.8 2.8 -0.3 3.2 -0.1 3.2 0.3 4.4 1 2 0.7 2 1.1 1.4 1.1 1.1 1.2 0.6 1.2 0.2 1.6 -0.3 1.6 -1 1.6 -4.4 4 -3.2 3.4 -1.2 0.9 -1.2 0.6 -2.4 0.5 -2 -0.2 -2 -0.8 -5 -3.6 -7 -3.7 -1.6 -0.6 -2 -0.1 -8.4 1.2 -6.4 0.1 -3.6 -0.3 -3.2 -0.5 -3.2 -0.8 -2.8 -1z" fill="none" stroke="#333" stroke-width="0.5"/>
<path d="M421.1 359.9l2.4 -1.2 3.6 -1.1 4.4 -0.7 4.4 -0.2 4.4 0.2 4.8 0.7 2.8 0.8 5.2 2.3 1.6 0.4 1.9 -0.1 4.1 -1 2.8 -0.4 2.8 -0.1 2.4 0.1 4 0.8 2 0.8 1.6 0.8 1.2 1 0.8 0.9 0.6 1.1 0.1 1.2 -0.2 1.2 -0.7 1.2 -2.2 2.2 -5.2 3.6 -1.6 0.6 -1.2 0.2 -1.6 -0.2 -2 -0.7 -6.8 -3.2 -4 -2.4 -1.2 -0.5 -2 0 -6 1.4 -3.2 0.5 -3.6 0.2 -3.2 0 -4 -0.3 -3.6 -0.7 -3.2 -1 -2.4 -1.2z" fill="none" stroke="#333" stroke-width="0.5"/>
<path d="M421.1 361.5l1.2 -1.1 1.6 -0.9 2 -0.7 2.8 -0.8 5.2 -0.6 5.6 0.1 4 0.6 4 1.2 2.7 1.3 3.7 2.9 0.8 0.3 1.2 -0.3 4.3 -1.7 2.9 -0.7 3.6 -0.1 3.6 0.4 2.4 0.8 2 1.2 1.1 1.2 0.4 1.6 -0.1 0.8 -0.7 1.2 -1.1 1.2 -1.2 0.9 -3.2 1.6 -2.8 0.4 -1.6 -0.1 -2 -0.5 -4 -1.6 -2.4 -1.5 -2.4 -2.5 -0.8 -0.4 -1.2 0.1 -4.4 1.8 -4 1.2 -4.4 0.7 -4 0.2 -5.2 -0.4 -4 -0.8 -3.2 -1.2 -1.2 -0.7 -1.2 -1.1z" fill="none" stroke="#333" stroke-width="0.5"/>
<path d="M438.3 369l-3.2 0.1 -3.6 -0.3 -2.8 -0.5 -2.8 -0.8 -2 -1 -1.4 -1.1 -0.8 -1.2 -0.1 -0.8 0.2 -0.8 0.9 -1.2 1 -0.8 1.5 -0.8 1.9 -0.7 4.8 -1 4.8 -0.2 5.2 0.5 4 1 3.1 1.6 1 0.8 0.8 1.2 0.1 1.2 -0.4 0.8 -0.9 0.8 -1.7 1 -2 0.8 -2.4 0.7 -5.2 0.7zM468.3 370.3l-1.6 0.1 -2 -0.2 -2 -0.5 -1.6 -0.7 -1.2 -0.8 -1.1 -1.2 -0.3 -1.2 0.3 -0.8 0.7 -0.8 1.3 -0.8 1.5 -0.6 2 -0.4 2 0 2 0.1 1.9 0.5 1.3 0.6 0.9 0.6 0.7 0.8 0.3 0.8 -0.1 1.2 -0.8 1.2 -1 0.8 -1.6 0.8 -1.6 0.5z" fill="none" stroke="#333" stroke-width="0.5"/>
<path d="M440.3 368.2l-3.2 0.3 -3.2 0 -3.2 -0.4 -2.4 -0.6 -2.5 -0.9 -1.8 -1.2 -0.8 -1.2 -0.1 -1.2 0.4 -0.8 0.7 -0.8 1.2 -0.8 1.7 -0.8 3.6 -0.9 4.4 -0.4 4.4 0.2 4 0.7 3.1 1.2 1.3 0.8 0.8 0.8 0.5 1.2 -0.1 0.8 -0.5 0.8 -0.9 0.8 -3 1.5 -4.4 0.9zM467.1 367.8l-1.6 0 -1.4 -0.4 -0.9 -0.8 0 -0.8 0.7 -0.7 1.2 -0.4 1.6 0 1.3 0.3 1 0.8 0.1 0.8 -0.8 0.8 -1.2 0.4z" fill="none" stroke="#333" stroke-width="0.5"/>
<path d="M438.7 367.8l-2.8 0.2 -2.8 -0.2 -2.4 -0.3 -2.4 -0.7 -2 -0.9 -1.1 -0.9 -0.5 -0.8 -0.1 -1.2 0.4 -0.8 0.9 -0.8 2.4 -1.2 3.6 -0.9 3.6 -0.3 4 0.3 3.6 0.7 2.8 1.2 1.4 1.4 0.3 0.8 -0.1 0.8 -0.6 0.8 -1 0.8 -1.6 0.8 -1.6 0.5 -4 0.7z" fill="none" stroke="#333" stroke-width="0.5"/>
<path d="M439.9 367l-2.4 0.3 -2.8 0 -2.4 -0.2 -2.2 -0.5 -2 -0.8 -1.2 -0.8 -0.6 -0.8 -0.1 -1.2 0.9 -1.2 2 -1.1 2.8 -0.7 3.2 -0.3 3.2 0.1 2.8 0.4 2.4 0.8 1.9 1.2 0.5 0.8 0 0.8 -0.7 1.2 -2.1 1.2 -3.2 0.8z" fill="none" stroke="#333" stroke-width="0.5"/>
<path d="M437.5 366.6l-3.6 -0.1 -3.5 -0.7 -0.9 -0.4 -1.1 -0.8 -0.5 -0.8 0.1 -0.8 1.1 -1.2 1.6 -0.7 2.4 -0.5 2.8 -0.3 2.8 0.2 2.4 0.5 1.7 0.8 1.2 1.2 0.1 0.8 -0.2 0.4 -1.4 1.2 -2.3 0.8 -2.7 0.4z" fill="none" stroke="#333" stroke-width="0.5"/>
<path d="M439.1 365.5l-3.2 0.3 -3.2 -0.4 -1.9 -0.8 -0.5 -0.5 -0.2 -0.7 0.5 -0.8 0.5 -0.4 2 -0.7 2.8 -0.3 2.8 0.3 2.2 0.7 0.6 0.5 0.4 0.7 -0.3 0.8 -0.4 0.4 -2.1 0.9z" fill="none" stroke="#333" stroke-width="0.5"/>
<path d="M439.9 367l-2.4 0.3 -2.8 0 -2.4 -0.2 -2.2 -0.5 -2 -0.8 -1.2 -0.8 -0.6 -0.8 -0.1 -1.2 0.9 -1.2 2 -1.1 2.8 -0.7 3.2 -0.3 3.2 0.1 2.8 0.4 2.4 0.8 1.9 1.2 0.5 0.8 0 0.8 -0.7 1.2 -2.1 1.2 -3.2 0.8z" fill="#111" stroke="none"/>
<path d="M431.1 425.7h.7M435.8 395.4h.7M447.5 423.8h.7M450.9 427.6h.7M430.8 398.5h.7M431.5 397.8h.7M428.5 401.8h.7M449.7 424.1h.7M446.2 425.0h.7M443.7 425.5h.7M432.9 427.4h.7M457.8 406.9h.7M430.5 399.4h.7M434.8 389.5h.7M457.7 408.8h.7M435.4 425.9h.7M435.6 395.6h.7M458.6 404.8h.7M453.7 410.7h.7M454.4 405.5h.7M446.0 424.5h.7M440.9 392.8h.7M436.6 427.6h.7M437.9 428.1h.7M435.2 394.3h.7M434.0 427.4h.7M436.1 389.6h.7M446.6 393.2h.7M456.4 410.2h.7M454.4 406.2h.7M431.0 397.4h.7M452.3 417.6h.7M446.3 398.0h.7M450.4 394.3h.7M443.8 426.9h.7M446.4 398.2h.7M429.3 394.5h.7M430.9 397.1h.7M436.9 392.9h.7M451.3 422.6h.7M429.7 393.1h.7M432.3 396.5h.7M443.9 391.5h.7M429.1 420.9h.7M432.9 396.2h.7M452.4 411.4h.7M455.1 415.6h.7M428.1 402.7h.7M434.2 427.6h.7M451.0 397.2h.7M453.4 410.5h.7M453.4 399.5h.7" stroke="#9a9a9a" stroke-width="0.75"/>
<path d="M439.9 426.2l-2.4 0 -2.4 -0.6 -2.4 -1.2 -2.4 -2 -1.7 -2.2 -1.3 -2.4 -0.9 -2.8 -0.5 -3.2 0.2 -3.2 0.7 -3.2 1.3 -2.8 1.3 -2 2 -2 2.1 -1.4 2.8 -1.1 2.4 -0.4 2.4 0.2 2.4 0.8 2.4 1.3 2 1.8 1.8 2.4 1.2 2.4 0.8 2.8 0.4 2.8 -0.1 2.8 -0.7 3.2 -1.2 2.8 -1.2 2 -1.8 2 -2.4 1.7 -2.4 1.1 -2.4 0.4z" fill="#000" fill-opacity="0.1" stroke="none"/>
<path d="M439.9 424.6l-2.4 -0.1 -2 -0.5 -2.4 -1.2 -1.7 -1.4 -1.6 -2 -1.3 -2.4 -0.8 -2.4 -0.4 -2.8 0.1 -2.8 0.6 -2.8 1 -2.4 1.3 -2 2 -2 2 -1.3 2.4 -0.9 2 -0.3 2.4 0.3 2 0.6 2 1.1 1.9 1.7 1.5 2 1.2 2.4 0.7 2.4 0.3 2.4 -0.1 2.8 -0.5 2.4 -1.1 2.8 -1.3 2 -1.5 1.6 -1.9 1.4 -2 0.9 -2.4 0.5z" fill="#000" fill-opacity="0.1" stroke="none"/>
<path d="M441.1 423l-2 0.3 -2 -0.2 -2 -0.7 -2 -1.2 -1.6 -1.6 -1.3 -1.8 -1 -2.4 -0.6 -2.4 -0.1 -2.4 0.2 -2.4 0.6 -2 1.2 -2.4 1.5 -2 1.9 -1.6 2 -0.9 2 -0.5 2 0 2 0.4 2 0.9 1.6 1.2 1.5 1.7 1 1.6 0.8 2 0.6 2.4 0.1 2 -0.2 2.4 -0.5 2 -1 2.4 -1.5 2 -1.6 1.5 -1.6 1 -2 0.7z" fill="#000" fill-opacity="0.1" stroke="none"/>
<path d="M441.1 421.9l-1.6 0.3 -2 -0.2 -2 -0.6 -1.6 -0.9 -1.6 -1.5 -1.2 -1.6 -0.9 -2 -0.6 -2.4 -0.2 -2.4 0.3 -2.4 0.6 -2 1.1 -2 1.3 -1.6 1.6 -1.3 1.6 -0.9 2 -0.5 2 0 1.6 0.3 1.6 0.7 1.6 1.1 1.3 1.4 1.1 1.6 0.8 2 0.5 2 0.2 2.4 -0.2 2 -0.6 2 -0.9 2 -1.2 1.6 -1.4 1.3 -1.6 1 -1.6 0.6z" fill="#000" fill-opacity="0.1" stroke="none"/>
<path d="M439.9 421l-1.6 0 -1.6 -0.3 -1.6 -0.7 -1.6 -1.3 -1.2 -1.3 -0.9 -1.6 -0.7 -2 -0.3 -2 0 -2 0.4 -2 0.6 -1.6 0.9 -1.6 1.2 -1.3 1.6 -1.3 1.6 -0.7 1.6 -0.3 2 0.1 1.6 0.4 1.6 0.9 1.1 1 1.3 1.6 0.9 1.6 0.5 1.6 0.3 2 0 1.6 -0.3 2 -0.7 2 -0.9 1.6 -1.4 1.5 -1.2 1 -1.6 0.7 -1.6 0.4z" fill="#000" fill-opacity="0.1" stroke="none"/>
<path d="M439.9 419.9l-1.6 0 -1.2 -0.3 -1.6 -0.7 -1.2 -0.9 -1.2 -1.3 -0.8 -1.3 -0.6 -1.6 -0.3 -2 0 -2 0.3 -1.6 0.6 -1.6 0.8 -1.3 1.2 -1.3 1.2 -0.9 1.2 -0.6 1.6 -0.4 1.6 0 1.2 0.3 1.6 0.8 1.2 1 1.1 1.2 0.8 1.6 0.6 1.6 0.2 1.6 0 1.6 -0.2 1.6 -0.6 1.6 -0.8 1.6 -1.1 1.2 -1.2 1 -1.2 0.6 -1.6 0.5z" fill="#000" fill-opacity="0.1" stroke="none"/>
<path d="M439.9 418.6l-1.6 0.1 -1.2 -0.3 -1.2 -0.6 -1 -0.8 -1 -1.1 -0.7 -1.3 -0.5 -1.2 -0.3 -1.6 0.2 -2.8 0.6 -1.6 0.6 -1.2 0.9 -1 1.2 -1 1.2 -0.6 1.2 -0.3 1.2 0 1.2 0.3 1.2 0.5 1.2 0.9 1.1 1.2 0.6 1.2 0.5 1.2 0.3 1.6 -0.2 2.8 -0.6 1.6 -0.6 1.2 -1.1 1.2 -0.8 0.7 -1.2 0.6 -1.2 0.3z" fill="#000" fill-opacity="0.1" stroke="none"/>
<path d="M440.3 417.1l-1.2 0.2 -1.2 -0.1 -2 -1 -1.3 -1.6 -0.9 -2.4 0 -2.4 0.9 -2.4 0.9 -1.2 0.8 -0.7 2 -0.8 2 0.2 1.8 0.9 1.4 1.7 0.8 2.3 0 2.4 -0.8 2.3 -1.4 1.7 -1.8 0.9z" fill="#000" fill-opacity="0.1" stroke="none"/>
<path d="M439.9 415.5l-1.6 0 -1.6 -0.8 -1.1 -1.3 -0.5 -1.6 0.1 -2 0.7 -1.6 1.2 -1.2 1.2 -0.5 1.6 0 1.2 0.6 1.2 1.4 0.6 1.7 0 1.6 -0.6 1.7 -1.2 1.4 -1.2 0.6z" fill="#000" fill-opacity="0.1" stroke="none"/>
<path d="M439.9 426.2l-2.4 0 -2.4 -0.6 -2.4 -1.2 -2.4 -2 -1.7 -2.2 -1.3 -2.4 -0.9 -2.8 -0.5 -3.2 0.2 -3.2 0.7 -3.2 1.3 -2.8 1.3 -2 2 -2 2.1 -1.4 2.8 -1.1 2.4 -0.4 2.4 0.2 2.4 0.8 2.4 1.3 2 1.8 1.8 2.4 1.2 2.4 0.8 2.8 0.4 2.8 -0.1 2.8 -0.7 3.2 -1.2 2.8 -1.2 2 -1.8 2 -2.4 1.7 -2.4 1.1 -2.4 0.4z" fill="none" stroke="#333" stroke-width="0.5"/>
<path d="M439.9 424.6l-2.4 -0.1 -2 -0.5 -2.4 -1.2 -1.7 -1.4 -1.6 -2 -1.3 -2.4 -0.8 -2.4 -0.4 -2.8 0.1 -2.8 0.6 -2.8 1 -2.4 1.3 -2 2 -2 2 -1.3 2.4 -0.9 2 -0.3 2.4 0.3 2 0.6 2 1.1 1.9 1.7 1.5 2 1.2 2.4 0.7 2.4 0.3 2.4 -0.1 2.8 -0.5 2.4 -1.1 2.8 -1.3 2 -1.5 1.6 -1.9 1.4 -2 0.9 -2.4 0.5z" fill="none" stroke="#333" stroke-width="0.5"/>
<path d="M441.1 423l-2 0.3 -2 -0.2 -2 -0.7 -2 -1.2 -1.6 -1.6 -1.3 -1.8 -1 -2.4 -0.6 -2.4 -0.1 -2.4 0.2 -2.4 0.6 -2 1.2 -2.4 1.5 -2 1.9 -1.6 2 -0.9 2 -0.5 2 0 2 0.4 2 0.9 1.6 1.2 1.5 1.7 1 1.6 0.8 2 0.6 2.4 0.1 2 -0.2 2.4 -0.5 2 -1 2.4 -1.5 2 -1.6 1.5 -1.6 1 -2 0.7z" fill="none" stroke="#333" stroke-width="0.5"/>
<path d="M441.1 421.9l-1.6 0.3 -2 -0.2 -2 -0.6 -1.6 -0.9 -1.6 -1.5 -1.2 -1.6 -0.9 -2 -0.6 -2.4 -0.2 -2.4 0.3 -2.4 0.6 -2 1.1 -2 1.3 -1.6 1.6 -1.3 1.6 -0.9 2 -0.5 2 0 1.6 0.3 1.6 0.7 1.6 1.1 1.3 1.4 1.1 1.6 0.8 2 0.5 2 0.2 2.4 -0.2 2 -0.6 2 -0.9 2 -1.2 1.6 -1.4 1.3 -1.6 1 -1.6 0.6z" fill="none" stroke="#333" stroke-width="0.5"/>
<path d="M439.9 421l-1.6 0 -1.6 -0.3 -1.6 -0.7 -1.6 -1.3 -1.2 -1.3 -0.9 -1.6 -0.7 -2 -0.3 -2 0 -2 0.4 -2 0.6 -1.6 0.9 -1.6 1.2 -1.3 1.6 -1.3 1.6 -0.7 1.6 -0.3 2 0.1 1.6 0.4 1.6 0.9 1.1 1 1.3 1.6 0.9 1.6 0.5 1.6 0.3 2 0 1.6 -0.3 2 -0.7 2 -0.9 1.6 -1.4 1.5 -1.2 1 -1.6 0.7 -1.6 0.4z" fill="none" stroke="#333" stroke-width="0.5"/>
<path d="M439.9 419.9l-1.6 0 -1.2 -0.3 -1.6 -0.7 -1.2 -0.9 -1.2 -1.3 -0.8 -1.3 -0.6 -1.6 -0.3 -2 0 -2 0.3 -1.6 0.6 -1.6 0.8 -1.3 1.2 -1.3 1.2 -0.9 1.2 -0.6 1.6 -0.4 1.6 0 1.2 0.3 1.6 0.8 1.2 1 1.1 1.2 0.8 1.6 0.6 1.6 0.2 1.6 0 1.6 -0.2 1.6 -0.6 1.6 -0.8 1.6 -1.1 1.2 -1.2 1 -1.2 0.6 -1.6 0.5z" fill="none" stroke="#333" stroke-width="0.5"/>
<path d="M439.9 418.6l-1.6 0.1 -1.2 -0.3 -1.2 -0.6 -1 -0.8 -1 -1.1 -0.7 -1.3 -0.5 -1.2 -0.3 -1.6 0.2 -2.8 0.6 -1.6 0.6 -1.2 0.9 -1 1.2 -1 1.2 -0.6 1.2 -0.3 1.2 0 1.2 0.3 1.2 0.5 1.2 0.9 1.1 1.2 0.6 1.2 0.5 1.2 0.3 1.6 -0.2 2.8 -0.6 1.6 -0.6 1.2 -1.1 1.2 -0.8 0.7 -1.2 0.6 -1.2 0.3z" fill="none" stroke="#333" stroke-width="0.5"/>
<path d="M440.3 417.1l-1.2 0.2 -1.2 -0.1 -2 -1 -1.3 -1.6 -0.9 -2.4 0 -2.4 0.9 -2.4 0.9 -1.2 0.8 -0.7 2 -0.8 2 0.2 1.8 0.9 1.4 1.7 0.8 2.3 0 2.4 -0.8 2.3 -1.4 1.7 -1.8 0.9z" fill="none" stroke="#333" stroke-width="0.5"/>
<path d="M439.9 415.5l-1.6 0 -1.6 -0.8 -1.1 -1.3 -0.5 -1.6 0.1 -2 0.7 -1.6 1.2 -1.2 1.2 -0.5 1.6 0 1.2 0.6 1.2 1.4 0.6 1.7 0 1.6 -0.6 1.7 -1.2 1.4 -1.2 0.6z" fill="none" stroke="#333" stroke-width="0.5"/>
<path d="M440.3 417.1l-1.2 0.2 -1.2 -0.1 -2 -1 -1.3 -1.6 -0.9 -2.4 0 -2.4 0.9 -2.4 0.9 -1.2 0.8 -0.7 2 -0.8 2 0.2 1.8 0.9 1.4 1.7 0.8 2.3 0 2.4 -0.8 2.3 -1.4 1.7 -1.8 0.9z" fill="#111" stroke="none"/>
<path d="M448.2 400.4h.7M482.4 403.6h.7M462.5 425.9h.7M450.8 410.9h.7M466.6 424.1h.7M473.3 422.5h.7M455.5 404.5h.7M460.7 421.8h.7M474.5 420.7h.7M476.5 402.6h.7M461.8 402.5h.7M457.5 403.5h.7M489.9 424.9h.7M485.4 412.7h.7M473.6 401.5h.7M448.5 408.2h.7M474.9 403.5h.7M454.5 418.2h.7M458.5 402.0h.7M452.6 405.5h.7M453.2 420.4h.7M483.4 414.6h.7M464.1 401.6h.7M477.0 421.5h.7M480.2 405.3h.7M485.0 418.2h.7M466.7 399.1h.7M445.5 407.8h.7M450.0 414.8h.7M481.2 407.5h.7M458.8 400.2h.7M484.5 410.6h.7M460.2 427.4h.7M478.7 404.6h.7M455.9 402.9h.7M458.0 400.3h.7M474.7 428.0h.7M484.2 415.6h.7M469.9 399.1h.7M477.4 404.1h.7M450.0 416.5h.7M454.7 420.6h.7M475.3 424.3h.7M488.2 417.0h.7M444.3 411.7h.7M481.8 409.2h.7M448.1 413.0h.7M482.2 409.0h.7M490.1 406.1h.7M462.7 426.8h.7M452.8 417.5h.7M464.5 422.0h.7M462.9 424.5h.7M484.5 411.1h.7M480.2 406.5h.7" stroke="#9a9a9a" stroke-width="0.75"/>
<path d="M468.7 421.4l-4 0.1 -4.4 -0.6 -3.6 -1.3 -1.6 -0.9 -1.6 -1.2 -1.8 -2.1 -0.7 -1.6 -0.3 -1.2 0.1 -1.6 0.3 -1.2 0.6 -1.2 0.9 -1.2 2.1 -1.8 3.2 -1.7 3.6 -1 3.6 -0.5 4 0.2 3.2 0.7 3.2 1.2 2.8 1.8 1.7 1.9 0.7 1.2 0.4 1.2 0.2 1.2 -0.1 1.2 -0.3 1.2 -0.6 1.2 -1.7 2 -2.7 1.9 -3.6 1.4 -3.6 0.7z" fill="none" stroke="#333" stroke-width="0.55"/>
<path d="M468.7 417.4l-2.4 0.3 -2.8 -0.2 -2.4 -0.7 -1.9 -1 -1.3 -1.2 -0.9 -1.6 -0.1 -1.6 0.7 -1.6 1.1 -1.2 1.6 -1 2 -0.8 2 -0.4 2.4 -0.1 2.4 0.3 2 0.7 1.7 0.9 1.3 1.2 0.7 1.2 0.3 1.2 -0.3 1.6 -0.7 1.2 -1.4 1.3 -2 1 -2 0.5z" fill="none" stroke="#333" stroke-width="0.55"/>
</g>
<rect x="427.10" y="343.40" width="85.90" height="85.50" fill="none" stroke="#444" stroke-width="0.9"/>
<line x1="453.20" y1="343.40" x2="453.20" y2="428.90" stroke="#444" stroke-width="0.9" />
<line x1="427.10" y1="389.30" x2="513.00" y2="389.30" stroke="#444" stroke-width="0.9" />
<line x1="427.10" y1="343.40" x2="427.10" y2="428.90" stroke="#222" stroke-width="1.1" />
<line x1="427.10" y1="428.90" x2="513.00" y2="428.90" stroke="#222" stroke-width="1.1" />
<path d="M423.5 409.6H427.1M424.9 403.8H427.1M424.9 400.4H427.1M424.9 398.0H427.1M424.9 396.1H427.1M424.9 394.6H427.1M424.9 393.3H427.1M424.9 392.2H427.1M424.9 391.2H427.1M423.5 390.3H427.1M424.9 384.5H427.1M424.9 381.1H427.1M424.9 378.7H427.1M424.9 376.8H427.1M424.9 375.3H427.1M424.9 374.0H427.1M424.9 372.9H427.1M424.9 371.9H427.1M423.5 371.0H427.1M424.9 365.2H427.1M424.9 361.8H427.1M424.9 359.4H427.1M424.9 357.5H427.1M424.9 356.0H427.1M424.9 354.7H427.1M424.9 353.6H427.1M424.9 352.6H427.1M423.5 351.7H427.1M423.5 419.4H427.1M424.9 414.4H427.1M424.9 424.4H427.1M442.7 428.9V432.5M448.7 428.9V431.1M452.2 428.9V431.1M454.7 428.9V431.1M456.7 428.9V431.1M458.2 428.9V431.1M459.6 428.9V431.1M460.7 428.9V431.1M461.8 428.9V431.1M462.7 428.9V432.5M468.7 428.9V431.1M472.2 428.9V431.1M474.7 428.9V431.1M476.6 428.9V431.1M478.2 428.9V431.1M479.5 428.9V431.1M480.7 428.9V431.1M481.7 428.9V431.1M482.6 428.9V432.5M488.6 428.9V431.1M492.2 428.9V431.1M494.7 428.9V431.1M496.6 428.9V431.1M498.2 428.9V431.1M499.5 428.9V431.1M500.7 428.9V431.1M501.7 428.9V431.1M502.6 428.9V432.5M433.4 428.9V432.5M429.1 428.9V431.1M437.6 428.9V431.1" stroke="#000" stroke-width="1.0"/>
<text x="421.10" y="354.40" font-size="7.6" text-anchor="end" fill="#222" stroke="#222" stroke-width="0.2">10<tspan dy="-3.2" font-size="5.62">5</tspan></text>
<text x="421.10" y="373.90" font-size="7.6" text-anchor="end" fill="#222" stroke="#222" stroke-width="0.2">10<tspan dy="-3.2" font-size="5.62">4</tspan></text>
<text x="421.10" y="393.10" font-size="7.6" text-anchor="end" fill="#222" stroke="#222" stroke-width="0.2">10<tspan dy="-3.2" font-size="5.62">3</tspan></text>
<text x="421.10" y="412.30" font-size="7.6" text-anchor="end" fill="#222" stroke="#222" stroke-width="0.2">10<tspan dy="-3.2" font-size="5.62">2</tspan></text>
<text x="421.10" y="422.10" font-size="7.6" text-anchor="end" fill="#222" font-weight="normal" font-style="normal" stroke="#222" stroke-width="0.1" >0</text>
<text x="434.90" y="442.70" font-size="7.6" text-anchor="middle" fill="#222" font-weight="normal" font-style="normal" stroke="#222" stroke-width="0.1" >0</text>
<text x="444.30" y="442.70" font-size="7.6" text-anchor="middle" fill="#222" stroke="#222" stroke-width="0.2">10<tspan dy="-3.2" font-size="5.62">2</tspan></text>
<text x="464.90" y="442.70" font-size="7.6" text-anchor="middle" fill="#222" stroke="#222" stroke-width="0.2">10<tspan dy="-3.2" font-size="5.62">3</tspan></text>
<text x="485.20" y="442.70" font-size="7.6" text-anchor="middle" fill="#222" stroke="#222" stroke-width="0.2">10<tspan dy="-3.2" font-size="5.62">4</tspan></text>
<text x="504.30" y="442.70" font-size="7.6" text-anchor="middle" fill="#222" stroke="#222" stroke-width="0.2">10<tspan dy="-3.2" font-size="5.62">5</tspan></text>
<text x="430.90" y="351.50" font-size="6.8" text-anchor="start" fill="#111" font-weight="normal" font-style="normal" stroke="#111" stroke-width="0.1" letter-spacing="0.25">27.4</text>
<text x="510.60" y="351.50" font-size="6.8" text-anchor="end" fill="#111" font-weight="normal" font-style="normal" stroke="#111" stroke-width="0.1" letter-spacing="0.25">16.1</text>
<rect x="429.70" y="416.50" width="20.40" height="11.60" fill="#fff" />
<text x="431.00" y="425.20" font-size="6.8" text-anchor="start" fill="#111" font-weight="normal" font-style="normal" stroke="#111" stroke-width="0.1" letter-spacing="0.25">52.3</text>
<text x="510.60" y="425.20" font-size="6.8" text-anchor="end" fill="#111" font-weight="normal" font-style="normal" stroke="#111" stroke-width="0.1" letter-spacing="0.25">4.18</text>
<line x1="294.60" y1="321.70" x2="294.60" y2="282.80" stroke="#111" stroke-width="1.1" />
<line x1="294.05" y1="321.70" x2="328.90" y2="321.70" stroke="#111" stroke-width="1.1" />
<polygon points="294.60,279.80 292.40,284.80 296.80,284.80" fill="#111"/>
<polygon points="331.90,321.70 326.90,319.50 326.90,323.90" fill="#111"/>
<text transform="translate(288.70,301.00) rotate(-90) scale(0.5748652659532922,1)" font-size="10" text-anchor="middle" fill="#222" font-weight="normal" stroke="#222" stroke-width="0.25">CD4</text>
<text transform="translate(312.00,332.70) scale(0.618870009669844,1)" font-size="9.5" text-anchor="middle" fill="#222" font-weight="normal" stroke="#222" stroke-width="0.25">Gr1</text>
<line x1="294.30" y1="446.50" x2="294.30" y2="408.50" stroke="#111" stroke-width="1.1" />
<line x1="293.75" y1="446.50" x2="328.00" y2="446.50" stroke="#111" stroke-width="1.1" />
<polygon points="294.30,405.50 292.10,410.50 296.50,410.50" fill="#111"/>
<polygon points="331.00,446.50 326.00,444.30 326.00,448.70" fill="#111"/>
<text transform="translate(288.50,423.70) rotate(-90) scale(0.5748652659532922,1)" font-size="10" text-anchor="middle" fill="#222" font-weight="normal" stroke="#222" stroke-width="0.25">CD4</text>
<text transform="translate(311.70,458.00) scale(0.618870009669844,1)" font-size="9.5" text-anchor="middle" fill="#222" font-weight="normal" stroke="#222" stroke-width="0.25">Gr1</text>
<line x1="47.50" y1="505.50" x2="221.50" y2="505.50" stroke="#111" stroke-width="1.2" />
<line x1="257.50" y1="505.50" x2="435.00" y2="505.50" stroke="#111" stroke-width="1.2" />
<text x="136.90" y="499.80" font-size="8.6" text-anchor="middle" fill="#7aae5c" font-weight="normal" font-style="italic" stroke="#7aae5c" stroke-width="0.1" >Donor CD4+</text>
<text x="342.50" y="499.80" font-size="8.6" text-anchor="middle" fill="#9c2a5c" font-weight="normal" font-style="italic" stroke="#9c2a5c" stroke-width="0.1" >Donor CD8+</text>
<line x1="43.90" y1="520.50" x2="43.90" y2="617.60" stroke="#111" stroke-width="1.3" />
<line x1="43.30" y1="617.00" x2="98.80" y2="617.00" stroke="#111" stroke-width="1.3" />
<line x1="40.90" y1="617.00" x2="43.90" y2="617.00" stroke="#111" stroke-width="1.2" />
<text x="37.50" y="620.00" font-size="8.5" text-anchor="end" fill="#222" font-weight="normal" font-style="normal" stroke="#222" stroke-width="0.1" >0</text>
<line x1="40.90" y1="593.40" x2="43.90" y2="593.40" stroke="#111" stroke-width="1.2" />
<text x="37.50" y="596.40" font-size="8.5" text-anchor="end" fill="#222" font-weight="normal" font-style="normal" stroke="#222" stroke-width="0.1" >20</text>
<line x1="40.90" y1="569.80" x2="43.90" y2="569.80" stroke="#111" stroke-width="1.2" />
<text x="37.50" y="572.80" font-size="8.5" text-anchor="end" fill="#222" font-weight="normal" font-style="normal" stroke="#222" stroke-width="0.1" >40</text>
<line x1="40.90" y1="546.20" x2="43.90" y2="546.20" stroke="#111" stroke-width="1.2" />
<text x="37.50" y="549.20" font-size="8.5" text-anchor="end" fill="#222" font-weight="normal" font-style="normal" stroke="#222" stroke-width="0.1" >60</text>
<line x1="40.90" y1="522.60" x2="43.90" y2="522.60" stroke="#111" stroke-width="1.2" />
<text x="37.50" y="525.60" font-size="8.5" text-anchor="end" fill="#222" font-weight="normal" font-style="normal" stroke="#222" stroke-width="0.1" >80</text>
<line x1="43.90" y1="617.00" x2="43.90" y2="620.00" stroke="#111" stroke-width="1.2" />
<text x="43.90" y="630.60" font-size="8.5" text-anchor="middle" fill="#222" font-weight="normal" font-style="normal" stroke="#222" stroke-width="0.1" >15</text>
<line x1="61.55" y1="617.00" x2="61.55" y2="620.00" stroke="#111" stroke-width="1.2" />
<text x="61.55" y="630.60" font-size="8.5" text-anchor="middle" fill="#222" font-weight="normal" font-style="normal" stroke="#222" stroke-width="0.1" >20</text>
<line x1="79.20" y1="617.00" x2="79.20" y2="620.00" stroke="#111" stroke-width="1.2" />
<text x="79.20" y="630.60" font-size="8.5" text-anchor="middle" fill="#222" font-weight="normal" font-style="normal" stroke="#222" stroke-width="0.1" >25</text>
<line x1="96.85" y1="617.00" x2="96.85" y2="620.00" stroke="#111" stroke-width="1.2" />
<text x="96.85" y="630.60" font-size="8.5" text-anchor="middle" fill="#222" font-weight="normal" font-style="normal" stroke="#222" stroke-width="0.1" >30</text>
<text transform="translate(71.60,644.50) scale(0.6926228805568414,1)" font-size="9.6" text-anchor="middle" fill="#1a1a1a" font-weight="normal" stroke="#1a1a1a" stroke-width="0.35">Weeks</text>
<text transform="translate(22.20,568.90) rotate(-90) scale(0.7515347227318893,1)" font-size="9.5" text-anchor="middle" fill="#1a1a1a" font-weight="normal" stroke="#1a1a1a" stroke-width="0.2">% of cells in PB</text>
<polyline points="47.30,604.30 61.40,611.90 75.50,613.10 85.80,613.60" fill="none" stroke="#6aab4e" stroke-width="1.4" stroke-dasharray="2,1.6" stroke-linejoin="round"/>
<rect x="45.70" y="602.70" width="3.20" height="3.20" fill="#6aab4e"/>
<rect x="59.80" y="610.30" width="3.20" height="3.20" fill="#6aab4e"/>
<rect x="73.90" y="611.50" width="3.20" height="3.20" fill="#6aab4e"/>
<rect x="84.20" y="612.00" width="3.20" height="3.20" fill="#6aab4e"/>
<line x1="47.30" y1="601.30" x2="47.30" y2="607.30" stroke="#6aab4e" stroke-width="1.1" />
<line x1="45.50" y1="601.30" x2="49.10" y2="601.30" stroke="#6aab4e" stroke-width="1.1" />
<line x1="45.50" y1="607.30" x2="49.10" y2="607.30" stroke="#6aab4e" stroke-width="1.1" />
<polyline points="47.30,607.50 61.40,614.30 75.50,616.00 85.80,617.00" fill="none" stroke="#a3122e" stroke-width="1.6"  stroke-linejoin="round"/>
<polygon points="47.30,605.63 49.17,608.86 45.43,608.86" fill="#a3122e"/>
<polygon points="61.40,612.43 63.27,615.66 59.53,615.66" fill="#a3122e"/>
<polygon points="75.50,614.13 77.37,617.36 73.63,617.36" fill="#a3122e"/>
<polygon points="85.80,615.13 87.67,618.36 83.93,618.36" fill="#a3122e"/>
<polyline points="47.30,597.20 61.40,577.90 75.50,550.50 85.80,540.80" fill="none" stroke="#6aab4e" stroke-width="1.4"  stroke-linejoin="round"/>
<line x1="47.30" y1="592.20" x2="47.30" y2="602.20" stroke="#6aab4e" stroke-width="1.1" />
<line x1="45.30" y1="592.20" x2="49.30" y2="592.20" stroke="#6aab4e" stroke-width="1.1" />
<line x1="45.30" y1="602.20" x2="49.30" y2="602.20" stroke="#6aab4e" stroke-width="1.1" />
<circle cx="47.30" cy="597.20" r="2.00" fill="#6aab4e"/>
<line x1="61.40" y1="571.70" x2="61.40" y2="584.10" stroke="#6aab4e" stroke-width="1.1" />
<line x1="59.40" y1="571.70" x2="63.40" y2="571.70" stroke="#6aab4e" stroke-width="1.1" />
<line x1="59.40" y1="584.10" x2="63.40" y2="584.10" stroke="#6aab4e" stroke-width="1.1" />
<circle cx="61.40" cy="577.90" r="2.00" fill="#6aab4e"/>
<line x1="75.50" y1="541.80" x2="75.50" y2="559.20" stroke="#6aab4e" stroke-width="1.1" />
<line x1="73.50" y1="541.80" x2="77.50" y2="541.80" stroke="#6aab4e" stroke-width="1.1" />
<line x1="73.50" y1="559.20" x2="77.50" y2="559.20" stroke="#6aab4e" stroke-width="1.1" />
<circle cx="75.50" cy="550.50" r="2.00" fill="#6aab4e"/>
<line x1="85.80" y1="535.30" x2="85.80" y2="546.30" stroke="#6aab4e" stroke-width="1.1" />
<line x1="83.80" y1="535.30" x2="87.80" y2="535.30" stroke="#6aab4e" stroke-width="1.1" />
<line x1="83.80" y1="546.30" x2="87.80" y2="546.30" stroke="#6aab4e" stroke-width="1.1" />
<circle cx="85.80" cy="540.80" r="2.00" fill="#6aab4e"/>
<line x1="260.20" y1="521.00" x2="260.20" y2="617.60" stroke="#111" stroke-width="1.3" />
<line x1="259.60" y1="617.00" x2="316.00" y2="617.00" stroke="#111" stroke-width="1.3" />
<line x1="257.20" y1="617.00" x2="260.20" y2="617.00" stroke="#111" stroke-width="1.2" />
<text x="253.40" y="620.00" font-size="8.5" text-anchor="end" fill="#222" font-weight="normal" font-style="normal" stroke="#222" stroke-width="0.1" >0</text>
<line x1="257.20" y1="593.40" x2="260.20" y2="593.40" stroke="#111" stroke-width="1.2" />
<text x="253.40" y="596.40" font-size="8.5" text-anchor="end" fill="#222" font-weight="normal" font-style="normal" stroke="#222" stroke-width="0.1" >20</text>
<line x1="257.20" y1="569.80" x2="260.20" y2="569.80" stroke="#111" stroke-width="1.2" />
<text x="253.40" y="572.80" font-size="8.5" text-anchor="end" fill="#222" font-weight="normal" font-style="normal" stroke="#222" stroke-width="0.1" >40</text>
<line x1="257.20" y1="546.20" x2="260.20" y2="546.20" stroke="#111" stroke-width="1.2" />
<text x="253.40" y="549.20" font-size="8.5" text-anchor="end" fill="#222" font-weight="normal" font-style="normal" stroke="#222" stroke-width="0.1" >60</text>
<line x1="257.20" y1="522.60" x2="260.20" y2="522.60" stroke="#111" stroke-width="1.2" />
<text x="253.40" y="525.60" font-size="8.5" text-anchor="end" fill="#222" font-weight="normal" font-style="normal" stroke="#222" stroke-width="0.1" >80</text>
<line x1="260.20" y1="617.00" x2="260.20" y2="620.00" stroke="#111" stroke-width="1.2" />
<text x="260.20" y="630.60" font-size="8.5" text-anchor="middle" fill="#222" font-weight="normal" font-style="normal" stroke="#222" stroke-width="0.1" >15</text>
<line x1="278.25" y1="617.00" x2="278.25" y2="620.00" stroke="#111" stroke-width="1.2" />
<text x="278.25" y="630.60" font-size="8.5" text-anchor="middle" fill="#222" font-weight="normal" font-style="normal" stroke="#222" stroke-width="0.1" >25</text>
<line x1="296.30" y1="617.00" x2="296.30" y2="620.00" stroke="#111" stroke-width="1.2" />
<text x="296.30" y="630.60" font-size="8.5" text-anchor="middle" fill="#222" font-weight="normal" font-style="normal" stroke="#222" stroke-width="0.1" >35</text>
<line x1="314.35" y1="617.00" x2="314.35" y2="620.00" stroke="#111" stroke-width="1.2" />
<text x="314.35" y="630.60" font-size="8.5" text-anchor="middle" fill="#222" font-weight="normal" font-style="normal" stroke="#222" stroke-width="0.1" >45</text>
<text transform="translate(288.50,644.50) scale(0.6926228805568414,1)" font-size="9.6" text-anchor="middle" fill="#1a1a1a" font-weight="normal" stroke="#1a1a1a" stroke-width="0.35">Weeks</text>
<text transform="translate(241.00,569.30) rotate(-90) scale(0.7575954866248884,1)" font-size="9.5" text-anchor="middle" fill="#1a1a1a" font-weight="normal" stroke="#1a1a1a" stroke-width="0.2">% of cells in PB</text>
<polyline points="262.00,599.00 269.00,602.50 275.50,603.40 281.70,612.60 294.40,608.70 312.00,612.20" fill="none" stroke="#6aab4e" stroke-width="1.4"  stroke-linejoin="round"/>
<polygon points="262.00,597.13 263.87,600.36 260.13,600.36" fill="#6aab4e"/>
<polygon points="269.00,600.63 270.87,603.86 267.13,603.86" fill="#6aab4e"/>
<polygon points="275.50,601.53 277.37,604.76 273.63,604.76" fill="#6aab4e"/>
<polygon points="281.70,610.73 283.57,613.96 279.83,613.96" fill="#6aab4e"/>
<polygon points="294.40,606.83 296.27,610.06 292.53,610.06" fill="#6aab4e"/>
<polygon points="312.00,610.33 313.87,613.56 310.13,613.56" fill="#6aab4e"/>
<polyline points="262.00,602.50 269.00,607.80 275.50,608.70 281.70,613.10 294.40,611.30 312.00,615.40" fill="none" stroke="#a3122e" stroke-width="1.4" stroke-dasharray="2,1.6" stroke-linejoin="round"/>
<rect x="260.30" y="600.80" width="3.40" height="3.40" fill="#a3122e"/>
<rect x="267.30" y="606.10" width="3.40" height="3.40" fill="#a3122e"/>
<rect x="273.80" y="607.00" width="3.40" height="3.40" fill="#a3122e"/>
<rect x="280.00" y="611.40" width="3.40" height="3.40" fill="#a3122e"/>
<rect x="292.70" y="609.60" width="3.40" height="3.40" fill="#a3122e"/>
<rect x="310.30" y="613.70" width="3.40" height="3.40" fill="#a3122e"/>
<polyline points="262.00,615.70 269.00,612.20 275.50,608.70 281.70,606.60 294.40,596.90 312.00,579.30" fill="none" stroke="#a3122e" stroke-width="1.6"  stroke-linejoin="round"/>
<circle cx="262.00" cy="615.70" r="2.00" fill="#a3122e"/>
<circle cx="269.00" cy="612.20" r="2.00" fill="#a3122e"/>
<circle cx="275.50" cy="608.70" r="2.00" fill="#a3122e"/>
<line x1="281.70" y1="602.60" x2="281.70" y2="610.60" stroke="#a3122e" stroke-width="1.1" />
<line x1="279.70" y1="602.60" x2="283.70" y2="602.60" stroke="#a3122e" stroke-width="1.1" />
<line x1="279.70" y1="610.60" x2="283.70" y2="610.60" stroke="#a3122e" stroke-width="1.1" />
<circle cx="281.70" cy="606.60" r="2.00" fill="#a3122e"/>
<line x1="294.40" y1="590.30" x2="294.40" y2="603.50" stroke="#a3122e" stroke-width="1.1" />
<line x1="292.40" y1="590.30" x2="296.40" y2="590.30" stroke="#a3122e" stroke-width="1.1" />
<line x1="292.40" y1="603.50" x2="296.40" y2="603.50" stroke="#a3122e" stroke-width="1.1" />
<circle cx="294.40" cy="596.90" r="2.00" fill="#a3122e"/>
<line x1="312.00" y1="568.60" x2="312.00" y2="590.00" stroke="#a3122e" stroke-width="1.1" />
<line x1="310.00" y1="568.60" x2="314.00" y2="568.60" stroke="#a3122e" stroke-width="1.1" />
<line x1="310.00" y1="590.00" x2="314.00" y2="590.00" stroke="#a3122e" stroke-width="1.1" />
<circle cx="312.00" cy="579.30" r="2.00" fill="#a3122e"/>
<defs>
<filter id="blr" x="-20%" y="-100%" width="140%" height="300%"><feGaussianBlur stdDeviation="0.8"/></filter>
<linearGradient id="g1v" x1="0" y1="0" x2="0" y2="1"><stop offset="0" stop-color="#5f5f5f"/><stop offset="0.7" stop-color="#585858"/><stop offset="1" stop-color="#484848"/></linearGradient>
<linearGradient id="g2h" x1="0" y1="0" x2="1" y2="0"><stop offset="0" stop-color="#404040"/><stop offset="0.35" stop-color="#4c4c4c"/><stop offset="1" stop-color="#5a5a5a"/></linearGradient>
<linearGradient id="g2v" x1="0" y1="0" x2="0" y2="1"><stop offset="0" stop-color="#000" stop-opacity="0"/><stop offset="0.7" stop-color="#000" stop-opacity="0.05"/><stop offset="1" stop-color="#000" stop-opacity="0.25"/></linearGradient>
<linearGradient id="g1l" x1="0" y1="0" x2="0" y2="1"><stop offset="0" stop-color="#444"/><stop offset="1" stop-color="#3a3a3a"/></linearGradient>
</defs>
<rect x="112.20" y="538.20" width="14.40" height="81.40" fill="url(#g1l)" />
<rect x="126.60" y="538.20" width="1.20" height="81.40" fill="#a8a8a8" />
<rect x="127.80" y="538.20" width="84.20" height="81.40" fill="url(#g1v)" />
<rect x="127.80" y="538.20" width="84.20" height="3.00" fill="#666" />
<g filter="url(#blr)"><rect x="113.50" y="588.80" width="12.00" height="1.40" fill="#9a9a9a" opacity="0.9" rx="1"/><rect x="113.50" y="605.50" width="12.00" height="1.00" fill="#707070" opacity="0.7" rx="1"/><rect x="148.50" y="603.90" width="11.30" height="3.00" fill="#fff" opacity="1" rx="1"/><rect x="165.00" y="599.40" width="11.70" height="4.40" fill="#fff" opacity="1" rx="1"/><rect x="181.00" y="603.40" width="11.60" height="2.20" fill="#8e8e8e" opacity="1" rx="1"/><rect x="198.00" y="603.60" width="10.40" height="2.00" fill="#7c7c7c" opacity="1" rx="1"/><rect x="132.30" y="612.80" width="11.70" height="3.00" fill="#707070" opacity="1" rx="1"/><rect x="148.50" y="612.80" width="11.30" height="3.00" fill="#707070" opacity="1" rx="1"/><rect x="165.00" y="612.80" width="11.70" height="3.00" fill="#707070" opacity="1" rx="1"/><rect x="181.00" y="612.80" width="11.60" height="3.00" fill="#707070" opacity="1" rx="1"/><rect x="198.00" y="612.80" width="10.40" height="3.00" fill="#707070" opacity="1" rx="1"/></g>
<g opacity="0.9"><rect x="113.50" y="565.80" width="12.00" height="2.00" fill="#e4e4e4" opacity="1" rx="1"/><rect x="113.50" y="570.00" width="12.00" height="1.80" fill="#d8d8d8" opacity="1" rx="1"/><rect x="113.50" y="573.30" width="12.00" height="1.80" fill="#cccccc" opacity="1" rx="1"/></g>
<rect x="327.00" y="537.40" width="98.80" height="81.60" fill="url(#g2h)" />
<rect x="327.00" y="537.40" width="98.80" height="81.60" fill="url(#g2v)" />
<rect x="327.00" y="537.40" width="98.80" height="3.00" fill="#5a5a5a"  opacity="0.6"/>
<g filter="url(#blr)"><rect x="328.00" y="588.15" width="11.50" height="1.30" fill="#909090" opacity="0.9" rx="1"/><rect x="328.00" y="601.50" width="11.50" height="1.00" fill="#707070" opacity="0.7" rx="1"/><rect x="360.20" y="603.70" width="11.60" height="3.00" fill="#fff" opacity="1" rx="1"/><rect x="376.70" y="604.20" width="11.40" height="2.00" fill="#a8a8a8" opacity="1" rx="1"/><rect x="393.00" y="602.50" width="12.00" height="3.80" fill="#fff" opacity="1" rx="1"/><rect x="409.90" y="602.65" width="11.10" height="3.10" fill="#fff" opacity="1" rx="1"/><rect x="409.90" y="598.50" width="11.10" height="2.00" fill="#b0b0b0" opacity="1" rx="1"/><rect x="343.30" y="612.40" width="11.70" height="2.60" fill="#6a6a6a" opacity="1" rx="1"/><rect x="360.20" y="612.40" width="11.60" height="2.60" fill="#6a6a6a" opacity="1" rx="1"/><rect x="376.70" y="612.40" width="11.40" height="2.60" fill="#6a6a6a" opacity="1" rx="1"/><rect x="393.00" y="612.40" width="12.00" height="2.60" fill="#6a6a6a" opacity="1" rx="1"/><rect x="409.90" y="612.40" width="11.10" height="2.60" fill="#6a6a6a" opacity="1" rx="1"/></g>
<g opacity="0.9"><rect x="327.80" y="566.40" width="11.20" height="2.00" fill="#dcdcdc" opacity="1" rx="1"/><rect x="327.80" y="570.20" width="11.20" height="1.80" fill="#d0d0d0" opacity="1" rx="1"/><rect x="327.80" y="574.00" width="11.20" height="1.80" fill="#c8c8c8" opacity="1" rx="1"/></g>
<text transform="translate(120.40,536.10) rotate(-45)" font-size="8.1" fill="#111" stroke="#111" stroke-width="0.2">Ladder</text>
<text transform="translate(140.40,535.10) rotate(-45)" font-size="8.1" fill="#111" stroke="#111" stroke-width="0.2">H20</text>
<text transform="translate(153.80,536.60) rotate(-45)" font-size="8.1" fill="#111" stroke="#111" stroke-width="0.2">4+Gr1-</text>
<text transform="translate(168.30,537.00) rotate(-45)" font-size="8.1" fill="#111" stroke="#111" stroke-width="0.2">4+Gr1+</text>
<text transform="translate(184.50,535.30) rotate(-45)" font-size="8.1" fill="#111" stroke="#111" stroke-width="0.2">8+Gr1-</text>
<text transform="translate(199.90,535.30) rotate(-45)" font-size="8.1" fill="#111" stroke="#111" stroke-width="0.2">8+Gr1+</text>
<text transform="translate(335.50,535.40) rotate(-45)" font-size="8.1" fill="#111" stroke="#111" stroke-width="0.2">Ladder</text>
<text transform="translate(353.70,535.40) rotate(-45)" font-size="8.1" fill="#111" stroke="#111" stroke-width="0.2">H20</text>
<text transform="translate(368.70,535.40) rotate(-45)" font-size="8.1" fill="#111" stroke="#111" stroke-width="0.2">4+Gr1-</text>
<text transform="translate(383.10,535.40) rotate(-45)" font-size="8.1" fill="#111" stroke="#111" stroke-width="0.2">4+Gr1+</text>
<text transform="translate(399.30,535.00) rotate(-45)" font-size="8.1" fill="#111" stroke="#111" stroke-width="0.2">8+Gr1-</text>
<text transform="translate(413.60,535.00) rotate(-45)" font-size="8.1" fill="#111" stroke="#111" stroke-width="0.2">8+Gr1+</text>
<line x1="112.8" y1="629" x2="124.3" y2="629" stroke="#6aab4e" stroke-width="1.5" />
<circle cx="118.55" cy="629.00" r="2.30" fill="#6aab4e"/>
<text x="127.30" y="632.00" font-size="8.3" text-anchor="start" fill="#1a1a1a" font-weight="normal" font-style="normal" stroke="#1a1a1a" stroke-width="0.1" >CD4+Gr+</text>
<line x1="169.3" y1="629" x2="180.8" y2="629" stroke="#a3122e" stroke-width="1.5" />
<polygon points="175.05,626.69 177.36,630.68 172.74,630.68" fill="#a3122e"/>
<text x="183.80" y="632.00" font-size="8.3" text-anchor="start" fill="#1a1a1a" font-weight="normal" font-style="normal" stroke="#1a1a1a" stroke-width="0.1" >Cd8+</text>
<line x1="112.8" y1="640.3" x2="124.3" y2="640.3" stroke="#6aab4e" stroke-width="1.5" stroke-dasharray="2,1.6"/>
<rect x="116.45" y="638.20" width="4.20" height="4.20" fill="#6aab4e"/>
<text x="127.30" y="643.30" font-size="8.3" text-anchor="start" fill="#1a1a1a" font-weight="normal" font-style="normal" stroke="#1a1a1a" stroke-width="0.1" >CD4+Gr-</text>
<line x1="327" y1="629" x2="338.5" y2="629" stroke="#a3122e" stroke-width="1.5" />
<circle cx="332.75" cy="629.00" r="2.30" fill="#a3122e"/>
<text x="341.50" y="632.00" font-size="8.3" text-anchor="start" fill="#1a1a1a" font-weight="normal" font-style="normal" stroke="#1a1a1a" stroke-width="0.1" >CD8+Gr+</text>
<line x1="382.3" y1="629" x2="393.8" y2="629" stroke="#6aab4e" stroke-width="1.5" />
<polygon points="388.05,626.69 390.36,630.68 385.74,630.68" fill="#6aab4e"/>
<text x="396.80" y="632.00" font-size="8.3" text-anchor="start" fill="#1a1a1a" font-weight="normal" font-style="normal" stroke="#1a1a1a" stroke-width="0.1" >Cd4+</text>
<line x1="327" y1="640.3" x2="338.5" y2="640.3" stroke="#a3122e" stroke-width="1.5" stroke-dasharray="2,1.6"/>
<rect x="330.65" y="638.20" width="4.20" height="4.20" fill="#a3122e"/>
<text x="341.50" y="643.30" font-size="8.3" text-anchor="start" fill="#1a1a1a" font-weight="normal" font-style="normal" stroke="#1a1a1a" stroke-width="0.1" >CD8+Gr-</text>
<line x1="432.00" y1="598.70" x2="446.00" y2="598.70" stroke="#111" stroke-width="1.1" />
<polygon points="429.5,598.7 434,596.7 434,600.7" fill="#111"/>
<line x1="432.00" y1="604.20" x2="446.00" y2="604.20" stroke="#111" stroke-width="1.1" />
<polygon points="429.5,604.2 434,602.2 434,606.2" fill="#111"/>
<text x="448.80" y="600.00" font-size="8" text-anchor="start" fill="#222" font-weight="normal" font-style="normal" stroke="#222" stroke-width="0.1" >KI allele</text>
<text x="448.80" y="610.00" font-size="8" text-anchor="start" fill="#222" font-weight="normal" font-style="normal" stroke="#222" stroke-width="0.1" >Wt allele</text>
</svg></body></html>
